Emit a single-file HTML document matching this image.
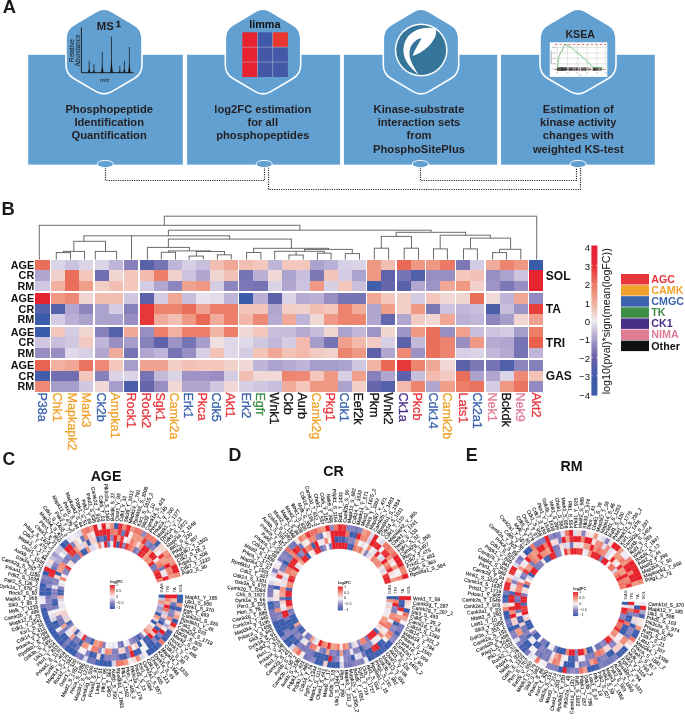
<!DOCTYPE html>
<html><head><meta charset="utf-8"><title>KSEA figure</title>
<style>
html,body{margin:0;padding:0;background:#fff;}
body{width:685px;height:725px;overflow:hidden;}
svg{display:block;font-family:"Liberation Sans", sans-serif;will-change:transform;}
</style></head><body>
<svg width="685" height="725" viewBox="0 0 685 725" font-family='"Liberation Sans", sans-serif'>
<rect x="28.2" y="54.8" width="154.6" height="109.8" fill="#62a0d2"/>
<rect x="187.1" y="54.8" width="153" height="109.8" fill="#62a0d2"/>
<rect x="343.9" y="54.8" width="153.3" height="109.8" fill="#62a0d2"/>
<rect x="501" y="54.8" width="153.8" height="109.8" fill="#62a0d2"/>
<path d="M96.24,11.56 Q104,7 111.76,11.56 L134.24,24.74 Q142,29.3 142,38.3 L142,64.9 Q142,73.9 134.24,78.46 L111.76,91.64 Q104,96.2 96.24,91.64 L73.76,78.46 Q66,73.9 66,64.9 L66,38.3 Q66,29.3 73.76,24.74 Z" fill="#62a0d2" stroke="#fff" stroke-width="1.6"/>
<path d="M255.25,11.58 Q263,7 270.75,11.58 L292.95,24.72 Q300.7,29.3 300.7,38.3 L300.7,64.9 Q300.7,73.9 292.95,78.48 L270.75,91.62 Q263,96.2 255.25,91.62 L233.05,78.48 Q225.3,73.9 225.3,64.9 L225.3,38.3 Q225.3,29.3 233.05,24.72 Z" fill="#62a0d2" stroke="#fff" stroke-width="1.6"/>
<path d="M413.25,11.58 Q421,7 428.75,11.58 L450.95,24.72 Q458.7,29.3 458.7,38.3 L458.7,64.9 Q458.7,73.9 450.95,78.48 L428.75,91.62 Q421,96.2 413.25,91.62 L391.05,78.48 Q383.3,73.9 383.3,64.9 L383.3,38.3 Q383.3,29.3 391.05,24.72 Z" fill="#62a0d2" stroke="#fff" stroke-width="1.6"/>
<path d="M570.24,11.56 Q578,7 585.76,11.56 L608.24,24.74 Q616,29.3 616,38.3 L616,64.9 Q616,73.9 608.24,78.46 L585.76,91.64 Q578,96.2 570.24,91.64 L547.76,78.46 Q540,73.9 540,64.9 L540,38.3 Q540,29.3 547.76,24.74 Z" fill="#62a0d2" stroke="#fff" stroke-width="1.6"/>
<g fill="none" stroke="#2a2a2a" stroke-width="1.2" stroke-dasharray="1.2 1.1">
<path d="M105.5,167.6 V180.5 H264.5 V167.6"/>
<path d="M268.5,167.6 V189.5 H580.5 V167.6"/>
<path d="M420.5,167.6 V180.5 H576.5 V167.6"/>
</g>
<ellipse cx="105.3" cy="164.0" rx="8.1" ry="3.6" fill="#62a0d2" stroke="#fff" stroke-width="0.9"/>
<ellipse cx="264.2" cy="164.0" rx="8.1" ry="3.6" fill="#62a0d2" stroke="#fff" stroke-width="0.9"/>
<ellipse cx="420.4" cy="164.0" rx="8.1" ry="3.6" fill="#62a0d2" stroke="#fff" stroke-width="0.9"/>
<ellipse cx="578.1" cy="164.0" rx="8.1" ry="3.6" fill="#62a0d2" stroke="#fff" stroke-width="0.9"/>
<text x="109.2" y="113" font-size="11.2" font-weight="bold" fill="#231f20" text-anchor="middle" >Phosphopeptide</text>
<text x="109.2" y="126.2" font-size="11.2" font-weight="bold" fill="#231f20" text-anchor="middle" >Identification</text>
<text x="109.2" y="139.4" font-size="11.2" font-weight="bold" fill="#231f20" text-anchor="middle" >Quantification</text>
<text x="262.8" y="113" font-size="11.2" font-weight="bold" fill="#231f20" text-anchor="middle" >log2FC estimation</text>
<text x="262.8" y="126.2" font-size="11.2" font-weight="bold" fill="#231f20" text-anchor="middle" >for all</text>
<text x="262.8" y="139.4" font-size="11.2" font-weight="bold" fill="#231f20" text-anchor="middle" >phosphopeptides</text>
<text x="419" y="113" font-size="11.2" font-weight="bold" fill="#231f20" text-anchor="middle" >Kinase-substrate</text>
<text x="419" y="126.2" font-size="11.2" font-weight="bold" fill="#231f20" text-anchor="middle" >interaction sets</text>
<text x="419" y="139.4" font-size="11.2" font-weight="bold" fill="#231f20" text-anchor="middle" >from</text>
<text x="419" y="152.6" font-size="11.2" font-weight="bold" fill="#231f20" text-anchor="middle" >PhosphoSitePlus</text>
<text x="578.3" y="113" font-size="11.2" font-weight="bold" fill="#231f20" text-anchor="middle" >Estimation of</text>
<text x="578.3" y="126.2" font-size="11.2" font-weight="bold" fill="#231f20" text-anchor="middle" >kinase activity</text>
<text x="578.3" y="139.4" font-size="11.2" font-weight="bold" fill="#231f20" text-anchor="middle" >changes with</text>
<text x="578.3" y="152.6" font-size="11.2" font-weight="bold" fill="#231f20" text-anchor="middle" >weighted KS-test</text>
<g>
<text x="96.8" y="30" font-size="10.4" font-weight="bold" fill="#231f20" text-anchor="start" textLength="17" lengthAdjust="spacingAndGlyphs">MS</text>
<text x="115.9" y="26.5" font-size="8.4" font-weight="bold" fill="#231f20" text-anchor="start" stroke="#231f20" stroke-width="0.3">1</text>
<path d="M81.4,27.3 V72.7 H133.6" fill="none" stroke="#111" stroke-width="0.9"/>
<path d="M89.2,72.7 V60.8" stroke="#111" stroke-width="0.7"/>
<path d="M87.9,72.7 L89.2,68.53 L90.5,72.7Z" fill="#111"/>
<path d="M93.9,72.7 V64.1" stroke="#111" stroke-width="0.7"/>
<path d="M92.6,72.7 L93.9,69.69 L95.2,72.7Z" fill="#111"/>
<path d="M102.3,72.7 V51.6" stroke="#111" stroke-width="0.7"/>
<path d="M101,72.7 L102.3,65.31 L103.6,72.7Z" fill="#111"/>
<path d="M111.5,72.7 V36.5" stroke="#111" stroke-width="0.7"/>
<path d="M110.2,72.7 L111.5,60.03 L112.8,72.7Z" fill="#111"/>
<path d="M119.8,72.7 V66.1" stroke="#111" stroke-width="0.7"/>
<path d="M118.5,72.7 L119.8,70.39 L121.1,72.7Z" fill="#111"/>
<path d="M124.4,72.7 V60.8" stroke="#111" stroke-width="0.7"/>
<path d="M123.1,72.7 L124.4,68.53 L125.7,72.7Z" fill="#111"/>
<path d="M129.4,72.7 V47" stroke="#111" stroke-width="0.7"/>
<path d="M128.1,72.7 L129.4,63.7 L130.7,72.7Z" fill="#111"/>
<text transform="translate(74.4,50.5) rotate(-90)" font-size="6.3" text-anchor="middle" fill="#111">Relative</text>
<text transform="translate(80.0,50.5) rotate(-90)" font-size="6.3" text-anchor="middle" fill="#111">Abundance</text>
<text x="104.7" y="82.2" font-size="6" text-anchor="middle" fill="#111">m/z</text>
</g>
<text x="264.8" y="27.6" font-size="10.8" font-weight="bold" fill="#111" text-anchor="middle" >limma</text>
<rect x="242.3" y="32.3" width="15.2" height="14.9" fill="#e8222f"/>
<rect x="257.5" y="32.3" width="15.2" height="14.9" fill="#3f5aa8"/>
<rect x="272.7" y="32.3" width="15.2" height="14.9" fill="#e8382f"/>
<rect x="242.3" y="47.2" width="15.2" height="14.9" fill="#e8222f"/>
<rect x="257.5" y="47.2" width="15.2" height="14.9" fill="#4458a8"/>
<rect x="272.7" y="47.2" width="15.2" height="14.9" fill="#4458a8"/>
<rect x="242.3" y="62.1" width="15.2" height="14.9" fill="#e8222f"/>
<rect x="257.5" y="62.1" width="15.2" height="14.9" fill="#4458a8"/>
<rect x="272.7" y="62.1" width="15.2" height="14.9" fill="#4458a8"/>
<g stroke="#d8d0e0" stroke-width="0.5" opacity="0.8">
<line x1="257.5" y1="32.3" x2="257.5" y2="77"/>
<line x1="242.3" y1="47.2" x2="287.9" y2="47.2"/>
<line x1="272.7" y1="32.3" x2="272.7" y2="77"/>
<line x1="242.3" y1="62.1" x2="287.9" y2="62.1"/>
</g>
<circle cx="421.2" cy="50.0" r="26.45" fill="#fff"/>
<circle cx="421.2" cy="50.0" r="24.95" fill="#357599"/>
<g transform="translate(393,22) scale(0.081753)">
<path d="M314.0,646.0 C302.5,635.8 269.8,612.3 245.0,585.0 C220.2,557.7 184.2,516.2 165.0,482.0 C145.8,447.8 135.0,413.7 130.0,380.0 C125.0,346.3 127.5,311.7 135.0,280.0 C142.5,248.3 155.8,216.7 175.0,190.0 C194.2,163.3 220.8,138.3 250.0,120.0 C279.2,101.7 316.7,88.3 350.0,80.0 C383.3,71.7 423.3,69.2 450.0,70.0 C476.7,70.8 497.0,77.0 510.0,85.0 C523.0,93.0 525.0,112.5 528.0,118.0 C526.7,126.7 526.3,152.2 520.0,170.0 C513.7,187.8 503.3,205.0 490.0,225.0 C476.7,245.0 460.0,269.2 440.0,290.0 C420.0,310.8 393.3,333.0 370.0,350.0 C346.7,367.0 322.0,381.2 300.0,392.0 C278.0,402.8 248.3,411.2 238.0,415.0 C243.0,403.3 256.0,369.5 268.0,345.0 C280.0,320.5 296.0,292.5 310.0,268.0 C324.0,243.5 345.0,209.7 352.0,198.0 C343.3,200.3 317.3,202.0 300.0,212.0 C282.7,222.0 262.7,240.3 248.0,258.0 C233.3,275.7 219.7,294.3 212.0,318.0 C204.3,341.7 199.8,371.3 202.0,400.0 C204.2,428.7 214.0,461.3 225.0,490.0 C236.0,518.7 253.2,546.0 268.0,572.0 C282.8,598.0 306.3,633.7 314.0,646.0 Z" fill="#fff"/>
</g>
<text x="580.2" y="37.6" font-size="10.6" font-weight="bold" fill="#231f20" text-anchor="middle" >KSEA</text>
<rect x="549.8" y="42.3" width="57.5" height="34.6" fill="#fff"/>
<g transform="translate(547,40) scale(0.093431)">
<line x1="110" y1="40" x2="110" y2="318" stroke="#d4d4d4" stroke-width="7"/>
<line x1="220" y1="40" x2="220" y2="318" stroke="#d4d4d4" stroke-width="7"/>
<line x1="325" y1="40" x2="325" y2="318" stroke="#d4d4d4" stroke-width="7"/>
<line x1="430" y1="40" x2="430" y2="318" stroke="#d4d4d4" stroke-width="7"/>
<line x1="535" y1="40" x2="535" y2="318" stroke="#d4d4d4" stroke-width="7"/>
<line x1="630" y1="40" x2="630" y2="318" stroke="#d4d4d4" stroke-width="7"/>
<line x1="100" y1="80" x2="635" y2="80" stroke="#d4d4d4" stroke-width="7"/>
<line x1="100" y1="140" x2="635" y2="140" stroke="#d4d4d4" stroke-width="7"/>
<line x1="100" y1="195" x2="635" y2="195" stroke="#d4d4d4" stroke-width="7"/>
<line x1="100" y1="255" x2="635" y2="255" stroke="#d4d4d4" stroke-width="7"/>
<line x1="58" y1="80" x2="95" y2="80" stroke="#aaa" stroke-width="9"/>
<line x1="58" y1="140" x2="95" y2="140" stroke="#aaa" stroke-width="9"/>
<line x1="58" y1="195" x2="95" y2="195" stroke="#aaa" stroke-width="9"/>
<line x1="58" y1="255" x2="95" y2="255" stroke="#aaa" stroke-width="9"/>
<line x1="58" y1="310" x2="95" y2="310" stroke="#aaa" stroke-width="9"/>
<line x1="45" y1="120" x2="45" y2="260" stroke="#999" stroke-width="9"/>
<line x1="96" y1="352" x2="124" y2="352" stroke="#bbb" stroke-width="8"/>
<line x1="206" y1="352" x2="234" y2="352" stroke="#bbb" stroke-width="8"/>
<line x1="311" y1="352" x2="339" y2="352" stroke="#bbb" stroke-width="8"/>
<line x1="416" y1="352" x2="444" y2="352" stroke="#bbb" stroke-width="8"/>
<line x1="521" y1="352" x2="549" y2="352" stroke="#bbb" stroke-width="8"/>
<line x1="616" y1="352" x2="644" y2="352" stroke="#bbb" stroke-width="8"/>
<line x1="340" y1="376" x2="372" y2="376" stroke="#bbb" stroke-width="8"/>
<line x1="85" y1="48" x2="632" y2="48" stroke="#e85050" stroke-width="9" stroke-dasharray="24 24"/>
<line x1="85" y1="315" x2="632" y2="315" stroke="#b03030" stroke-width="8" stroke-dasharray="20 12"/>
<line x1="112" y1="292" x2="112" y2="330" stroke="#111" stroke-width="7"/>
<line x1="118" y1="292" x2="118" y2="330" stroke="#111" stroke-width="7"/>
<line x1="124" y1="292" x2="124" y2="330" stroke="#111" stroke-width="7"/>
<line x1="132" y1="292" x2="132" y2="330" stroke="#111" stroke-width="7"/>
<line x1="140" y1="292" x2="140" y2="330" stroke="#111" stroke-width="7"/>
<line x1="148" y1="292" x2="148" y2="330" stroke="#111" stroke-width="7"/>
<line x1="152" y1="292" x2="152" y2="330" stroke="#111" stroke-width="7"/>
<line x1="158" y1="292" x2="158" y2="330" stroke="#111" stroke-width="7"/>
<line x1="165" y1="292" x2="165" y2="330" stroke="#111" stroke-width="7"/>
<line x1="170" y1="292" x2="170" y2="330" stroke="#111" stroke-width="7"/>
<line x1="176" y1="292" x2="176" y2="330" stroke="#111" stroke-width="7"/>
<line x1="183" y1="292" x2="183" y2="330" stroke="#111" stroke-width="7"/>
<line x1="190" y1="292" x2="190" y2="330" stroke="#111" stroke-width="7"/>
<line x1="198" y1="292" x2="198" y2="330" stroke="#111" stroke-width="7"/>
<line x1="205" y1="292" x2="205" y2="330" stroke="#111" stroke-width="7"/>
<line x1="212" y1="292" x2="212" y2="330" stroke="#111" stroke-width="7"/>
<line x1="235" y1="292" x2="235" y2="330" stroke="#111" stroke-width="7"/>
<line x1="243" y1="292" x2="243" y2="330" stroke="#111" stroke-width="7"/>
<line x1="250" y1="292" x2="250" y2="330" stroke="#111" stroke-width="7"/>
<line x1="258" y1="292" x2="258" y2="330" stroke="#111" stroke-width="7"/>
<line x1="266" y1="292" x2="266" y2="330" stroke="#111" stroke-width="7"/>
<line x1="275" y1="292" x2="275" y2="330" stroke="#111" stroke-width="7"/>
<line x1="290" y1="292" x2="290" y2="330" stroke="#111" stroke-width="7"/>
<line x1="300" y1="292" x2="300" y2="330" stroke="#111" stroke-width="7"/>
<line x1="312" y1="292" x2="312" y2="330" stroke="#111" stroke-width="7"/>
<line x1="320" y1="292" x2="320" y2="330" stroke="#111" stroke-width="7"/>
<line x1="330" y1="292" x2="330" y2="330" stroke="#111" stroke-width="7"/>
<line x1="345" y1="292" x2="345" y2="330" stroke="#111" stroke-width="7"/>
<line x1="368" y1="292" x2="368" y2="330" stroke="#111" stroke-width="7"/>
<line x1="378" y1="292" x2="378" y2="330" stroke="#111" stroke-width="7"/>
<line x1="388" y1="292" x2="388" y2="330" stroke="#111" stroke-width="7"/>
<line x1="400" y1="292" x2="400" y2="330" stroke="#111" stroke-width="7"/>
<line x1="410" y1="292" x2="410" y2="330" stroke="#111" stroke-width="7"/>
<line x1="418" y1="292" x2="418" y2="330" stroke="#111" stroke-width="7"/>
<line x1="440" y1="292" x2="440" y2="330" stroke="#111" stroke-width="7"/>
<line x1="462" y1="292" x2="462" y2="330" stroke="#111" stroke-width="7"/>
<line x1="495" y1="292" x2="495" y2="330" stroke="#111" stroke-width="7"/>
<line x1="502" y1="292" x2="502" y2="330" stroke="#111" stroke-width="7"/>
<line x1="508" y1="292" x2="508" y2="330" stroke="#111" stroke-width="7"/>
<line x1="515" y1="292" x2="515" y2="330" stroke="#111" stroke-width="7"/>
<line x1="522" y1="292" x2="522" y2="330" stroke="#111" stroke-width="7"/>
<line x1="528" y1="292" x2="528" y2="330" stroke="#111" stroke-width="7"/>
<line x1="540" y1="292" x2="540" y2="330" stroke="#111" stroke-width="7"/>
<line x1="555" y1="292" x2="555" y2="330" stroke="#111" stroke-width="7"/>
<line x1="568" y1="292" x2="568" y2="330" stroke="#111" stroke-width="7"/>
<line x1="580" y1="292" x2="580" y2="330" stroke="#111" stroke-width="7"/>
<polyline points="110,312 118,240 125,185 140,150 150,125 162,120 172,85 182,60 195,52 212,55 235,68 262,82 295,110 330,140 375,180 420,220 460,258 492,292 540,297 600,302" fill="none" stroke="#4caf50" stroke-width="8" stroke-linejoin="round"/>
</g>
<text x="2.8" y="13.1" font-size="18.4" font-weight="bold" fill="#1a1a1a">A</text>
<g shape-rendering="crispEdges">
<rect x="35.44" y="259.63" width="14.1" height="10.5" fill="#ea6f5b"/>
<rect x="35.44" y="270.07" width="14.1" height="10.5" fill="#b0a6d0"/>
<rect x="35.44" y="280.52" width="14.1" height="10.5" fill="#d0c7e1"/>
<rect x="35.44" y="293.2" width="14.1" height="10.5" fill="#e52432"/>
<rect x="35.44" y="303.65" width="14.1" height="10.5" fill="#5560aa"/>
<rect x="35.44" y="314.1" width="14.1" height="10.5" fill="#3b5caa"/>
<rect x="35.44" y="326.78" width="14.1" height="10.5" fill="#3b5caa"/>
<rect x="35.44" y="337.23" width="14.1" height="10.5" fill="#d0c7e1"/>
<rect x="35.44" y="347.67" width="14.1" height="10.5" fill="#988ec2"/>
<rect x="35.44" y="360.36" width="14.1" height="10.5" fill="#e96450"/>
<rect x="35.44" y="370.8" width="14.1" height="10.5" fill="#425daa"/>
<rect x="35.44" y="381.25" width="14.1" height="10.5" fill="#ed8975"/>
<rect x="50.94" y="259.63" width="14.1" height="10.5" fill="#dbd4e6"/>
<rect x="50.94" y="270.07" width="14.1" height="10.5" fill="#f2d1cc"/>
<rect x="50.94" y="280.52" width="14.1" height="10.5" fill="#f1b0a0"/>
<rect x="50.94" y="293.2" width="14.1" height="10.5" fill="#ef9985"/>
<rect x="50.94" y="303.65" width="14.1" height="10.5" fill="#5560aa"/>
<rect x="50.94" y="314.1" width="14.1" height="10.5" fill="#d3cce3"/>
<rect x="50.94" y="326.78" width="14.1" height="10.5" fill="#f3c7bc"/>
<rect x="50.94" y="337.23" width="14.1" height="10.5" fill="#c8bfdd"/>
<rect x="50.94" y="347.67" width="14.1" height="10.5" fill="#988ec2"/>
<rect x="50.94" y="360.36" width="14.1" height="10.5" fill="#f1b0a0"/>
<rect x="50.94" y="370.8" width="14.1" height="10.5" fill="#716fb1"/>
<rect x="50.94" y="381.25" width="14.1" height="10.5" fill="#a69dca"/>
<rect x="65" y="259.63" width="14.1" height="10.5" fill="#ccc3df"/>
<rect x="65" y="270.07" width="14.1" height="10.5" fill="#ea6f5b"/>
<rect x="65" y="280.52" width="14.1" height="10.5" fill="#ea6f5b"/>
<rect x="65" y="293.2" width="14.1" height="10.5" fill="#ed8975"/>
<rect x="65" y="303.65" width="14.1" height="10.5" fill="#b0a6d0"/>
<rect x="65" y="314.1" width="14.1" height="10.5" fill="#bab0d5"/>
<rect x="65" y="326.78" width="14.1" height="10.5" fill="#d3cce3"/>
<rect x="65" y="337.23" width="14.1" height="10.5" fill="#d0c7e1"/>
<rect x="65" y="347.67" width="14.1" height="10.5" fill="#dfd8e8"/>
<rect x="65" y="360.36" width="14.1" height="10.5" fill="#f0a796"/>
<rect x="65" y="370.8" width="14.1" height="10.5" fill="#716fb1"/>
<rect x="65" y="381.25" width="14.1" height="10.5" fill="#a69dca"/>
<rect x="79.05" y="259.63" width="14.1" height="10.5" fill="#dbd4e6"/>
<rect x="79.05" y="270.07" width="14.1" height="10.5" fill="#f3c7bc"/>
<rect x="79.05" y="280.52" width="14.1" height="10.5" fill="#ef9e8a"/>
<rect x="79.05" y="293.2" width="14.1" height="10.5" fill="#f1d5d1"/>
<rect x="79.05" y="303.65" width="14.1" height="10.5" fill="#8d85bd"/>
<rect x="79.05" y="314.1" width="14.1" height="10.5" fill="#aba2cd"/>
<rect x="79.05" y="326.78" width="14.1" height="10.5" fill="#f1d5d1"/>
<rect x="79.05" y="337.23" width="14.1" height="10.5" fill="#f2cac1"/>
<rect x="79.05" y="347.67" width="14.1" height="10.5" fill="#d7d0e5"/>
<rect x="79.05" y="360.36" width="14.1" height="10.5" fill="#eb7460"/>
<rect x="79.05" y="370.8" width="14.1" height="10.5" fill="#f3c7bc"/>
<rect x="79.05" y="381.25" width="14.1" height="10.5" fill="#d0c7e1"/>
<rect x="94.55" y="259.63" width="14.1" height="10.5" fill="#dbd4e6"/>
<rect x="94.55" y="270.07" width="14.1" height="10.5" fill="#716fb1"/>
<rect x="94.55" y="280.52" width="14.1" height="10.5" fill="#f2cec6"/>
<rect x="94.55" y="293.2" width="14.1" height="10.5" fill="#f2beb1"/>
<rect x="94.55" y="303.65" width="14.1" height="10.5" fill="#aba2cd"/>
<rect x="94.55" y="314.1" width="14.1" height="10.5" fill="#aba2cd"/>
<rect x="94.55" y="326.78" width="14.1" height="10.5" fill="#8781bb"/>
<rect x="94.55" y="337.23" width="14.1" height="10.5" fill="#beb5d8"/>
<rect x="94.55" y="347.67" width="14.1" height="10.5" fill="#b0a6d0"/>
<rect x="94.55" y="360.36" width="14.1" height="10.5" fill="#ed8975"/>
<rect x="94.55" y="370.8" width="14.1" height="10.5" fill="#8781bb"/>
<rect x="94.55" y="381.25" width="14.1" height="10.5" fill="#f0d8d6"/>
<rect x="108.6" y="259.63" width="14.1" height="10.5" fill="#beb5d8"/>
<rect x="108.6" y="270.07" width="14.1" height="10.5" fill="#f1d5d1"/>
<rect x="108.6" y="280.52" width="14.1" height="10.5" fill="#f2beb1"/>
<rect x="108.6" y="293.2" width="14.1" height="10.5" fill="#f2beb1"/>
<rect x="108.6" y="303.65" width="14.1" height="10.5" fill="#d3cce3"/>
<rect x="108.6" y="314.1" width="14.1" height="10.5" fill="#aba2cd"/>
<rect x="108.6" y="326.78" width="14.1" height="10.5" fill="#5560aa"/>
<rect x="108.6" y="337.23" width="14.1" height="10.5" fill="#988ec2"/>
<rect x="108.6" y="347.67" width="14.1" height="10.5" fill="#f1ab9b"/>
<rect x="108.6" y="360.36" width="14.1" height="10.5" fill="#f3c7bc"/>
<rect x="108.6" y="370.8" width="14.1" height="10.5" fill="#dbd4e6"/>
<rect x="108.6" y="381.25" width="14.1" height="10.5" fill="#a69dca"/>
<rect x="124.11" y="259.63" width="14.1" height="10.5" fill="#8781bb"/>
<rect x="124.11" y="270.07" width="14.1" height="10.5" fill="#f3c7bc"/>
<rect x="124.11" y="280.52" width="14.1" height="10.5" fill="#f3c7bc"/>
<rect x="124.11" y="293.2" width="14.1" height="10.5" fill="#d0c7e1"/>
<rect x="124.11" y="303.65" width="14.1" height="10.5" fill="#8781bb"/>
<rect x="124.11" y="314.1" width="14.1" height="10.5" fill="#988ec2"/>
<rect x="124.11" y="326.78" width="14.1" height="10.5" fill="#f0a796"/>
<rect x="124.11" y="337.23" width="14.1" height="10.5" fill="#a69dca"/>
<rect x="124.11" y="347.67" width="14.1" height="10.5" fill="#7674b4"/>
<rect x="124.11" y="360.36" width="14.1" height="10.5" fill="#a69dca"/>
<rect x="124.11" y="370.8" width="14.1" height="10.5" fill="#dbd4e6"/>
<rect x="124.11" y="381.25" width="14.1" height="10.5" fill="#4a5eaa"/>
<rect x="139.61" y="259.63" width="14.1" height="10.5" fill="#5961aa"/>
<rect x="139.61" y="270.07" width="14.1" height="10.5" fill="#f2b9ac"/>
<rect x="139.61" y="280.52" width="14.1" height="10.5" fill="#d3cce3"/>
<rect x="139.61" y="293.2" width="14.1" height="10.5" fill="#5c61aa"/>
<rect x="139.61" y="303.65" width="14.1" height="10.5" fill="#e6373b"/>
<rect x="139.61" y="314.1" width="14.1" height="10.5" fill="#e6373b"/>
<rect x="139.61" y="326.78" width="14.1" height="10.5" fill="#988ec2"/>
<rect x="139.61" y="337.23" width="14.1" height="10.5" fill="#8781bb"/>
<rect x="139.61" y="347.67" width="14.1" height="10.5" fill="#b0a6d0"/>
<rect x="139.61" y="360.36" width="14.1" height="10.5" fill="#f0a290"/>
<rect x="139.61" y="370.8" width="14.1" height="10.5" fill="#7674b4"/>
<rect x="139.61" y="381.25" width="14.1" height="10.5" fill="#6666ac"/>
<rect x="153.66" y="259.63" width="14.1" height="10.5" fill="#7674b4"/>
<rect x="153.66" y="270.07" width="14.1" height="10.5" fill="#ec7e6a"/>
<rect x="153.66" y="280.52" width="14.1" height="10.5" fill="#b0a6d0"/>
<rect x="153.66" y="293.2" width="14.1" height="10.5" fill="#d3cce3"/>
<rect x="153.66" y="303.65" width="14.1" height="10.5" fill="#ed8470"/>
<rect x="153.66" y="314.1" width="14.1" height="10.5" fill="#f1ab9b"/>
<rect x="153.66" y="326.78" width="14.1" height="10.5" fill="#ec7e6a"/>
<rect x="153.66" y="337.23" width="14.1" height="10.5" fill="#6062aa"/>
<rect x="153.66" y="347.67" width="14.1" height="10.5" fill="#beb5d8"/>
<rect x="153.66" y="360.36" width="14.1" height="10.5" fill="#f0a290"/>
<rect x="153.66" y="370.8" width="14.1" height="10.5" fill="#c3bada"/>
<rect x="153.66" y="381.25" width="14.1" height="10.5" fill="#988ec2"/>
<rect x="167.71" y="259.63" width="14.1" height="10.5" fill="#beb5d8"/>
<rect x="167.71" y="270.07" width="14.1" height="10.5" fill="#f2d1cc"/>
<rect x="167.71" y="280.52" width="14.1" height="10.5" fill="#8d85bd"/>
<rect x="167.71" y="293.2" width="14.1" height="10.5" fill="#f0a796"/>
<rect x="167.71" y="303.65" width="14.1" height="10.5" fill="#ed8470"/>
<rect x="167.71" y="314.1" width="14.1" height="10.5" fill="#f2beb1"/>
<rect x="167.71" y="326.78" width="14.1" height="10.5" fill="#f1b0a0"/>
<rect x="167.71" y="337.23" width="14.1" height="10.5" fill="#9d93c5"/>
<rect x="167.71" y="347.67" width="14.1" height="10.5" fill="#7674b4"/>
<rect x="167.71" y="360.36" width="14.1" height="10.5" fill="#f2cec6"/>
<rect x="167.71" y="370.8" width="14.1" height="10.5" fill="#dbd4e6"/>
<rect x="167.71" y="381.25" width="14.1" height="10.5" fill="#f0d8d6"/>
<rect x="181.76" y="259.63" width="14.1" height="10.5" fill="#d7d0e5"/>
<rect x="181.76" y="270.07" width="14.1" height="10.5" fill="#ccc3df"/>
<rect x="181.76" y="280.52" width="14.1" height="10.5" fill="#f0a290"/>
<rect x="181.76" y="293.2" width="14.1" height="10.5" fill="#c8bfdd"/>
<rect x="181.76" y="303.65" width="14.1" height="10.5" fill="#ea6f5b"/>
<rect x="181.76" y="314.1" width="14.1" height="10.5" fill="#ef9985"/>
<rect x="181.76" y="326.78" width="14.1" height="10.5" fill="#ec7e6a"/>
<rect x="181.76" y="337.23" width="14.1" height="10.5" fill="#7674b4"/>
<rect x="181.76" y="347.67" width="14.1" height="10.5" fill="#988ec2"/>
<rect x="181.76" y="360.36" width="14.1" height="10.5" fill="#f3c2b6"/>
<rect x="181.76" y="370.8" width="14.1" height="10.5" fill="#9d93c5"/>
<rect x="181.76" y="381.25" width="14.1" height="10.5" fill="#b0a6d0"/>
<rect x="195.81" y="259.63" width="14.1" height="10.5" fill="#c8bfdd"/>
<rect x="195.81" y="270.07" width="14.1" height="10.5" fill="#b0a6d0"/>
<rect x="195.81" y="280.52" width="14.1" height="10.5" fill="#ef9985"/>
<rect x="195.81" y="293.2" width="14.1" height="10.5" fill="#e6e1ec"/>
<rect x="195.81" y="303.65" width="14.1" height="10.5" fill="#f0a290"/>
<rect x="195.81" y="314.1" width="14.1" height="10.5" fill="#ea6955"/>
<rect x="195.81" y="326.78" width="14.1" height="10.5" fill="#ec7e6a"/>
<rect x="195.81" y="337.23" width="14.1" height="10.5" fill="#a69dca"/>
<rect x="195.81" y="347.67" width="14.1" height="10.5" fill="#d7d0e5"/>
<rect x="195.81" y="360.36" width="14.1" height="10.5" fill="#f3c7bc"/>
<rect x="195.81" y="370.8" width="14.1" height="10.5" fill="#9d93c5"/>
<rect x="195.81" y="381.25" width="14.1" height="10.5" fill="#b0a6d0"/>
<rect x="209.86" y="259.63" width="14.1" height="10.5" fill="#f2beb1"/>
<rect x="209.86" y="270.07" width="14.1" height="10.5" fill="#f1d5d1"/>
<rect x="209.86" y="280.52" width="14.1" height="10.5" fill="#d3cce3"/>
<rect x="209.86" y="293.2" width="14.1" height="10.5" fill="#e3dcea"/>
<rect x="209.86" y="303.65" width="14.1" height="10.5" fill="#ec7e6a"/>
<rect x="209.86" y="314.1" width="14.1" height="10.5" fill="#f1ab9b"/>
<rect x="209.86" y="326.78" width="14.1" height="10.5" fill="#f1b5a6"/>
<rect x="209.86" y="337.23" width="14.1" height="10.5" fill="#f0dfe0"/>
<rect x="209.86" y="347.67" width="14.1" height="10.5" fill="#f3c2b6"/>
<rect x="209.86" y="360.36" width="14.1" height="10.5" fill="#f3c7bc"/>
<rect x="209.86" y="370.8" width="14.1" height="10.5" fill="#988ec2"/>
<rect x="209.86" y="381.25" width="14.1" height="10.5" fill="#d0c7e1"/>
<rect x="223.91" y="259.63" width="14.1" height="10.5" fill="#f0a796"/>
<rect x="223.91" y="270.07" width="14.1" height="10.5" fill="#f3c2b6"/>
<rect x="223.91" y="280.52" width="14.1" height="10.5" fill="#8d85bd"/>
<rect x="223.91" y="293.2" width="14.1" height="10.5" fill="#beb5d8"/>
<rect x="223.91" y="303.65" width="14.1" height="10.5" fill="#ec7e6a"/>
<rect x="223.91" y="314.1" width="14.1" height="10.5" fill="#ec7e6a"/>
<rect x="223.91" y="326.78" width="14.1" height="10.5" fill="#ec7e6a"/>
<rect x="223.91" y="337.23" width="14.1" height="10.5" fill="#dfd8e8"/>
<rect x="223.91" y="347.67" width="14.1" height="10.5" fill="#dfd8e8"/>
<rect x="223.91" y="360.36" width="14.1" height="10.5" fill="#f2d1cc"/>
<rect x="223.91" y="370.8" width="14.1" height="10.5" fill="#d3cce3"/>
<rect x="223.91" y="381.25" width="14.1" height="10.5" fill="#f0d8d6"/>
<rect x="239.42" y="259.63" width="14.1" height="10.5" fill="#f2beb1"/>
<rect x="239.42" y="270.07" width="14.1" height="10.5" fill="#7674b4"/>
<rect x="239.42" y="280.52" width="14.1" height="10.5" fill="#7c78b6"/>
<rect x="239.42" y="293.2" width="14.1" height="10.5" fill="#3b5caa"/>
<rect x="239.42" y="303.65" width="14.1" height="10.5" fill="#f3c5b9"/>
<rect x="239.42" y="314.1" width="14.1" height="10.5" fill="#f2b7a9"/>
<rect x="239.42" y="326.78" width="14.1" height="10.5" fill="#f0d8d6"/>
<rect x="239.42" y="337.23" width="14.1" height="10.5" fill="#dfd8e8"/>
<rect x="239.42" y="347.67" width="14.1" height="10.5" fill="#d3cce3"/>
<rect x="239.42" y="360.36" width="14.1" height="10.5" fill="#f0d8d6"/>
<rect x="239.42" y="370.8" width="14.1" height="10.5" fill="#f2beb1"/>
<rect x="239.42" y="381.25" width="14.1" height="10.5" fill="#d7d0e5"/>
<rect x="253.47" y="259.63" width="14.1" height="10.5" fill="#f3c7bc"/>
<rect x="253.47" y="270.07" width="14.1" height="10.5" fill="#bab0d5"/>
<rect x="253.47" y="280.52" width="14.1" height="10.5" fill="#7674b4"/>
<rect x="253.47" y="293.2" width="14.1" height="10.5" fill="#bab0d5"/>
<rect x="253.47" y="303.65" width="14.1" height="10.5" fill="#f3c5b9"/>
<rect x="253.47" y="314.1" width="14.1" height="10.5" fill="#ed8975"/>
<rect x="253.47" y="326.78" width="14.1" height="10.5" fill="#f3c7bc"/>
<rect x="253.47" y="337.23" width="14.1" height="10.5" fill="#d0c7e1"/>
<rect x="253.47" y="347.67" width="14.1" height="10.5" fill="#f3c5b9"/>
<rect x="253.47" y="360.36" width="14.1" height="10.5" fill="#beb5d8"/>
<rect x="253.47" y="370.8" width="14.1" height="10.5" fill="#f0d8d6"/>
<rect x="253.47" y="381.25" width="14.1" height="10.5" fill="#d0c7e1"/>
<rect x="267.51" y="259.63" width="14.1" height="10.5" fill="#beb5d8"/>
<rect x="267.51" y="270.07" width="14.1" height="10.5" fill="#f0d8d6"/>
<rect x="267.51" y="280.52" width="14.1" height="10.5" fill="#dbd4e6"/>
<rect x="267.51" y="293.2" width="14.1" height="10.5" fill="#5c61aa"/>
<rect x="267.51" y="303.65" width="14.1" height="10.5" fill="#b0a6d0"/>
<rect x="267.51" y="314.1" width="14.1" height="10.5" fill="#b5abd2"/>
<rect x="267.51" y="326.78" width="14.1" height="10.5" fill="#c8bfdd"/>
<rect x="267.51" y="337.23" width="14.1" height="10.5" fill="#c1b8d9"/>
<rect x="267.51" y="347.67" width="14.1" height="10.5" fill="#f0a796"/>
<rect x="267.51" y="360.36" width="14.1" height="10.5" fill="#aba2cd"/>
<rect x="267.51" y="370.8" width="14.1" height="10.5" fill="#f0d8d6"/>
<rect x="267.51" y="381.25" width="14.1" height="10.5" fill="#c8bfdd"/>
<rect x="281.56" y="259.63" width="14.1" height="10.5" fill="#f3c7bc"/>
<rect x="281.56" y="270.07" width="14.1" height="10.5" fill="#aba2cd"/>
<rect x="281.56" y="280.52" width="14.1" height="10.5" fill="#b0a6d0"/>
<rect x="281.56" y="293.2" width="14.1" height="10.5" fill="#dbd4e6"/>
<rect x="281.56" y="303.65" width="14.1" height="10.5" fill="#f2cec6"/>
<rect x="281.56" y="314.1" width="14.1" height="10.5" fill="#f0a998"/>
<rect x="281.56" y="326.78" width="14.1" height="10.5" fill="#c6bddc"/>
<rect x="281.56" y="337.23" width="14.1" height="10.5" fill="#d3cce3"/>
<rect x="281.56" y="347.67" width="14.1" height="10.5" fill="#f3c2b6"/>
<rect x="281.56" y="360.36" width="14.1" height="10.5" fill="#b5abd2"/>
<rect x="281.56" y="370.8" width="14.1" height="10.5" fill="#ed8470"/>
<rect x="281.56" y="381.25" width="14.1" height="10.5" fill="#f1ab9b"/>
<rect x="295.62" y="259.63" width="14.1" height="10.5" fill="#f3c7bc"/>
<rect x="295.62" y="270.07" width="14.1" height="10.5" fill="#c8bfdd"/>
<rect x="295.62" y="280.52" width="14.1" height="10.5" fill="#ccc3df"/>
<rect x="295.62" y="293.2" width="14.1" height="10.5" fill="#b5abd2"/>
<rect x="295.62" y="303.65" width="14.1" height="10.5" fill="#f2d1cc"/>
<rect x="295.62" y="314.1" width="14.1" height="10.5" fill="#beb5d8"/>
<rect x="295.62" y="326.78" width="14.1" height="10.5" fill="#b5abd2"/>
<rect x="295.62" y="337.23" width="14.1" height="10.5" fill="#f2b9ac"/>
<rect x="295.62" y="347.67" width="14.1" height="10.5" fill="#f2b9ac"/>
<rect x="295.62" y="360.36" width="14.1" height="10.5" fill="#beb5d8"/>
<rect x="295.62" y="370.8" width="14.1" height="10.5" fill="#ed8975"/>
<rect x="295.62" y="381.25" width="14.1" height="10.5" fill="#f3c7bc"/>
<rect x="309.66" y="259.63" width="14.1" height="10.5" fill="#aba2cd"/>
<rect x="309.66" y="270.07" width="14.1" height="10.5" fill="#7c78b6"/>
<rect x="309.66" y="280.52" width="14.1" height="10.5" fill="#ef9985"/>
<rect x="309.66" y="293.2" width="14.1" height="10.5" fill="#bab0d5"/>
<rect x="309.66" y="303.65" width="14.1" height="10.5" fill="#f2beb1"/>
<rect x="309.66" y="314.1" width="14.1" height="10.5" fill="#f0d8d6"/>
<rect x="309.66" y="326.78" width="14.1" height="10.5" fill="#c6bddc"/>
<rect x="309.66" y="337.23" width="14.1" height="10.5" fill="#a69dca"/>
<rect x="309.66" y="347.67" width="14.1" height="10.5" fill="#f2cac1"/>
<rect x="309.66" y="360.36" width="14.1" height="10.5" fill="#a69dca"/>
<rect x="309.66" y="370.8" width="14.1" height="10.5" fill="#f3c7bc"/>
<rect x="309.66" y="381.25" width="14.1" height="10.5" fill="#ef9985"/>
<rect x="323.71" y="259.63" width="14.1" height="10.5" fill="#bab0d5"/>
<rect x="323.71" y="270.07" width="14.1" height="10.5" fill="#f3c5b9"/>
<rect x="323.71" y="280.52" width="14.1" height="10.5" fill="#d7d0e5"/>
<rect x="323.71" y="293.2" width="14.1" height="10.5" fill="#988ec2"/>
<rect x="323.71" y="303.65" width="14.1" height="10.5" fill="#f3c7bc"/>
<rect x="323.71" y="314.1" width="14.1" height="10.5" fill="#ef9985"/>
<rect x="323.71" y="326.78" width="14.1" height="10.5" fill="#f1d5d1"/>
<rect x="323.71" y="337.23" width="14.1" height="10.5" fill="#7674b4"/>
<rect x="323.71" y="347.67" width="14.1" height="10.5" fill="#f2d1cc"/>
<rect x="323.71" y="360.36" width="14.1" height="10.5" fill="#a69dca"/>
<rect x="323.71" y="370.8" width="14.1" height="10.5" fill="#ef9985"/>
<rect x="323.71" y="381.25" width="14.1" height="10.5" fill="#ef9985"/>
<rect x="337.76" y="259.63" width="14.1" height="10.5" fill="#d7d0e5"/>
<rect x="337.76" y="270.07" width="14.1" height="10.5" fill="#d3cce3"/>
<rect x="337.76" y="280.52" width="14.1" height="10.5" fill="#f3c7bc"/>
<rect x="337.76" y="293.2" width="14.1" height="10.5" fill="#7674b4"/>
<rect x="337.76" y="303.65" width="14.1" height="10.5" fill="#ed8470"/>
<rect x="337.76" y="314.1" width="14.1" height="10.5" fill="#ed8470"/>
<rect x="337.76" y="326.78" width="14.1" height="10.5" fill="#aba2cd"/>
<rect x="337.76" y="337.23" width="14.1" height="10.5" fill="#f0a08d"/>
<rect x="337.76" y="347.67" width="14.1" height="10.5" fill="#ed8470"/>
<rect x="337.76" y="360.36" width="14.1" height="10.5" fill="#aba2cd"/>
<rect x="337.76" y="370.8" width="14.1" height="10.5" fill="#d7d0e5"/>
<rect x="337.76" y="381.25" width="14.1" height="10.5" fill="#aba2cd"/>
<rect x="351.81" y="259.63" width="14.1" height="10.5" fill="#dbd4e6"/>
<rect x="351.81" y="270.07" width="14.1" height="10.5" fill="#aba2cd"/>
<rect x="351.81" y="280.52" width="14.1" height="10.5" fill="#c8bfdd"/>
<rect x="351.81" y="293.2" width="14.1" height="10.5" fill="#7674b4"/>
<rect x="351.81" y="303.65" width="14.1" height="10.5" fill="#f1ab9b"/>
<rect x="351.81" y="314.1" width="14.1" height="10.5" fill="#ed8470"/>
<rect x="351.81" y="326.78" width="14.1" height="10.5" fill="#c1b8d9"/>
<rect x="351.81" y="337.23" width="14.1" height="10.5" fill="#f2b9ac"/>
<rect x="351.81" y="347.67" width="14.1" height="10.5" fill="#ef9985"/>
<rect x="351.81" y="360.36" width="14.1" height="10.5" fill="#d0c7e1"/>
<rect x="351.81" y="370.8" width="14.1" height="10.5" fill="#f0a08d"/>
<rect x="351.81" y="381.25" width="14.1" height="10.5" fill="#f2cec6"/>
<rect x="367.32" y="259.63" width="14.1" height="10.5" fill="#ef9985"/>
<rect x="367.32" y="270.07" width="14.1" height="10.5" fill="#ef9985"/>
<rect x="367.32" y="280.52" width="14.1" height="10.5" fill="#425daa"/>
<rect x="367.32" y="293.2" width="14.1" height="10.5" fill="#f0a796"/>
<rect x="367.32" y="303.65" width="14.1" height="10.5" fill="#b0a6d0"/>
<rect x="367.32" y="314.1" width="14.1" height="10.5" fill="#b0a6d0"/>
<rect x="367.32" y="326.78" width="14.1" height="10.5" fill="#9d93c5"/>
<rect x="367.32" y="337.23" width="14.1" height="10.5" fill="#f2ccc4"/>
<rect x="367.32" y="347.67" width="14.1" height="10.5" fill="#5c61aa"/>
<rect x="367.32" y="360.36" width="14.1" height="10.5" fill="#f1b5a6"/>
<rect x="367.32" y="370.8" width="14.1" height="10.5" fill="#8781bb"/>
<rect x="367.32" y="381.25" width="14.1" height="10.5" fill="#6666ac"/>
<rect x="381.37" y="259.63" width="14.1" height="10.5" fill="#f2beb1"/>
<rect x="381.37" y="270.07" width="14.1" height="10.5" fill="#6062aa"/>
<rect x="381.37" y="280.52" width="14.1" height="10.5" fill="#6666ac"/>
<rect x="381.37" y="293.2" width="14.1" height="10.5" fill="#f3c7bc"/>
<rect x="381.37" y="303.65" width="14.1" height="10.5" fill="#ef9e8a"/>
<rect x="381.37" y="314.1" width="14.1" height="10.5" fill="#6666ac"/>
<rect x="381.37" y="326.78" width="14.1" height="10.5" fill="#f1d5d1"/>
<rect x="381.37" y="337.23" width="14.1" height="10.5" fill="#d7d0e5"/>
<rect x="381.37" y="347.67" width="14.1" height="10.5" fill="#b0a6d0"/>
<rect x="381.37" y="360.36" width="14.1" height="10.5" fill="#ea6955"/>
<rect x="381.37" y="370.8" width="14.1" height="10.5" fill="#b0a6d0"/>
<rect x="381.37" y="381.25" width="14.1" height="10.5" fill="#5560aa"/>
<rect x="396.88" y="259.63" width="14.1" height="10.5" fill="#ea6955"/>
<rect x="396.88" y="270.07" width="14.1" height="10.5" fill="#7674b4"/>
<rect x="396.88" y="280.52" width="14.1" height="10.5" fill="#5961aa"/>
<rect x="396.88" y="293.2" width="14.1" height="10.5" fill="#f2cec6"/>
<rect x="396.88" y="303.65" width="14.1" height="10.5" fill="#f2cec6"/>
<rect x="396.88" y="314.1" width="14.1" height="10.5" fill="#b0a6d0"/>
<rect x="396.88" y="326.78" width="14.1" height="10.5" fill="#9d93c5"/>
<rect x="396.88" y="337.23" width="14.1" height="10.5" fill="#5c61aa"/>
<rect x="396.88" y="347.67" width="14.1" height="10.5" fill="#ed8975"/>
<rect x="396.88" y="360.36" width="14.1" height="10.5" fill="#e6373b"/>
<rect x="396.88" y="370.8" width="14.1" height="10.5" fill="#5c61aa"/>
<rect x="396.88" y="381.25" width="14.1" height="10.5" fill="#f2b9ac"/>
<rect x="410.93" y="259.63" width="14.1" height="10.5" fill="#ef9985"/>
<rect x="410.93" y="270.07" width="14.1" height="10.5" fill="#5160aa"/>
<rect x="410.93" y="280.52" width="14.1" height="10.5" fill="#b0a6d0"/>
<rect x="410.93" y="293.2" width="14.1" height="10.5" fill="#d3cce3"/>
<rect x="410.93" y="303.65" width="14.1" height="10.5" fill="#ef9985"/>
<rect x="410.93" y="314.1" width="14.1" height="10.5" fill="#f2ccc4"/>
<rect x="410.93" y="326.78" width="14.1" height="10.5" fill="#ef9985"/>
<rect x="410.93" y="337.23" width="14.1" height="10.5" fill="#c3bada"/>
<rect x="410.93" y="347.67" width="14.1" height="10.5" fill="#9d93c5"/>
<rect x="410.93" y="360.36" width="14.1" height="10.5" fill="#ed8470"/>
<rect x="410.93" y="370.8" width="14.1" height="10.5" fill="#c8bfdd"/>
<rect x="410.93" y="381.25" width="14.1" height="10.5" fill="#ed8470"/>
<rect x="426.43" y="259.63" width="14.1" height="10.5" fill="#ef9985"/>
<rect x="426.43" y="270.07" width="14.1" height="10.5" fill="#988ec2"/>
<rect x="426.43" y="280.52" width="14.1" height="10.5" fill="#9d93c5"/>
<rect x="426.43" y="293.2" width="14.1" height="10.5" fill="#f3c7bc"/>
<rect x="426.43" y="303.65" width="14.1" height="10.5" fill="#7c78b6"/>
<rect x="426.43" y="314.1" width="14.1" height="10.5" fill="#f1d5d1"/>
<rect x="426.43" y="326.78" width="14.1" height="10.5" fill="#ea6f5b"/>
<rect x="426.43" y="337.23" width="14.1" height="10.5" fill="#ea6f5b"/>
<rect x="426.43" y="347.67" width="14.1" height="10.5" fill="#ea6f5b"/>
<rect x="426.43" y="360.36" width="14.1" height="10.5" fill="#f0a796"/>
<rect x="426.43" y="370.8" width="14.1" height="10.5" fill="#f2b9ac"/>
<rect x="426.43" y="381.25" width="14.1" height="10.5" fill="#b0a6d0"/>
<rect x="440.48" y="259.63" width="14.1" height="10.5" fill="#eb7965"/>
<rect x="440.48" y="270.07" width="14.1" height="10.5" fill="#988ec2"/>
<rect x="440.48" y="280.52" width="14.1" height="10.5" fill="#f0a796"/>
<rect x="440.48" y="293.2" width="14.1" height="10.5" fill="#f0d8d6"/>
<rect x="440.48" y="303.65" width="14.1" height="10.5" fill="#ccc3df"/>
<rect x="440.48" y="314.1" width="14.1" height="10.5" fill="#f0a796"/>
<rect x="440.48" y="326.78" width="14.1" height="10.5" fill="#988ec2"/>
<rect x="440.48" y="337.23" width="14.1" height="10.5" fill="#ed8470"/>
<rect x="440.48" y="347.67" width="14.1" height="10.5" fill="#ed8470"/>
<rect x="440.48" y="360.36" width="14.1" height="10.5" fill="#f0d8d6"/>
<rect x="440.48" y="370.8" width="14.1" height="10.5" fill="#f2cac1"/>
<rect x="440.48" y="381.25" width="14.1" height="10.5" fill="#ef9e8a"/>
<rect x="455.99" y="259.63" width="14.1" height="10.5" fill="#7c78b6"/>
<rect x="455.99" y="270.07" width="14.1" height="10.5" fill="#f3c7bc"/>
<rect x="455.99" y="280.52" width="14.1" height="10.5" fill="#ef9985"/>
<rect x="455.99" y="293.2" width="14.1" height="10.5" fill="#f1d5d1"/>
<rect x="455.99" y="303.65" width="14.1" height="10.5" fill="#c1b8d9"/>
<rect x="455.99" y="314.1" width="14.1" height="10.5" fill="#bab0d5"/>
<rect x="455.99" y="326.78" width="14.1" height="10.5" fill="#f0a08d"/>
<rect x="455.99" y="337.23" width="14.1" height="10.5" fill="#988ec2"/>
<rect x="455.99" y="347.67" width="14.1" height="10.5" fill="#d7d0e5"/>
<rect x="455.99" y="360.36" width="14.1" height="10.5" fill="#5c61aa"/>
<rect x="455.99" y="370.8" width="14.1" height="10.5" fill="#ea6f5b"/>
<rect x="455.99" y="381.25" width="14.1" height="10.5" fill="#ec7e6a"/>
<rect x="470.04" y="259.63" width="14.1" height="10.5" fill="#d3cce3"/>
<rect x="470.04" y="270.07" width="14.1" height="10.5" fill="#f3c2b6"/>
<rect x="470.04" y="280.52" width="14.1" height="10.5" fill="#f2d1cc"/>
<rect x="470.04" y="293.2" width="14.1" height="10.5" fill="#ea6f5b"/>
<rect x="470.04" y="303.65" width="14.1" height="10.5" fill="#c8bfdd"/>
<rect x="470.04" y="314.1" width="14.1" height="10.5" fill="#c1b8d9"/>
<rect x="470.04" y="326.78" width="14.1" height="10.5" fill="#c8bfdd"/>
<rect x="470.04" y="337.23" width="14.1" height="10.5" fill="#ef9985"/>
<rect x="470.04" y="347.67" width="14.1" height="10.5" fill="#dbd4e6"/>
<rect x="470.04" y="360.36" width="14.1" height="10.5" fill="#7c78b6"/>
<rect x="470.04" y="370.8" width="14.1" height="10.5" fill="#aba2cd"/>
<rect x="470.04" y="381.25" width="14.1" height="10.5" fill="#eb7460"/>
<rect x="485.54" y="259.63" width="14.1" height="10.5" fill="#f1ab9b"/>
<rect x="485.54" y="270.07" width="14.1" height="10.5" fill="#988ec2"/>
<rect x="485.54" y="280.52" width="14.1" height="10.5" fill="#9d93c5"/>
<rect x="485.54" y="293.2" width="14.1" height="10.5" fill="#f0dad9"/>
<rect x="485.54" y="303.65" width="14.1" height="10.5" fill="#4e5faa"/>
<rect x="485.54" y="314.1" width="14.1" height="10.5" fill="#8d85bd"/>
<rect x="485.54" y="326.78" width="14.1" height="10.5" fill="#ccc3df"/>
<rect x="485.54" y="337.23" width="14.1" height="10.5" fill="#b5abd2"/>
<rect x="485.54" y="347.67" width="14.1" height="10.5" fill="#c1b8d9"/>
<rect x="485.54" y="360.36" width="14.1" height="10.5" fill="#7674b4"/>
<rect x="485.54" y="370.8" width="14.1" height="10.5" fill="#b0a6d0"/>
<rect x="485.54" y="381.25" width="14.1" height="10.5" fill="#d3cce3"/>
<rect x="499.59" y="259.63" width="14.1" height="10.5" fill="#ed8470"/>
<rect x="499.59" y="270.07" width="14.1" height="10.5" fill="#aba2cd"/>
<rect x="499.59" y="280.52" width="14.1" height="10.5" fill="#7c78b6"/>
<rect x="499.59" y="293.2" width="14.1" height="10.5" fill="#beb5d8"/>
<rect x="499.59" y="303.65" width="14.1" height="10.5" fill="#c8bfdd"/>
<rect x="499.59" y="314.1" width="14.1" height="10.5" fill="#a69dca"/>
<rect x="499.59" y="326.78" width="14.1" height="10.5" fill="#d3cce3"/>
<rect x="499.59" y="337.23" width="14.1" height="10.5" fill="#b0a6d0"/>
<rect x="499.59" y="347.67" width="14.1" height="10.5" fill="#b5abd2"/>
<rect x="499.59" y="360.36" width="14.1" height="10.5" fill="#5160aa"/>
<rect x="499.59" y="370.8" width="14.1" height="10.5" fill="#dbd4e6"/>
<rect x="499.59" y="381.25" width="14.1" height="10.5" fill="#ef9985"/>
<rect x="513.64" y="259.63" width="14.1" height="10.5" fill="#ef9985"/>
<rect x="513.64" y="270.07" width="14.1" height="10.5" fill="#ccc3df"/>
<rect x="513.64" y="280.52" width="14.1" height="10.5" fill="#988ec2"/>
<rect x="513.64" y="293.2" width="14.1" height="10.5" fill="#f0a796"/>
<rect x="513.64" y="303.65" width="14.1" height="10.5" fill="#9d93c5"/>
<rect x="513.64" y="314.1" width="14.1" height="10.5" fill="#f1d5d1"/>
<rect x="513.64" y="326.78" width="14.1" height="10.5" fill="#a69dca"/>
<rect x="513.64" y="337.23" width="14.1" height="10.5" fill="#7674b4"/>
<rect x="513.64" y="347.67" width="14.1" height="10.5" fill="#7674b4"/>
<rect x="513.64" y="360.36" width="14.1" height="10.5" fill="#8d85bd"/>
<rect x="513.64" y="370.8" width="14.1" height="10.5" fill="#ed8975"/>
<rect x="513.64" y="381.25" width="14.1" height="10.5" fill="#eb7460"/>
<rect x="529.15" y="259.63" width="14.1" height="10.5" fill="#3b5caa"/>
<rect x="529.15" y="270.07" width="14.1" height="10.5" fill="#e52432"/>
<rect x="529.15" y="280.52" width="14.1" height="10.5" fill="#e52432"/>
<rect x="529.15" y="293.2" width="14.1" height="10.5" fill="#928ac0"/>
<rect x="529.15" y="303.65" width="14.1" height="10.5" fill="#e73e3e"/>
<rect x="529.15" y="314.1" width="14.1" height="10.5" fill="#f0a08d"/>
<rect x="529.15" y="326.78" width="14.1" height="10.5" fill="#ec7e6a"/>
<rect x="529.15" y="337.23" width="14.1" height="10.5" fill="#e95e4d"/>
<rect x="529.15" y="347.67" width="14.1" height="10.5" fill="#beb5d8"/>
<rect x="529.15" y="360.36" width="14.1" height="10.5" fill="#8781bb"/>
<rect x="529.15" y="370.8" width="14.1" height="10.5" fill="#f3c2b6"/>
<rect x="529.15" y="381.25" width="14.1" height="10.5" fill="#928ac0"/>
</g>
<text x="34.2" y="268.75" font-size="10.8" font-weight="bold" fill="#111" text-anchor="end" >AGE</text>
<text x="34.2" y="279.2" font-size="10.8" font-weight="bold" fill="#111" text-anchor="end" >CR</text>
<text x="34.2" y="289.64" font-size="10.8" font-weight="bold" fill="#111" text-anchor="end" >RM</text>
<text x="34.2" y="302.33" font-size="10.8" font-weight="bold" fill="#111" text-anchor="end" >AGE</text>
<text x="34.2" y="312.77" font-size="10.8" font-weight="bold" fill="#111" text-anchor="end" >CR</text>
<text x="34.2" y="323.22" font-size="10.8" font-weight="bold" fill="#111" text-anchor="end" >RM</text>
<text x="34.2" y="335.9" font-size="10.8" font-weight="bold" fill="#111" text-anchor="end" >AGE</text>
<text x="34.2" y="346.35" font-size="10.8" font-weight="bold" fill="#111" text-anchor="end" >CR</text>
<text x="34.2" y="356.79" font-size="10.8" font-weight="bold" fill="#111" text-anchor="end" >RM</text>
<text x="34.2" y="369.48" font-size="10.8" font-weight="bold" fill="#111" text-anchor="end" >AGE</text>
<text x="34.2" y="379.92" font-size="10.8" font-weight="bold" fill="#111" text-anchor="end" >CR</text>
<text x="34.2" y="390.37" font-size="10.8" font-weight="bold" fill="#111" text-anchor="end" >RM</text>
<text x="545.8" y="279.65" font-size="12" font-weight="bold" fill="#111" text-anchor="start" >SOL</text>
<text x="545.8" y="313.22" font-size="12" font-weight="bold" fill="#111" text-anchor="start" >TA</text>
<text x="545.8" y="346.8" font-size="12" font-weight="bold" fill="#111" text-anchor="start" >TRI</text>
<text x="545.8" y="380.37" font-size="12" font-weight="bold" fill="#111" text-anchor="start" >GAS</text>
<text transform="translate(37.96,392.4) rotate(90)" font-size="12.6" fill="#3b63ad" stroke="#3b63ad" stroke-width="0.3">P38a</text>
<text transform="translate(53.47,392.4) rotate(90)" font-size="12.6" fill="#f0a22c" stroke="#f0a22c" stroke-width="0.3">Chk1</text>
<text transform="translate(67.52,392.4) rotate(90)" font-size="12.6" fill="#f0a22c" stroke="#f0a22c" stroke-width="0.3">Mapkapk2</text>
<text transform="translate(81.57,392.4) rotate(90)" font-size="12.6" fill="#f0a22c" stroke="#f0a22c" stroke-width="0.3">Mark3</text>
<text transform="translate(97.08,392.4) rotate(90)" font-size="12.6" fill="#3b63ad" stroke="#3b63ad" stroke-width="0.3">Ck2b</text>
<text transform="translate(111.12,392.4) rotate(90)" font-size="12.6" fill="#f0a22c" stroke="#f0a22c" stroke-width="0.3">Ampka1</text>
<text transform="translate(126.63,392.4) rotate(90)" font-size="12.6" fill="#e8343b" stroke="#e8343b" stroke-width="0.3">Rock1</text>
<text transform="translate(142.14,392.4) rotate(90)" font-size="12.6" fill="#e8343b" stroke="#e8343b" stroke-width="0.3">Rock2</text>
<text transform="translate(156.19,392.4) rotate(90)" font-size="12.6" fill="#e8343b" stroke="#e8343b" stroke-width="0.3">Sgk1</text>
<text transform="translate(170.23,392.4) rotate(90)" font-size="12.6" fill="#f0a22c" stroke="#f0a22c" stroke-width="0.3">Camk2a</text>
<text transform="translate(184.28,392.4) rotate(90)" font-size="12.6" fill="#3b63ad" stroke="#3b63ad" stroke-width="0.3">Erk1</text>
<text transform="translate(198.34,392.4) rotate(90)" font-size="12.6" fill="#e8343b" stroke="#e8343b" stroke-width="0.3">Pkca</text>
<text transform="translate(212.39,392.4) rotate(90)" font-size="12.6" fill="#3b63ad" stroke="#3b63ad" stroke-width="0.3">Cdk5</text>
<text transform="translate(226.44,392.4) rotate(90)" font-size="12.6" fill="#e8343b" stroke="#e8343b" stroke-width="0.3">Akt1</text>
<text transform="translate(241.94,392.4) rotate(90)" font-size="12.6" fill="#3b63ad" stroke="#3b63ad" stroke-width="0.3">Erk2</text>
<text transform="translate(255.99,392.4) rotate(90)" font-size="12.6" fill="#3e8e45" stroke="#3e8e45" stroke-width="0.3">Egfr</text>
<text transform="translate(270.04,392.4) rotate(90)" font-size="12.6" fill="#111111" stroke="#111111" stroke-width="0.3">Wnk1</text>
<text transform="translate(284.09,392.4) rotate(90)" font-size="12.6" fill="#111111" stroke="#111111" stroke-width="0.3">Ckb</text>
<text transform="translate(298.14,392.4) rotate(90)" font-size="12.6" fill="#111111" stroke="#111111" stroke-width="0.3">Aurb</text>
<text transform="translate(312.19,392.4) rotate(90)" font-size="12.6" fill="#f0a22c" stroke="#f0a22c" stroke-width="0.3">Camk2g</text>
<text transform="translate(326.24,392.4) rotate(90)" font-size="12.6" fill="#e8343b" stroke="#e8343b" stroke-width="0.3">Pkg1</text>
<text transform="translate(340.29,392.4) rotate(90)" font-size="12.6" fill="#3b63ad" stroke="#3b63ad" stroke-width="0.3">Cdk1</text>
<text transform="translate(354.34,392.4) rotate(90)" font-size="12.6" fill="#111111" stroke="#111111" stroke-width="0.3">Eef2k</text>
<text transform="translate(369.85,392.4) rotate(90)" font-size="12.6" fill="#111111" stroke="#111111" stroke-width="0.3">Pkm</text>
<text transform="translate(383.9,392.4) rotate(90)" font-size="12.6" fill="#111111" stroke="#111111" stroke-width="0.3">Wnk2</text>
<text transform="translate(399.4,392.4) rotate(90)" font-size="12.6" fill="#4a2f86" stroke="#4a2f86" stroke-width="0.3">Ck1a</text>
<text transform="translate(413.45,392.4) rotate(90)" font-size="12.6" fill="#e8343b" stroke="#e8343b" stroke-width="0.3">Pkcb</text>
<text transform="translate(428.95,392.4) rotate(90)" font-size="12.6" fill="#3b63ad" stroke="#3b63ad" stroke-width="0.3">Cdk14</text>
<text transform="translate(443,392.4) rotate(90)" font-size="12.6" fill="#f0a22c" stroke="#f0a22c" stroke-width="0.3">Camk2b</text>
<text transform="translate(458.51,392.4) rotate(90)" font-size="12.6" fill="#e8343b" stroke="#e8343b" stroke-width="0.3">Lats1</text>
<text transform="translate(472.56,392.4) rotate(90)" font-size="12.6" fill="#3b63ad" stroke="#3b63ad" stroke-width="0.3">Ck2a1</text>
<text transform="translate(488.06,392.4) rotate(90)" font-size="12.6" fill="#e07b95" stroke="#e07b95" stroke-width="0.3">Nek1</text>
<text transform="translate(502.12,392.4) rotate(90)" font-size="12.6" fill="#111111" stroke="#111111" stroke-width="0.3">Bckdk</text>
<text transform="translate(516.16,392.4) rotate(90)" font-size="12.6" fill="#e07b95" stroke="#e07b95" stroke-width="0.3">Nek9</text>
<text transform="translate(531.67,392.4) rotate(90)" font-size="12.6" fill="#e8343b" stroke="#e8343b" stroke-width="0.3">Akt2</text>
<path d="M163.9,216.2H537.1M38.9,225.3H300.3M168,230.2H431.4M83.5,235.8H230M73.4,241.3H105.9M62.9,251.4H84.9M55.9,252.6H70.9M94.9,251.4H117M168,239.1H291.8M147,247.4H189.8M168,250.9H211M160.9,252.3H175.9M196,251.5H224.9M188.7,256.1H203.8M217,254.8H231.7M253.3,248.3H329M246.2,252.5H261.3M304.1,249.4H352.7M344.9,253.6H359.9M274.3,251.3H324.8M288.6,255H303.6M317,253.2H331.5M395.8,232.3H466M380.9,236.4H411.9M373.9,248.2H389M403.8,248.2H418.9M439.8,235.2H490.7M433.1,248.9H447.8M470.1,238.1H511M463.1,248.9H477.8M499.1,249.3H521.2M492.2,252.6H506.9M164.3,216.2V225.3M536.7,216.2V259.6M39.3,225.3V259.6M299.9,225.3V230.2M168.4,230.2V235.8M431,230.2V232.3M83.9,235.8V241.3M131.5,235.8V259.6M229.6,235.8V239.1M73.8,241.3V251.4M105.5,241.3V251.4M63.3,251.4V252.6M56.3,252.6V259.6M70.5,252.6V259.6M84.5,251.4V259.6M95.3,251.4V259.6M116.6,251.4V259.6M168.4,239.1V247.4M291.4,239.1V248.3M147.4,247.4V259.6M189.4,247.4V250.9M168.4,250.9V252.3M161.3,252.3V259.6M175.5,252.3V259.6M210.6,250.9V251.5M196.4,251.5V256.1M189.1,256.1V259.6M203.4,256.1V259.6M224.5,251.5V254.8M217.4,254.8V259.6M231.3,254.8V259.6M253.7,248.3V252.5M246.6,252.5V259.6M260.9,252.5V259.6M328.6,248.3V249.4M352.3,249.4V253.6M345.3,253.6V259.6M359.5,253.6V259.6M304.5,249.4V251.3M274.7,251.3V259.6M296.1,251.3V255M289,255V259.6M303.2,255V259.6M324.4,251.3V253.2M317.4,253.2V259.6M331.1,253.2V259.6M396.2,232.3V236.4M465.6,232.3V235.2M381.3,236.4V248.2M411.5,236.4V248.2M374.3,248.2V259.6M388.6,248.2V259.6M404.2,248.2V259.6M418.5,248.2V259.6M440.2,235.2V248.9M490.3,235.2V238.1M433.5,248.9V259.6M447.4,248.9V259.6M470.5,238.1V248.9M510.6,238.1V249.3M463.5,248.9V259.6M477.4,248.9V259.6M499.5,249.3V252.6M520.8,249.3V259.6M492.6,252.6V259.6M506.5,252.6V259.6" fill="none" stroke="#5a5a5a" stroke-width="0.9"/>
<text x="1.6" y="215.1" font-size="18.4" font-weight="bold" fill="#1a1a1a">B</text>
<defs><linearGradient id="cb" x1="0" y1="0" x2="0" y2="1">
<stop offset="0.0107" stop-color="#e61f38"/>
<stop offset="0.1332" stop-color="#e62a36"/>
<stop offset="0.2558" stop-color="#ea7a64"/>
<stop offset="0.3783" stop-color="#eeaa98"/>
<stop offset="0.5008" stop-color="#f0ecf0"/>
<stop offset="0.6233" stop-color="#a89dc9"/>
<stop offset="0.7458" stop-color="#6a60aa"/>
<stop offset="0.8684" stop-color="#3f5ba9"/>
<stop offset="0.9909" stop-color="#3c5caa"/>
</linearGradient></defs>
<rect x="591.4" y="245.5" width="6" height="150.1" fill="url(#cb)"/>
<text x="590" y="251.41" font-size="9.6" font-weight="normal" fill="#111" text-anchor="end" >4</text>
<text x="590" y="269.8" font-size="9.6" font-weight="normal" fill="#111" text-anchor="end" >3</text>
<line x1="591.4" y1="265.5" x2="592.8" y2="265.5" stroke="#fff" stroke-width="0.6"/><line x1="596.0" y1="265.5" x2="597.4" y2="265.5" stroke="#fff" stroke-width="0.6"/>
<text x="590" y="288.19" font-size="9.6" font-weight="normal" fill="#111" text-anchor="end" >2</text>
<line x1="591.4" y1="283.89" x2="592.8" y2="283.89" stroke="#fff" stroke-width="0.6"/><line x1="596.0" y1="283.89" x2="597.4" y2="283.89" stroke="#fff" stroke-width="0.6"/>
<text x="590" y="306.58" font-size="9.6" font-weight="normal" fill="#111" text-anchor="end" >1</text>
<line x1="591.4" y1="302.28" x2="592.8" y2="302.28" stroke="#fff" stroke-width="0.6"/><line x1="596.0" y1="302.28" x2="597.4" y2="302.28" stroke="#fff" stroke-width="0.6"/>
<text x="590" y="324.97" font-size="9.6" font-weight="normal" fill="#111" text-anchor="end" >0</text>
<line x1="591.4" y1="320.67" x2="592.8" y2="320.67" stroke="#fff" stroke-width="0.6"/><line x1="596.0" y1="320.67" x2="597.4" y2="320.67" stroke="#fff" stroke-width="0.6"/>
<text x="590" y="343.36" font-size="9.6" font-weight="normal" fill="#111" text-anchor="end" >−1</text>
<line x1="591.4" y1="339.06" x2="592.8" y2="339.06" stroke="#fff" stroke-width="0.6"/><line x1="596.0" y1="339.06" x2="597.4" y2="339.06" stroke="#fff" stroke-width="0.6"/>
<text x="590" y="361.75" font-size="9.6" font-weight="normal" fill="#111" text-anchor="end" >−2</text>
<line x1="591.4" y1="357.45" x2="592.8" y2="357.45" stroke="#fff" stroke-width="0.6"/><line x1="596.0" y1="357.45" x2="597.4" y2="357.45" stroke="#fff" stroke-width="0.6"/>
<text x="590" y="380.14" font-size="9.6" font-weight="normal" fill="#111" text-anchor="end" >−3</text>
<line x1="591.4" y1="375.84" x2="592.8" y2="375.84" stroke="#fff" stroke-width="0.6"/><line x1="596.0" y1="375.84" x2="597.4" y2="375.84" stroke="#fff" stroke-width="0.6"/>
<text x="590" y="398.53" font-size="9.6" font-weight="normal" fill="#111" text-anchor="end" >−4</text>
<text transform="translate(609.6,394.3) rotate(-90)" font-size="10.4" fill="#111" textLength="146" lengthAdjust="spacingAndGlyphs">log10(pval)*sign(mean(logFC))</text>
<rect x="621" y="274" width="28" height="10.5" fill="#e8343b"/>
<text x="651.3" y="282.9" font-size="10.7" font-weight="bold" fill="#e8343b" text-anchor="start" >AGC</text>
<rect x="621" y="285.1" width="28" height="10.5" fill="#f0a22c"/>
<text x="651.3" y="294" font-size="10.7" font-weight="bold" fill="#f0a22c" text-anchor="start" >CAMK</text>
<rect x="621" y="296.2" width="28" height="10.5" fill="#3b63ad"/>
<text x="651.3" y="305.1" font-size="10.7" font-weight="bold" fill="#3b63ad" text-anchor="start" >CMGC</text>
<rect x="621" y="307.3" width="28" height="10.5" fill="#3e8e45"/>
<text x="651.3" y="316.2" font-size="10.7" font-weight="bold" fill="#3e8e45" text-anchor="start" >TK</text>
<rect x="621" y="318.4" width="28" height="10.5" fill="#4a2f86"/>
<text x="651.3" y="327.3" font-size="10.7" font-weight="bold" fill="#4a2f86" text-anchor="start" >CK1</text>
<rect x="621" y="329.5" width="28" height="10.5" fill="#e07b95"/>
<text x="651.3" y="338.4" font-size="10.7" font-weight="bold" fill="#e07b95" text-anchor="start" >NIMA</text>
<rect x="621" y="340.6" width="28" height="10.5" fill="#111111"/>
<text x="651.3" y="349.5" font-size="10.7" font-weight="bold" fill="#111111" text-anchor="start" >Other</text>
<text x="2.6" y="464.6" font-size="17.6" font-weight="bold" fill="#1a1a1a">C</text>
<text x="228.6" y="460.5" font-size="17.8" font-weight="bold" fill="#1a1a1a">D</text>
<text x="465.8" y="460.5" font-size="17.8" font-weight="bold" fill="#1a1a1a">E</text>
<text x="106.0" y="480.8" font-size="14.2" font-weight="bold" fill="#111" text-anchor="middle">AGE</text>
<g stroke-width="0.3">
<path d="M183.00,594.80 A71.80,71.80 0 0 1 182.87,599.12 L176.83,598.76 A65.75,65.75 0 0 0 176.95,594.80 Z" fill="#3a5cac" stroke="#3a5cac"/>
<path d="M176.95,594.80 A65.75,65.75 0 0 1 176.83,598.76 L170.79,598.39 A59.70,59.70 0 0 0 170.90,594.80 Z" fill="#e6202a" stroke="#e6202a"/>
<path d="M170.90,594.80 A59.70,59.70 0 0 1 170.79,598.39 L164.75,598.03 A53.65,53.65 0 0 0 164.85,594.80 Z" fill="#e6202a" stroke="#e6202a"/>
<path d="M164.85,594.80 A53.65,53.65 0 0 1 164.75,598.03 L158.71,597.66 A47.60,47.60 0 0 0 158.80,594.80 Z" fill="#3a5cac" stroke="#3a5cac"/>
<path d="M182.87,599.12 A71.80,71.80 0 0 1 182.48,603.43 L176.47,602.70 A65.75,65.75 0 0 0 176.83,598.76 Z" fill="#3a5cac" stroke="#3a5cac"/>
<path d="M176.83,598.76 A65.75,65.75 0 0 1 176.47,602.70 L170.47,601.97 A59.70,59.70 0 0 0 170.79,598.39 Z" fill="#f3bdb2" stroke="#f3bdb2"/>
<path d="M170.79,598.39 A59.70,59.70 0 0 1 170.47,601.97 L164.46,601.25 A53.65,53.65 0 0 0 164.75,598.03 Z" fill="#ee8271" stroke="#ee8271"/>
<path d="M164.75,598.03 A53.65,53.65 0 0 1 164.46,601.25 L158.46,600.52 A47.60,47.60 0 0 0 158.71,597.66 Z" fill="#c5c0de" stroke="#c5c0de"/>
<path d="M182.48,603.43 A71.80,71.80 0 0 1 181.83,607.70 L175.88,606.61 A65.75,65.75 0 0 0 176.47,602.70 Z" fill="#f19f8b" stroke="#f19f8b"/>
<path d="M176.47,602.70 A65.75,65.75 0 0 1 175.88,606.61 L169.93,605.53 A59.70,59.70 0 0 0 170.47,601.97 Z" fill="#6c75b8" stroke="#6c75b8"/>
<path d="M170.47,601.97 A59.70,59.70 0 0 1 169.93,605.53 L163.98,604.44 A53.65,53.65 0 0 0 164.46,601.25 Z" fill="#f1ac9c" stroke="#f1ac9c"/>
<path d="M164.46,601.25 A53.65,53.65 0 0 1 163.98,604.44 L158.03,603.35 A47.60,47.60 0 0 0 158.46,600.52 Z" fill="#ef8e7a" stroke="#ef8e7a"/>
<path d="M181.83,607.70 A71.80,71.80 0 0 1 180.93,611.93 L175.05,610.48 A65.75,65.75 0 0 0 175.88,606.61 Z" fill="#4461af" stroke="#4461af"/>
<path d="M175.88,606.61 A65.75,65.75 0 0 1 175.05,610.48 L169.18,609.04 A59.70,59.70 0 0 0 169.93,605.53 Z" fill="#3a5cac" stroke="#3a5cac"/>
<path d="M169.93,605.53 A59.70,59.70 0 0 1 169.18,609.04 L163.30,607.60 A53.65,53.65 0 0 0 163.98,604.44 Z" fill="#e6232c" stroke="#e6232c"/>
<path d="M163.98,604.44 A53.65,53.65 0 0 1 163.30,607.60 L157.43,606.15 A47.60,47.60 0 0 0 158.03,603.35 Z" fill="#c2bcdc" stroke="#c2bcdc"/>
<path d="M180.93,611.93 A71.80,71.80 0 0 1 179.77,616.09 L173.99,614.30 A65.75,65.75 0 0 0 175.05,610.48 Z" fill="#f3c7bf" stroke="#f3c7bf"/>
<path d="M175.05,610.48 A65.75,65.75 0 0 1 173.99,614.30 L168.21,612.50 A59.70,59.70 0 0 0 169.18,609.04 Z" fill="#928ac3" stroke="#928ac3"/>
<path d="M169.18,609.04 A59.70,59.70 0 0 1 168.21,612.50 L162.44,610.71 A53.65,53.65 0 0 0 163.30,607.60 Z" fill="#ed7367" stroke="#ed7367"/>
<path d="M163.30,607.60 A53.65,53.65 0 0 1 162.44,610.71 L156.66,608.92 A47.60,47.60 0 0 0 157.43,606.15 Z" fill="#9f97ca" stroke="#9f97ca"/>
<path d="M179.77,616.09 A71.80,71.80 0 0 1 178.36,620.18 L172.71,618.04 A65.75,65.75 0 0 0 173.99,614.30 Z" fill="#f1a28f" stroke="#f1a28f"/>
<path d="M173.99,614.30 A65.75,65.75 0 0 1 172.71,618.04 L167.05,615.90 A59.70,59.70 0 0 0 168.21,612.50 Z" fill="#817ebd" stroke="#817ebd"/>
<path d="M168.21,612.50 A59.70,59.70 0 0 1 167.05,615.90 L161.39,613.76 A53.65,53.65 0 0 0 162.44,610.71 Z" fill="#cdc8e2" stroke="#cdc8e2"/>
<path d="M162.44,610.71 A53.65,53.65 0 0 1 161.39,613.76 L155.73,611.63 A47.60,47.60 0 0 0 156.66,608.92 Z" fill="#b0aad3" stroke="#b0aad3"/>
<path d="M178.36,620.18 A71.80,71.80 0 0 1 176.72,624.18 L171.20,621.70 A65.75,65.75 0 0 0 172.71,618.04 Z" fill="#3a5cac" stroke="#3a5cac"/>
<path d="M172.71,618.04 A65.75,65.75 0 0 1 171.20,621.70 L165.67,619.22 A59.70,59.70 0 0 0 167.05,615.90 Z" fill="#ef8f7b" stroke="#ef8f7b"/>
<path d="M167.05,615.90 A59.70,59.70 0 0 1 165.67,619.22 L160.15,616.75 A53.65,53.65 0 0 0 161.39,613.76 Z" fill="#f4d0cb" stroke="#f4d0cb"/>
<path d="M161.39,613.76 A53.65,53.65 0 0 1 160.15,616.75 L154.63,614.27 A47.60,47.60 0 0 0 155.73,611.63 Z" fill="#3a5cac" stroke="#3a5cac"/>
<path d="M176.72,624.18 A71.80,71.80 0 0 1 174.83,628.06 L169.47,625.26 A65.75,65.75 0 0 0 171.20,621.70 Z" fill="#e6242d" stroke="#e6242d"/>
<path d="M171.20,621.70 A65.75,65.75 0 0 1 169.47,625.26 L164.11,622.46 A59.70,59.70 0 0 0 165.67,619.22 Z" fill="#f6eff1" stroke="#f6eff1"/>
<path d="M165.67,619.22 A59.70,59.70 0 0 1 164.11,622.46 L158.74,619.66 A53.65,53.65 0 0 0 160.15,616.75 Z" fill="#7478ba" stroke="#7478ba"/>
<path d="M160.15,616.75 A53.65,53.65 0 0 1 158.74,619.66 L153.38,616.85 A47.60,47.60 0 0 0 154.63,614.27 Z" fill="#f09983" stroke="#f09983"/>
<path d="M174.83,628.06 A71.80,71.80 0 0 1 172.71,631.83 L167.53,628.71 A65.75,65.75 0 0 0 169.47,625.26 Z" fill="#f3c8c0" stroke="#f3c8c0"/>
<path d="M169.47,625.26 A65.75,65.75 0 0 1 167.53,628.71 L162.35,625.59 A59.70,59.70 0 0 0 164.11,622.46 Z" fill="#b4aed5" stroke="#b4aed5"/>
<path d="M164.11,622.46 A59.70,59.70 0 0 1 162.35,625.59 L157.16,622.47 A53.65,53.65 0 0 0 158.74,619.66 Z" fill="#3a5cac" stroke="#3a5cac"/>
<path d="M158.74,619.66 A53.65,53.65 0 0 1 157.16,622.47 L151.98,619.35 A47.60,47.60 0 0 0 153.38,616.85 Z" fill="#f4d1cb" stroke="#f4d1cb"/>
<path d="M172.71,631.83 A71.80,71.80 0 0 1 170.37,635.47 L165.39,632.04 A65.75,65.75 0 0 0 167.53,628.71 Z" fill="#4762af" stroke="#4762af"/>
<path d="M167.53,628.71 A65.75,65.75 0 0 1 165.39,632.04 L160.40,628.61 A59.70,59.70 0 0 0 162.35,625.59 Z" fill="#f5ebec" stroke="#f5ebec"/>
<path d="M162.35,625.59 A59.70,59.70 0 0 1 160.40,628.61 L155.41,625.19 A53.65,53.65 0 0 0 157.16,622.47 Z" fill="#f2b5a7" stroke="#f2b5a7"/>
<path d="M157.16,622.47 A53.65,53.65 0 0 1 155.41,625.19 L150.43,621.76 A47.60,47.60 0 0 0 151.98,619.35 Z" fill="#3a5cac" stroke="#3a5cac"/>
<path d="M170.37,635.47 A71.80,71.80 0 0 1 167.82,638.96 L163.05,635.23 A65.75,65.75 0 0 0 165.39,632.04 Z" fill="#4d65b1" stroke="#4d65b1"/>
<path d="M165.39,632.04 A65.75,65.75 0 0 1 163.05,635.23 L158.28,631.51 A59.70,59.70 0 0 0 160.40,628.61 Z" fill="#e6202a" stroke="#e6202a"/>
<path d="M160.40,628.61 A59.70,59.70 0 0 1 158.28,631.51 L153.51,627.79 A53.65,53.65 0 0 0 155.41,625.19 Z" fill="#3a5cac" stroke="#3a5cac"/>
<path d="M155.41,625.19 A53.65,53.65 0 0 1 153.51,627.79 L148.73,624.07 A47.60,47.60 0 0 0 150.43,621.76 Z" fill="#efecf3" stroke="#efecf3"/>
<path d="M167.82,638.96 A71.80,71.80 0 0 1 165.06,642.28 L160.52,638.28 A65.75,65.75 0 0 0 163.05,635.23 Z" fill="#4360ae" stroke="#4360ae"/>
<path d="M163.05,635.23 A65.75,65.75 0 0 1 160.52,638.28 L155.98,634.28 A59.70,59.70 0 0 0 158.28,631.51 Z" fill="#8782bf" stroke="#8782bf"/>
<path d="M158.28,631.51 A59.70,59.70 0 0 1 155.98,634.28 L151.44,630.28 A53.65,53.65 0 0 0 153.51,627.79 Z" fill="#e6202a" stroke="#e6202a"/>
<path d="M153.51,627.79 A53.65,53.65 0 0 1 151.44,630.28 L146.91,626.28 A47.60,47.60 0 0 0 148.73,624.07 Z" fill="#f3bfb4" stroke="#f3bfb4"/>
<path d="M165.06,642.28 A71.80,71.80 0 0 1 162.10,645.44 L157.81,641.17 A65.75,65.75 0 0 0 160.52,638.28 Z" fill="#ed786a" stroke="#ed786a"/>
<path d="M160.52,638.28 A65.75,65.75 0 0 1 157.81,641.17 L153.52,636.90 A59.70,59.70 0 0 0 155.98,634.28 Z" fill="#415fae" stroke="#415fae"/>
<path d="M155.98,634.28 A59.70,59.70 0 0 1 153.52,636.90 L149.24,632.64 A53.65,53.65 0 0 0 151.44,630.28 Z" fill="#f3c4bb" stroke="#f3c4bb"/>
<path d="M151.44,630.28 A53.65,53.65 0 0 1 149.24,632.64 L144.95,628.37 A47.60,47.60 0 0 0 146.91,626.28 Z" fill="#f2b7ab" stroke="#f2b7ab"/>
<path d="M162.10,645.44 A71.80,71.80 0 0 1 158.96,648.41 L154.94,643.89 A65.75,65.75 0 0 0 157.81,641.17 Z" fill="#4963b0" stroke="#4963b0"/>
<path d="M157.81,641.17 A65.75,65.75 0 0 1 154.94,643.89 L150.91,639.37 A59.70,59.70 0 0 0 153.52,636.90 Z" fill="#8d85c0" stroke="#8d85c0"/>
<path d="M153.52,636.90 A59.70,59.70 0 0 1 150.91,639.37 L146.89,634.86 A53.65,53.65 0 0 0 149.24,632.64 Z" fill="#e6202a" stroke="#e6202a"/>
<path d="M149.24,632.64 A53.65,53.65 0 0 1 146.89,634.86 L142.86,630.34 A47.60,47.60 0 0 0 144.95,628.37 Z" fill="#ef8574" stroke="#ef8574"/>
<path d="M158.96,648.41 A71.80,71.80 0 0 1 155.65,651.19 L151.91,646.43 A65.75,65.75 0 0 0 154.94,643.89 Z" fill="#3a5cac" stroke="#3a5cac"/>
<path d="M154.94,643.89 A65.75,65.75 0 0 1 151.91,646.43 L148.16,641.68 A59.70,59.70 0 0 0 150.91,639.37 Z" fill="#3a5cac" stroke="#3a5cac"/>
<path d="M150.91,639.37 A59.70,59.70 0 0 1 148.16,641.68 L144.41,636.93 A53.65,53.65 0 0 0 146.89,634.86 Z" fill="#4662af" stroke="#4662af"/>
<path d="M146.89,634.86 A53.65,53.65 0 0 1 144.41,636.93 L140.67,632.18 A47.60,47.60 0 0 0 142.86,630.34 Z" fill="#f5f2f6" stroke="#f5f2f6"/>
<path d="M155.65,651.19 A71.80,71.80 0 0 1 152.18,653.76 L148.72,648.79 A65.75,65.75 0 0 0 151.91,646.43 Z" fill="#3a5cac" stroke="#3a5cac"/>
<path d="M151.91,646.43 A65.75,65.75 0 0 1 148.72,648.79 L145.27,643.82 A59.70,59.70 0 0 0 148.16,641.68 Z" fill="#3c5dac" stroke="#3c5dac"/>
<path d="M148.16,641.68 A59.70,59.70 0 0 1 145.27,643.82 L141.82,638.85 A53.65,53.65 0 0 0 144.41,636.93 Z" fill="#4260ae" stroke="#4260ae"/>
<path d="M144.41,636.93 A53.65,53.65 0 0 1 141.82,638.85 L138.37,633.89 A47.60,47.60 0 0 0 140.67,632.18 Z" fill="#8681be" stroke="#8681be"/>
<path d="M152.18,653.76 A71.80,71.80 0 0 1 148.55,656.12 L145.41,650.95 A65.75,65.75 0 0 0 148.72,648.79 Z" fill="#3a5cac" stroke="#3a5cac"/>
<path d="M148.72,648.79 A65.75,65.75 0 0 1 145.41,650.95 L142.26,645.78 A59.70,59.70 0 0 0 145.27,643.82 Z" fill="#f6f2f6" stroke="#f6f2f6"/>
<path d="M145.27,643.82 A59.70,59.70 0 0 1 142.26,645.78 L139.11,640.62 A53.65,53.65 0 0 0 141.82,638.85 Z" fill="#f6eef0" stroke="#f6eef0"/>
<path d="M141.82,638.85 A53.65,53.65 0 0 1 139.11,640.62 L135.96,635.45 A47.60,47.60 0 0 0 138.37,633.89 Z" fill="#4561af" stroke="#4561af"/>
<path d="M148.55,656.12 A71.80,71.80 0 0 1 144.80,658.25 L141.97,652.91 A65.75,65.75 0 0 0 145.41,650.95 Z" fill="#f6edef" stroke="#f6edef"/>
<path d="M145.41,650.95 A65.75,65.75 0 0 1 141.97,652.91 L139.14,647.56 A59.70,59.70 0 0 0 142.26,645.78 Z" fill="#f3f0f6" stroke="#f3f0f6"/>
<path d="M142.26,645.78 A59.70,59.70 0 0 1 139.14,647.56 L136.30,642.21 A53.65,53.65 0 0 0 139.11,640.62 Z" fill="#3a5cac" stroke="#3a5cac"/>
<path d="M139.11,640.62 A53.65,53.65 0 0 1 136.30,642.21 L133.47,636.87 A47.60,47.60 0 0 0 135.96,635.45 Z" fill="#6c75b8" stroke="#6c75b8"/>
<path d="M144.80,658.25 A71.80,71.80 0 0 1 140.92,660.16 L138.41,654.65 A65.75,65.75 0 0 0 141.97,652.91 Z" fill="#d9d5e8" stroke="#d9d5e8"/>
<path d="M141.97,652.91 A65.75,65.75 0 0 1 138.41,654.65 L135.91,649.15 A59.70,59.70 0 0 0 139.14,647.56 Z" fill="#4260ae" stroke="#4260ae"/>
<path d="M139.14,647.56 A59.70,59.70 0 0 1 135.91,649.15 L133.41,643.64 A53.65,53.65 0 0 0 136.30,642.21 Z" fill="#f4cfc9" stroke="#f4cfc9"/>
<path d="M136.30,642.21 A53.65,53.65 0 0 1 133.41,643.64 L130.90,638.13 A47.60,47.60 0 0 0 133.47,636.87 Z" fill="#837fbe" stroke="#837fbe"/>
<path d="M140.92,660.16 A71.80,71.80 0 0 1 136.93,661.83 L134.76,656.18 A65.75,65.75 0 0 0 138.41,654.65 Z" fill="#f0907c" stroke="#f0907c"/>
<path d="M138.41,654.65 A65.75,65.75 0 0 1 134.76,656.18 L132.59,650.53 A59.70,59.70 0 0 0 135.91,649.15 Z" fill="#3a5cac" stroke="#3a5cac"/>
<path d="M135.91,649.15 A59.70,59.70 0 0 1 132.59,650.53 L130.43,644.89 A53.65,53.65 0 0 0 133.41,643.64 Z" fill="#f6eef1" stroke="#f6eef1"/>
<path d="M133.41,643.64 A53.65,53.65 0 0 1 130.43,644.89 L128.26,639.24 A47.60,47.60 0 0 0 130.90,638.13 Z" fill="#948cc4" stroke="#948cc4"/>
<path d="M136.93,661.83 A71.80,71.80 0 0 1 132.85,663.26 L131.03,657.49 A65.75,65.75 0 0 0 134.76,656.18 Z" fill="#f5dddb" stroke="#f5dddb"/>
<path d="M134.76,656.18 A65.75,65.75 0 0 1 131.03,657.49 L129.20,651.72 A59.70,59.70 0 0 0 132.59,650.53 Z" fill="#e6202a" stroke="#e6202a"/>
<path d="M132.59,650.53 A59.70,59.70 0 0 1 129.20,651.72 L127.38,645.95 A53.65,53.65 0 0 0 130.43,644.89 Z" fill="#ed7669" stroke="#ed7669"/>
<path d="M130.43,644.89 A53.65,53.65 0 0 1 127.38,645.95 L125.55,640.18 A47.60,47.60 0 0 0 128.26,639.24 Z" fill="#e7e4ef" stroke="#e7e4ef"/>
<path d="M132.85,663.26 A71.80,71.80 0 0 1 128.69,664.44 L127.22,658.57 A65.75,65.75 0 0 0 131.03,657.49 Z" fill="#f6edf0" stroke="#f6edf0"/>
<path d="M131.03,657.49 A65.75,65.75 0 0 1 127.22,658.57 L125.74,652.70 A59.70,59.70 0 0 0 129.20,651.72 Z" fill="#928ac3" stroke="#928ac3"/>
<path d="M129.20,651.72 A59.70,59.70 0 0 1 125.74,652.70 L124.27,646.83 A53.65,53.65 0 0 0 127.38,645.95 Z" fill="#827fbe" stroke="#827fbe"/>
<path d="M127.38,645.95 A53.65,53.65 0 0 1 124.27,646.83 L122.80,640.97 A47.60,47.60 0 0 0 125.55,640.18 Z" fill="#f6f1f4" stroke="#f6f1f4"/>
<path d="M128.69,664.44 A71.80,71.80 0 0 1 124.47,665.36 L123.35,659.42 A65.75,65.75 0 0 0 127.22,658.57 Z" fill="#f09781" stroke="#f09781"/>
<path d="M127.22,658.57 A65.75,65.75 0 0 1 123.35,659.42 L122.23,653.47 A59.70,59.70 0 0 0 125.74,652.70 Z" fill="#3c5dac" stroke="#3c5dac"/>
<path d="M125.74,652.70 A59.70,59.70 0 0 1 122.23,653.47 L121.12,647.53 A53.65,53.65 0 0 0 124.27,646.83 Z" fill="#f4d1cb" stroke="#f4d1cb"/>
<path d="M124.27,646.83 A53.65,53.65 0 0 1 121.12,647.53 L120.00,641.58 A47.60,47.60 0 0 0 122.80,640.97 Z" fill="#6b74b8" stroke="#6b74b8"/>
<path d="M124.47,665.36 A71.80,71.80 0 0 1 120.20,666.03 L119.44,660.03 A65.75,65.75 0 0 0 123.35,659.42 Z" fill="#ee7a6c" stroke="#ee7a6c"/>
<path d="M123.35,659.42 A65.75,65.75 0 0 1 119.44,660.03 L118.68,654.03 A59.70,59.70 0 0 0 122.23,653.47 Z" fill="#4762af" stroke="#4762af"/>
<path d="M122.23,653.47 A59.70,59.70 0 0 1 118.68,654.03 L117.92,648.03 A53.65,53.65 0 0 0 121.12,647.53 Z" fill="#f4d5d1" stroke="#f4d5d1"/>
<path d="M121.12,647.53 A53.65,53.65 0 0 1 117.92,648.03 L117.17,642.02 A47.60,47.60 0 0 0 120.00,641.58 Z" fill="#8882bf" stroke="#8882bf"/>
<path d="M120.20,666.03 A71.80,71.80 0 0 1 115.90,666.45 L115.50,660.41 A65.75,65.75 0 0 0 119.44,660.03 Z" fill="#ee796b" stroke="#ee796b"/>
<path d="M119.44,660.03 A65.75,65.75 0 0 1 115.50,660.41 L115.10,654.37 A59.70,59.70 0 0 0 118.68,654.03 Z" fill="#807ebd" stroke="#807ebd"/>
<path d="M118.68,654.03 A59.70,59.70 0 0 1 115.10,654.37 L114.71,648.34 A53.65,53.65 0 0 0 117.92,648.03 Z" fill="#817fbd" stroke="#817fbd"/>
<path d="M117.92,648.03 A53.65,53.65 0 0 1 114.71,648.34 L114.31,642.30 A47.60,47.60 0 0 0 117.17,642.02 Z" fill="#f6f3f7" stroke="#f6f3f7"/>
<path d="M115.90,666.45 A71.80,71.80 0 0 1 111.58,666.60 L111.54,660.55 A65.75,65.75 0 0 0 115.50,660.41 Z" fill="#dad6e9" stroke="#dad6e9"/>
<path d="M115.50,660.41 A65.75,65.75 0 0 1 111.54,660.55 L111.51,654.50 A59.70,59.70 0 0 0 115.10,654.37 Z" fill="#8e86c1" stroke="#8e86c1"/>
<path d="M115.10,654.37 A59.70,59.70 0 0 1 111.51,654.50 L111.48,648.45 A53.65,53.65 0 0 0 114.71,648.34 Z" fill="#827fbd" stroke="#827fbd"/>
<path d="M114.71,648.34 A53.65,53.65 0 0 1 111.48,648.45 L111.45,642.40 A47.60,47.60 0 0 0 114.31,642.30 Z" fill="#e5e1ee" stroke="#e5e1ee"/>
<path d="M111.58,666.60 A71.80,71.80 0 0 1 107.25,666.49 L107.59,660.45 A65.75,65.75 0 0 0 111.54,660.55 Z" fill="#3a5cac" stroke="#3a5cac"/>
<path d="M111.54,660.55 A65.75,65.75 0 0 1 107.59,660.45 L107.92,654.41 A59.70,59.70 0 0 0 111.51,654.50 Z" fill="#7e7dbd" stroke="#7e7dbd"/>
<path d="M111.51,654.50 A59.70,59.70 0 0 1 107.92,654.41 L108.25,648.37 A53.65,53.65 0 0 0 111.48,648.45 Z" fill="#f0927d" stroke="#f0927d"/>
<path d="M111.48,648.45 A53.65,53.65 0 0 1 108.25,648.37 L108.58,642.33 A47.60,47.60 0 0 0 111.45,642.40 Z" fill="#f0edf4" stroke="#f0edf4"/>
<path d="M107.25,666.49 A71.80,71.80 0 0 1 102.95,666.12 L103.64,660.11 A65.75,65.75 0 0 0 107.59,660.45 Z" fill="#3c5dac" stroke="#3c5dac"/>
<path d="M107.59,660.45 A65.75,65.75 0 0 1 103.64,660.11 L104.34,654.10 A59.70,59.70 0 0 0 107.92,654.41 Z" fill="#8480be" stroke="#8480be"/>
<path d="M107.92,654.41 A59.70,59.70 0 0 1 104.34,654.10 L105.03,648.09 A53.65,53.65 0 0 0 108.25,648.37 Z" fill="#ee8473" stroke="#ee8473"/>
<path d="M108.25,648.37 A53.65,53.65 0 0 1 105.03,648.09 L105.73,642.08 A47.60,47.60 0 0 0 108.58,642.33 Z" fill="#f6f1f5" stroke="#f6f1f5"/>
<path d="M102.95,666.12 A71.80,71.80 0 0 1 98.67,665.50 L99.73,659.54 A65.75,65.75 0 0 0 103.64,660.11 Z" fill="#3a5cac" stroke="#3a5cac"/>
<path d="M103.64,660.11 A65.75,65.75 0 0 1 99.73,659.54 L100.78,653.58 A59.70,59.70 0 0 0 104.34,654.10 Z" fill="#3a5cac" stroke="#3a5cac"/>
<path d="M104.34,654.10 A59.70,59.70 0 0 1 100.78,653.58 L101.84,647.63 A53.65,53.65 0 0 0 105.03,648.09 Z" fill="#e3dfed" stroke="#e3dfed"/>
<path d="M105.03,648.09 A53.65,53.65 0 0 1 101.84,647.63 L102.89,641.67 A47.60,47.60 0 0 0 105.73,642.08 Z" fill="#827fbe" stroke="#827fbe"/>
<path d="M98.67,665.50 A71.80,71.80 0 0 1 94.44,664.62 L95.85,658.73 A65.75,65.75 0 0 0 99.73,659.54 Z" fill="#4863af" stroke="#4863af"/>
<path d="M99.73,659.54 A65.75,65.75 0 0 1 95.85,658.73 L97.26,652.85 A59.70,59.70 0 0 0 100.78,653.58 Z" fill="#f4dbd8" stroke="#f4dbd8"/>
<path d="M100.78,653.58 A59.70,59.70 0 0 1 97.26,652.85 L98.68,646.97 A53.65,53.65 0 0 0 101.84,647.63 Z" fill="#8b83c0" stroke="#8b83c0"/>
<path d="M101.84,647.63 A53.65,53.65 0 0 1 98.68,646.97 L100.09,641.08 A47.60,47.60 0 0 0 102.89,641.67 Z" fill="#ed786a" stroke="#ed786a"/>
<path d="M94.44,664.62 A71.80,71.80 0 0 1 90.27,663.48 L92.03,657.69 A65.75,65.75 0 0 0 95.85,658.73 Z" fill="#7579ba" stroke="#7579ba"/>
<path d="M95.85,658.73 A65.75,65.75 0 0 1 92.03,657.69 L93.80,651.91 A59.70,59.70 0 0 0 97.26,652.85 Z" fill="#4763af" stroke="#4763af"/>
<path d="M97.26,652.85 A59.70,59.70 0 0 1 93.80,651.91 L95.56,646.12 A53.65,53.65 0 0 0 98.68,646.97 Z" fill="#ee8070" stroke="#ee8070"/>
<path d="M98.68,646.97 A53.65,53.65 0 0 1 95.56,646.12 L97.32,640.33 A47.60,47.60 0 0 0 100.09,641.08 Z" fill="#f19f8c" stroke="#f19f8c"/>
<path d="M90.27,663.48 A71.80,71.80 0 0 1 86.17,662.10 L88.28,656.43 A65.75,65.75 0 0 0 92.03,657.69 Z" fill="#6c74b8" stroke="#6c74b8"/>
<path d="M92.03,657.69 A65.75,65.75 0 0 1 88.28,656.43 L90.39,650.76 A59.70,59.70 0 0 0 93.80,651.91 Z" fill="#3a5cac" stroke="#3a5cac"/>
<path d="M93.80,651.91 A59.70,59.70 0 0 1 90.39,650.76 L92.50,645.09 A53.65,53.65 0 0 0 95.56,646.12 Z" fill="#ee7c6d" stroke="#ee7c6d"/>
<path d="M95.56,646.12 A53.65,53.65 0 0 1 92.50,645.09 L94.61,639.41 A47.60,47.60 0 0 0 97.32,640.33 Z" fill="#f09882" stroke="#f09882"/>
<path d="M86.17,662.10 A71.80,71.80 0 0 1 82.17,660.47 L84.61,654.94 A65.75,65.75 0 0 0 88.28,656.43 Z" fill="#dedaeb" stroke="#dedaeb"/>
<path d="M88.28,656.43 A65.75,65.75 0 0 1 84.61,654.94 L87.06,649.40 A59.70,59.70 0 0 0 90.39,650.76 Z" fill="#8480be" stroke="#8480be"/>
<path d="M90.39,650.76 A59.70,59.70 0 0 1 87.06,649.40 L89.51,643.87 A53.65,53.65 0 0 0 92.50,645.09 Z" fill="#f0ecf4" stroke="#f0ecf4"/>
<path d="M92.50,645.09 A53.65,53.65 0 0 1 89.51,643.87 L91.95,638.34 A47.60,47.60 0 0 0 94.61,639.41 Z" fill="#3a5cac" stroke="#3a5cac"/>
<path d="M82.17,660.47 A71.80,71.80 0 0 1 78.27,658.60 L81.04,653.23 A65.75,65.75 0 0 0 84.61,654.94 Z" fill="#7177ba" stroke="#7177ba"/>
<path d="M84.61,654.94 A65.75,65.75 0 0 1 81.04,653.23 L83.82,647.85 A59.70,59.70 0 0 0 87.06,649.40 Z" fill="#f6edef" stroke="#f6edef"/>
<path d="M87.06,649.40 A59.70,59.70 0 0 1 83.82,647.85 L86.59,642.47 A53.65,53.65 0 0 0 89.51,643.87 Z" fill="#f09c87" stroke="#f09c87"/>
<path d="M89.51,643.87 A53.65,53.65 0 0 1 86.59,642.47 L89.37,637.10 A47.60,47.60 0 0 0 91.95,638.34 Z" fill="#7679bb" stroke="#7679bb"/>
<path d="M78.27,658.60 A71.80,71.80 0 0 1 74.49,656.51 L77.58,651.31 A65.75,65.75 0 0 0 81.04,653.23 Z" fill="#8782bf" stroke="#8782bf"/>
<path d="M81.04,653.23 A65.75,65.75 0 0 1 77.58,651.31 L80.68,646.11 A59.70,59.70 0 0 0 83.82,647.85 Z" fill="#f6f1f5" stroke="#f6f1f5"/>
<path d="M83.82,647.85 A59.70,59.70 0 0 1 80.68,646.11 L83.77,640.91 A53.65,53.65 0 0 0 86.59,642.47 Z" fill="#f0947f" stroke="#f0947f"/>
<path d="M86.59,642.47 A53.65,53.65 0 0 1 83.77,640.91 L86.86,635.71 A47.60,47.60 0 0 0 89.37,637.10 Z" fill="#7e7dbd" stroke="#7e7dbd"/>
<path d="M74.49,656.51 A71.80,71.80 0 0 1 70.84,654.18 L74.24,649.18 A65.75,65.75 0 0 0 77.58,651.31 Z" fill="#3a5cac" stroke="#3a5cac"/>
<path d="M77.58,651.31 A65.75,65.75 0 0 1 74.24,649.18 L77.64,644.18 A59.70,59.70 0 0 0 80.68,646.11 Z" fill="#7a7bbc" stroke="#7a7bbc"/>
<path d="M80.68,646.11 A59.70,59.70 0 0 1 77.64,644.18 L81.04,639.17 A53.65,53.65 0 0 0 83.77,640.91 Z" fill="#3a5cac" stroke="#3a5cac"/>
<path d="M83.77,640.91 A53.65,53.65 0 0 1 81.04,639.17 L84.44,634.17 A47.60,47.60 0 0 0 86.86,635.71 Z" fill="#e73237" stroke="#e73237"/>
<path d="M70.84,654.18 A71.80,71.80 0 0 1 67.34,651.65 L71.04,646.86 A65.75,65.75 0 0 0 74.24,649.18 Z" fill="#3a5cac" stroke="#3a5cac"/>
<path d="M74.24,649.18 A65.75,65.75 0 0 1 71.04,646.86 L74.73,642.07 A59.70,59.70 0 0 0 77.64,644.18 Z" fill="#4a64b0" stroke="#4a64b0"/>
<path d="M77.64,644.18 A59.70,59.70 0 0 1 74.73,642.07 L78.43,637.28 A53.65,53.65 0 0 0 81.04,639.17 Z" fill="#7f7ebd" stroke="#7f7ebd"/>
<path d="M81.04,639.17 A53.65,53.65 0 0 1 78.43,637.28 L82.12,632.49 A47.60,47.60 0 0 0 84.44,634.17 Z" fill="#e6e2ef" stroke="#e6e2ef"/>
<path d="M67.34,651.65 A71.80,71.80 0 0 1 64.00,648.91 L67.98,644.35 A65.75,65.75 0 0 0 71.04,646.86 Z" fill="#3e5ead" stroke="#3e5ead"/>
<path d="M71.04,646.86 A65.75,65.75 0 0 1 67.98,644.35 L71.95,639.79 A59.70,59.70 0 0 0 74.73,642.07 Z" fill="#4662af" stroke="#4662af"/>
<path d="M74.73,642.07 A59.70,59.70 0 0 1 71.95,639.79 L75.93,635.23 A53.65,53.65 0 0 0 78.43,637.28 Z" fill="#6c74b8" stroke="#6c74b8"/>
<path d="M78.43,637.28 A53.65,53.65 0 0 1 75.93,635.23 L79.91,630.67 A47.60,47.60 0 0 0 82.12,632.49 Z" fill="#d8d3e7" stroke="#d8d3e7"/>
<path d="M64.00,648.91 A71.80,71.80 0 0 1 60.83,645.97 L65.07,641.66 A65.75,65.75 0 0 0 67.98,644.35 Z" fill="#7177b9" stroke="#7177b9"/>
<path d="M67.98,644.35 A65.75,65.75 0 0 1 65.07,641.66 L69.32,637.34 A59.70,59.70 0 0 0 71.95,639.79 Z" fill="#8782bf" stroke="#8782bf"/>
<path d="M71.95,639.79 A59.70,59.70 0 0 1 69.32,637.34 L73.56,633.03 A53.65,53.65 0 0 0 75.93,635.23 Z" fill="#f09c88" stroke="#f09c88"/>
<path d="M75.93,635.23 A53.65,53.65 0 0 1 73.56,633.03 L77.81,628.72 A47.60,47.60 0 0 0 79.91,630.67 Z" fill="#4260ae" stroke="#4260ae"/>
<path d="M60.83,645.97 A71.80,71.80 0 0 1 57.84,642.84 L62.34,638.80 A65.75,65.75 0 0 0 65.07,641.66 Z" fill="#415fae" stroke="#415fae"/>
<path d="M65.07,641.66 A65.75,65.75 0 0 1 62.34,638.80 L66.83,634.75 A59.70,59.70 0 0 0 69.32,637.34 Z" fill="#3c5dac" stroke="#3c5dac"/>
<path d="M69.32,637.34 A59.70,59.70 0 0 1 66.83,634.75 L71.33,630.70 A53.65,53.65 0 0 0 73.56,633.03 Z" fill="#e7e3ef" stroke="#e7e3ef"/>
<path d="M73.56,633.03 A53.65,53.65 0 0 1 71.33,630.70 L75.83,626.65 A47.60,47.60 0 0 0 77.81,628.72 Z" fill="#f4cfc9" stroke="#f4cfc9"/>
<path d="M57.84,642.84 A71.80,71.80 0 0 1 55.05,639.55 L59.78,635.78 A65.75,65.75 0 0 0 62.34,638.80 Z" fill="#4662af" stroke="#4662af"/>
<path d="M62.34,638.80 A65.75,65.75 0 0 1 59.78,635.78 L64.51,632.00 A59.70,59.70 0 0 0 66.83,634.75 Z" fill="#3b5cac" stroke="#3b5cac"/>
<path d="M66.83,634.75 A59.70,59.70 0 0 1 64.51,632.00 L69.24,628.23 A53.65,53.65 0 0 0 71.33,630.70 Z" fill="#e7e3ef" stroke="#e7e3ef"/>
<path d="M71.33,630.70 A53.65,53.65 0 0 1 69.24,628.23 L73.97,624.46 A47.60,47.60 0 0 0 75.83,626.65 Z" fill="#f5e5e5" stroke="#f5e5e5"/>
<path d="M55.05,639.55 A71.80,71.80 0 0 1 52.46,636.09 L57.41,632.61 A65.75,65.75 0 0 0 59.78,635.78 Z" fill="#3a5cac" stroke="#3a5cac"/>
<path d="M59.78,635.78 A65.75,65.75 0 0 1 57.41,632.61 L62.36,629.13 A59.70,59.70 0 0 0 64.51,632.00 Z" fill="#827fbe" stroke="#827fbe"/>
<path d="M64.51,632.00 A59.70,59.70 0 0 1 62.36,629.13 L67.31,625.65 A53.65,53.65 0 0 0 69.24,628.23 Z" fill="#787abb" stroke="#787abb"/>
<path d="M69.24,628.23 A53.65,53.65 0 0 1 67.31,625.65 L72.26,622.17 A47.60,47.60 0 0 0 73.97,624.46 Z" fill="#8480be" stroke="#8480be"/>
<path d="M52.46,636.09 A71.80,71.80 0 0 1 50.08,632.48 L55.23,629.30 A65.75,65.75 0 0 0 57.41,632.61 Z" fill="#3a5cac" stroke="#3a5cac"/>
<path d="M57.41,632.61 A65.75,65.75 0 0 1 55.23,629.30 L60.38,626.13 A59.70,59.70 0 0 0 62.36,629.13 Z" fill="#ece9f2" stroke="#ece9f2"/>
<path d="M62.36,629.13 A59.70,59.70 0 0 1 60.38,626.13 L65.53,622.95 A53.65,53.65 0 0 0 67.31,625.65 Z" fill="#f1a695" stroke="#f1a695"/>
<path d="M67.31,625.65 A53.65,53.65 0 0 1 65.53,622.95 L70.68,619.78 A47.60,47.60 0 0 0 72.26,622.17 Z" fill="#4963b0" stroke="#4963b0"/>
<path d="M50.08,632.48 A71.80,71.80 0 0 1 47.92,628.73 L53.25,625.87 A65.75,65.75 0 0 0 55.23,629.30 Z" fill="#3a5cac" stroke="#3a5cac"/>
<path d="M55.23,629.30 A65.75,65.75 0 0 1 53.25,625.87 L58.59,623.01 A59.70,59.70 0 0 0 60.38,626.13 Z" fill="#4863af" stroke="#4863af"/>
<path d="M60.38,626.13 A59.70,59.70 0 0 1 58.59,623.01 L63.92,620.15 A53.65,53.65 0 0 0 65.53,622.95 Z" fill="#777abb" stroke="#777abb"/>
<path d="M65.53,622.95 A53.65,53.65 0 0 1 63.92,620.15 L69.25,617.29 A47.60,47.60 0 0 0 70.68,619.78 Z" fill="#f4d2cc" stroke="#f4d2cc"/>
<path d="M47.92,628.73 A71.80,71.80 0 0 1 46.00,624.86 L51.49,622.33 A65.75,65.75 0 0 0 53.25,625.87 Z" fill="#4461ae" stroke="#4461ae"/>
<path d="M53.25,625.87 A65.75,65.75 0 0 1 51.49,622.33 L56.98,619.79 A59.70,59.70 0 0 0 58.59,623.01 Z" fill="#3a5cac" stroke="#3a5cac"/>
<path d="M58.59,623.01 A59.70,59.70 0 0 1 56.98,619.79 L62.48,617.26 A53.65,53.65 0 0 0 63.92,620.15 Z" fill="#7579ba" stroke="#7579ba"/>
<path d="M63.92,620.15 A53.65,53.65 0 0 1 62.48,617.26 L67.97,614.73 A47.60,47.60 0 0 0 69.25,617.29 Z" fill="#d7d2e7" stroke="#d7d2e7"/>
<path d="M46.00,624.86 A71.80,71.80 0 0 1 44.30,620.88 L49.94,618.68 A65.75,65.75 0 0 0 51.49,622.33 Z" fill="#4963b0" stroke="#4963b0"/>
<path d="M51.49,622.33 A65.75,65.75 0 0 1 49.94,618.68 L55.58,616.49 A59.70,59.70 0 0 0 56.98,619.79 Z" fill="#d9d5e8" stroke="#d9d5e8"/>
<path d="M56.98,619.79 A59.70,59.70 0 0 1 55.58,616.49 L61.21,614.29 A53.65,53.65 0 0 0 62.48,617.26 Z" fill="#8b84c0" stroke="#8b84c0"/>
<path d="M62.48,617.26 A53.65,53.65 0 0 1 61.21,614.29 L66.85,612.09 A47.60,47.60 0 0 0 67.97,614.73 Z" fill="#f4d0cb" stroke="#f4d0cb"/>
<path d="M44.30,620.88 A71.80,71.80 0 0 1 42.86,616.81 L48.62,614.95 A65.75,65.75 0 0 0 49.94,618.68 Z" fill="#3d5dad" stroke="#3d5dad"/>
<path d="M49.94,618.68 A65.75,65.75 0 0 1 48.62,614.95 L54.37,613.10 A59.70,59.70 0 0 0 55.58,616.49 Z" fill="#e3dfed" stroke="#e3dfed"/>
<path d="M55.58,616.49 A59.70,59.70 0 0 1 54.37,613.10 L60.13,611.25 A53.65,53.65 0 0 0 61.21,614.29 Z" fill="#f4d6d2" stroke="#f4d6d2"/>
<path d="M61.21,614.29 A53.65,53.65 0 0 1 60.13,611.25 L65.89,609.39 A47.60,47.60 0 0 0 66.85,612.09 Z" fill="#f4d0ca" stroke="#f4d0ca"/>
<path d="M42.86,616.81 A71.80,71.80 0 0 1 41.66,612.66 L47.52,611.15 A65.75,65.75 0 0 0 48.62,614.95 Z" fill="#4260ae" stroke="#4260ae"/>
<path d="M48.62,614.95 A65.75,65.75 0 0 1 47.52,611.15 L53.38,609.65 A59.70,59.70 0 0 0 54.37,613.10 Z" fill="#f6eef0" stroke="#f6eef0"/>
<path d="M54.37,613.10 A59.70,59.70 0 0 1 53.38,609.65 L59.24,608.14 A53.65,53.65 0 0 0 60.13,611.25 Z" fill="#f2eff5" stroke="#f2eff5"/>
<path d="M60.13,611.25 A53.65,53.65 0 0 1 59.24,608.14 L65.10,606.64 A47.60,47.60 0 0 0 65.89,609.39 Z" fill="#f0edf4" stroke="#f0edf4"/>
<path d="M41.66,612.66 A71.80,71.80 0 0 1 40.71,608.44 L46.65,607.29 A65.75,65.75 0 0 0 47.52,611.15 Z" fill="#3a5cac" stroke="#3a5cac"/>
<path d="M47.52,611.15 A65.75,65.75 0 0 1 46.65,607.29 L52.59,606.14 A59.70,59.70 0 0 0 53.38,609.65 Z" fill="#8681be" stroke="#8681be"/>
<path d="M53.38,609.65 A59.70,59.70 0 0 1 52.59,606.14 L58.53,604.99 A53.65,53.65 0 0 0 59.24,608.14 Z" fill="#7c7cbc" stroke="#7c7cbc"/>
<path d="M59.24,608.14 A53.65,53.65 0 0 1 58.53,604.99 L64.47,603.84 A47.60,47.60 0 0 0 65.10,606.64 Z" fill="#e5e1ee" stroke="#e5e1ee"/>
<path d="M40.71,608.44 A71.80,71.80 0 0 1 40.01,604.17 L46.01,603.38 A65.75,65.75 0 0 0 46.65,607.29 Z" fill="#6f76b9" stroke="#6f76b9"/>
<path d="M46.65,607.29 A65.75,65.75 0 0 1 46.01,603.38 L52.01,602.59 A59.70,59.70 0 0 0 52.59,606.14 Z" fill="#8581be" stroke="#8581be"/>
<path d="M52.59,606.14 A59.70,59.70 0 0 1 52.01,602.59 L58.01,601.80 A53.65,53.65 0 0 0 58.53,604.99 Z" fill="#3a5cac" stroke="#3a5cac"/>
<path d="M58.53,604.99 A53.65,53.65 0 0 1 58.01,601.80 L64.01,601.01 A47.60,47.60 0 0 0 64.47,603.84 Z" fill="#f6eef1" stroke="#f6eef1"/>
<path d="M40.01,604.17 A71.80,71.80 0 0 1 39.58,599.87 L45.61,599.44 A65.75,65.75 0 0 0 46.01,603.38 Z" fill="#eeebf3" stroke="#eeebf3"/>
<path d="M46.01,603.38 A65.75,65.75 0 0 1 45.61,599.44 L51.65,599.02 A59.70,59.70 0 0 0 52.01,602.59 Z" fill="#8e86c1" stroke="#8e86c1"/>
<path d="M52.01,602.59 A59.70,59.70 0 0 1 51.65,599.02 L57.68,598.59 A53.65,53.65 0 0 0 58.01,601.80 Z" fill="#4a64b0" stroke="#4a64b0"/>
<path d="M58.01,601.80 A53.65,53.65 0 0 1 57.68,598.59 L63.72,598.16 A47.60,47.60 0 0 0 64.01,601.01 Z" fill="#d8d3e7" stroke="#d8d3e7"/>
<path d="M39.58,599.87 A71.80,71.80 0 0 1 39.40,595.55 L45.45,595.49 A65.75,65.75 0 0 0 45.61,599.44 Z" fill="#e5e1ee" stroke="#e5e1ee"/>
<path d="M45.61,599.44 A65.75,65.75 0 0 1 45.45,595.49 L51.50,595.43 A59.70,59.70 0 0 0 51.65,599.02 Z" fill="#787abb" stroke="#787abb"/>
<path d="M51.65,599.02 A59.70,59.70 0 0 1 51.50,595.43 L57.55,595.36 A53.65,53.65 0 0 0 57.68,598.59 Z" fill="#948cc4" stroke="#948cc4"/>
<path d="M57.68,598.59 A53.65,53.65 0 0 1 57.55,595.36 L63.60,595.30 A47.60,47.60 0 0 0 63.72,598.16 Z" fill="#f2af9f" stroke="#f2af9f"/>
<path d="M39.40,595.55 A71.80,71.80 0 0 1 39.49,591.23 L45.53,591.53 A65.75,65.75 0 0 0 45.45,595.49 Z" fill="#3a5cac" stroke="#3a5cac"/>
<path d="M45.45,595.49 A65.75,65.75 0 0 1 45.53,591.53 L51.57,591.83 A59.70,59.70 0 0 0 51.50,595.43 Z" fill="#3a5cac" stroke="#3a5cac"/>
<path d="M51.50,595.43 A59.70,59.70 0 0 1 51.57,591.83 L57.62,592.13 A53.65,53.65 0 0 0 57.55,595.36 Z" fill="#8681be" stroke="#8681be"/>
<path d="M57.55,595.36 A53.65,53.65 0 0 1 57.62,592.13 L63.66,592.43 A47.60,47.60 0 0 0 63.60,595.30 Z" fill="#4762af" stroke="#4762af"/>
<path d="M39.49,591.23 A71.80,71.80 0 0 1 39.83,586.92 L45.85,587.58 A65.75,65.75 0 0 0 45.53,591.53 Z" fill="#4b64b0" stroke="#4b64b0"/>
<path d="M45.53,591.53 A65.75,65.75 0 0 1 45.85,587.58 L51.86,588.25 A59.70,59.70 0 0 0 51.57,591.83 Z" fill="#3a5cac" stroke="#3a5cac"/>
<path d="M51.57,591.83 A59.70,59.70 0 0 1 51.86,588.25 L57.87,588.91 A53.65,53.65 0 0 0 57.62,592.13 Z" fill="#8e87c1" stroke="#8e87c1"/>
<path d="M57.62,592.13 A53.65,53.65 0 0 1 57.87,588.91 L63.89,589.58 A47.60,47.60 0 0 0 63.66,592.43 Z" fill="#4160ae" stroke="#4160ae"/>
<path d="M39.83,586.92 A71.80,71.80 0 0 1 40.44,582.64 L46.40,583.67 A65.75,65.75 0 0 0 45.85,587.58 Z" fill="#3a5cac" stroke="#3a5cac"/>
<path d="M45.85,587.58 A65.75,65.75 0 0 1 46.40,583.67 L52.36,584.69 A59.70,59.70 0 0 0 51.86,588.25 Z" fill="#948cc4" stroke="#948cc4"/>
<path d="M51.86,588.25 A59.70,59.70 0 0 1 52.36,584.69 L58.32,585.71 A53.65,53.65 0 0 0 57.87,588.91 Z" fill="#e8e4f0" stroke="#e8e4f0"/>
<path d="M57.87,588.91 A53.65,53.65 0 0 1 58.32,585.71 L64.29,586.74 A47.60,47.60 0 0 0 63.89,589.58 Z" fill="#8882bf" stroke="#8882bf"/>
<path d="M40.44,582.64 A71.80,71.80 0 0 1 41.30,578.40 L47.19,579.79 A65.75,65.75 0 0 0 46.40,583.67 Z" fill="#6f76b9" stroke="#6f76b9"/>
<path d="M46.40,583.67 A65.75,65.75 0 0 1 47.19,579.79 L53.08,581.17 A59.70,59.70 0 0 0 52.36,584.69 Z" fill="#7277ba" stroke="#7277ba"/>
<path d="M52.36,584.69 A59.70,59.70 0 0 1 53.08,581.17 L58.97,582.55 A53.65,53.65 0 0 0 58.32,585.71 Z" fill="#9088c2" stroke="#9088c2"/>
<path d="M58.32,585.71 A53.65,53.65 0 0 1 58.97,582.55 L64.86,583.93 A47.60,47.60 0 0 0 64.29,586.74 Z" fill="#e6e2ef" stroke="#e6e2ef"/>
<path d="M41.30,578.40 A71.80,71.80 0 0 1 42.41,574.23 L48.21,575.96 A65.75,65.75 0 0 0 47.19,579.79 Z" fill="#8983bf" stroke="#8983bf"/>
<path d="M47.19,579.79 A65.75,65.75 0 0 1 48.21,575.96 L54.00,577.69 A59.70,59.70 0 0 0 53.08,581.17 Z" fill="#8380be" stroke="#8380be"/>
<path d="M53.08,581.17 A59.70,59.70 0 0 1 54.00,577.69 L59.80,579.43 A53.65,53.65 0 0 0 58.97,582.55 Z" fill="#8c84c0" stroke="#8c84c0"/>
<path d="M58.97,582.55 A53.65,53.65 0 0 1 59.80,579.43 L65.60,581.16 A47.60,47.60 0 0 0 64.86,583.93 Z" fill="#f2eef5" stroke="#f2eef5"/>
<path d="M42.41,574.23 A71.80,71.80 0 0 1 43.77,570.13 L49.45,572.20 A65.75,65.75 0 0 0 48.21,575.96 Z" fill="#3a5cac" stroke="#3a5cac"/>
<path d="M48.21,575.96 A65.75,65.75 0 0 1 49.45,572.20 L55.14,574.28 A59.70,59.70 0 0 0 54.00,577.69 Z" fill="#e72c33" stroke="#e72c33"/>
<path d="M54.00,577.69 A59.70,59.70 0 0 1 55.14,574.28 L60.82,576.36 A53.65,53.65 0 0 0 59.80,579.43 Z" fill="#f4d6d2" stroke="#f4d6d2"/>
<path d="M59.80,579.43 A53.65,53.65 0 0 1 60.82,576.36 L66.50,578.44 A47.60,47.60 0 0 0 65.60,581.16 Z" fill="#ef8473" stroke="#ef8473"/>
<path d="M43.77,570.13 A71.80,71.80 0 0 1 45.38,566.11 L50.93,568.53 A65.75,65.75 0 0 0 49.45,572.20 Z" fill="#e6202a" stroke="#e6202a"/>
<path d="M49.45,572.20 A65.75,65.75 0 0 1 50.93,568.53 L56.47,570.95 A59.70,59.70 0 0 0 55.14,574.28 Z" fill="#e6202a" stroke="#e6202a"/>
<path d="M55.14,574.28 A59.70,59.70 0 0 1 56.47,570.95 L62.02,573.36 A53.65,53.65 0 0 0 60.82,576.36 Z" fill="#3a5cac" stroke="#3a5cac"/>
<path d="M60.82,576.36 A53.65,53.65 0 0 1 62.02,573.36 L67.56,575.78 A47.60,47.60 0 0 0 66.50,578.44 Z" fill="#f5ebed" stroke="#f5ebed"/>
<path d="M45.38,566.11 A71.80,71.80 0 0 1 47.23,562.20 L52.62,564.95 A65.75,65.75 0 0 0 50.93,568.53 Z" fill="#dedaeb" stroke="#dedaeb"/>
<path d="M50.93,568.53 A65.75,65.75 0 0 1 52.62,564.95 L58.01,567.70 A59.70,59.70 0 0 0 56.47,570.95 Z" fill="#6d75b8" stroke="#6d75b8"/>
<path d="M56.47,570.95 A59.70,59.70 0 0 1 58.01,567.70 L63.40,570.44 A53.65,53.65 0 0 0 62.02,573.36 Z" fill="#f1a08c" stroke="#f1a08c"/>
<path d="M62.02,573.36 A53.65,53.65 0 0 1 63.40,570.44 L68.79,573.19 A47.60,47.60 0 0 0 67.56,575.78 Z" fill="#8e86c1" stroke="#8e86c1"/>
<path d="M47.23,562.20 A71.80,71.80 0 0 1 49.30,558.41 L54.52,561.48 A65.75,65.75 0 0 0 52.62,564.95 Z" fill="#f4dcd9" stroke="#f4dcd9"/>
<path d="M52.62,564.95 A65.75,65.75 0 0 1 54.52,561.48 L59.73,564.54 A59.70,59.70 0 0 0 58.01,567.70 Z" fill="#8c84c0" stroke="#8c84c0"/>
<path d="M58.01,567.70 A59.70,59.70 0 0 1 59.73,564.54 L64.95,567.61 A53.65,53.65 0 0 0 63.40,570.44 Z" fill="#f0937e" stroke="#f0937e"/>
<path d="M63.40,570.44 A53.65,53.65 0 0 1 64.95,567.61 L70.17,570.68 A47.60,47.60 0 0 0 68.79,573.19 Z" fill="#8380be" stroke="#8380be"/>
<path d="M49.30,558.41 A71.80,71.80 0 0 1 51.61,554.75 L56.63,558.13 A65.75,65.75 0 0 0 54.52,561.48 Z" fill="#c5bfdd" stroke="#c5bfdd"/>
<path d="M54.52,561.48 A65.75,65.75 0 0 1 56.63,558.13 L61.65,561.50 A59.70,59.70 0 0 0 59.73,564.54 Z" fill="#b0aad3" stroke="#b0aad3"/>
<path d="M59.73,564.54 A59.70,59.70 0 0 1 61.65,561.50 L66.67,564.88 A53.65,53.65 0 0 0 64.95,567.61 Z" fill="#ef8674" stroke="#ef8674"/>
<path d="M64.95,567.61 A53.65,53.65 0 0 1 66.67,564.88 L71.69,568.25 A47.60,47.60 0 0 0 70.17,570.68 Z" fill="#e73035" stroke="#e73035"/>
<path d="M51.61,554.75 A71.80,71.80 0 0 1 54.12,551.24 L58.93,554.91 A65.75,65.75 0 0 0 56.63,558.13 Z" fill="#a19acb" stroke="#a19acb"/>
<path d="M56.63,558.13 A65.75,65.75 0 0 1 58.93,554.91 L63.74,558.58 A59.70,59.70 0 0 0 61.65,561.50 Z" fill="#aba4d0" stroke="#aba4d0"/>
<path d="M61.65,561.50 A59.70,59.70 0 0 1 63.74,558.58 L68.55,562.25 A53.65,53.65 0 0 0 66.67,564.88 Z" fill="#8f87c2" stroke="#8f87c2"/>
<path d="M66.67,564.88 A53.65,53.65 0 0 1 68.55,562.25 L73.36,565.92 A47.60,47.60 0 0 0 71.69,568.25 Z" fill="#f5eaec" stroke="#f5eaec"/>
<path d="M54.12,551.24 A71.80,71.80 0 0 1 56.85,547.88 L61.43,551.84 A65.75,65.75 0 0 0 58.93,554.91 Z" fill="#ccc7e1" stroke="#ccc7e1"/>
<path d="M58.93,554.91 A65.75,65.75 0 0 1 61.43,551.84 L66.01,555.79 A59.70,59.70 0 0 0 63.74,558.58 Z" fill="#f6f1f5" stroke="#f6f1f5"/>
<path d="M63.74,558.58 A59.70,59.70 0 0 1 66.01,555.79 L70.59,559.74 A53.65,53.65 0 0 0 68.55,562.25 Z" fill="#7679bb" stroke="#7679bb"/>
<path d="M68.55,562.25 A53.65,53.65 0 0 1 70.59,559.74 L75.17,563.70 A47.60,47.60 0 0 0 73.36,565.92 Z" fill="#f4dcd9" stroke="#f4dcd9"/>
<path d="M56.85,547.88 A71.80,71.80 0 0 1 59.77,544.70 L64.10,548.92 A65.75,65.75 0 0 0 61.43,551.84 Z" fill="#c7c2df" stroke="#c7c2df"/>
<path d="M61.43,551.84 A65.75,65.75 0 0 1 64.10,548.92 L68.44,553.14 A59.70,59.70 0 0 0 66.01,555.79 Z" fill="#d7d3e7" stroke="#d7d3e7"/>
<path d="M66.01,555.79 A59.70,59.70 0 0 1 68.44,553.14 L72.77,557.36 A53.65,53.65 0 0 0 70.59,559.74 Z" fill="#8681be" stroke="#8681be"/>
<path d="M70.59,559.74 A53.65,53.65 0 0 1 72.77,557.36 L77.10,561.59 A47.60,47.60 0 0 0 75.17,563.70 Z" fill="#6f76b9" stroke="#6f76b9"/>
<path d="M59.77,544.70 A71.80,71.80 0 0 1 62.88,541.69 L66.95,546.17 A65.75,65.75 0 0 0 64.10,548.92 Z" fill="#3a5cac" stroke="#3a5cac"/>
<path d="M64.10,548.92 A65.75,65.75 0 0 1 66.95,546.17 L71.02,550.64 A59.70,59.70 0 0 0 68.44,553.14 Z" fill="#e6202a" stroke="#e6202a"/>
<path d="M68.44,553.14 A59.70,59.70 0 0 1 71.02,550.64 L75.09,555.12 A53.65,53.65 0 0 0 72.77,557.36 Z" fill="#e83a3d" stroke="#e83a3d"/>
<path d="M72.77,557.36 A53.65,53.65 0 0 1 75.09,555.12 L79.16,559.59 A47.60,47.60 0 0 0 77.10,561.59 Z" fill="#7579ba" stroke="#7579ba"/>
<path d="M62.88,541.69 A71.80,71.80 0 0 1 66.16,538.88 L69.96,543.59 A65.75,65.75 0 0 0 66.95,546.17 Z" fill="#4d65b1" stroke="#4d65b1"/>
<path d="M66.95,546.17 A65.75,65.75 0 0 1 69.96,543.59 L73.75,548.31 A59.70,59.70 0 0 0 71.02,550.64 Z" fill="#e6242d" stroke="#e6242d"/>
<path d="M71.02,550.64 A59.70,59.70 0 0 1 73.75,548.31 L77.55,553.02 A53.65,53.65 0 0 0 75.09,555.12 Z" fill="#e8363a" stroke="#e8363a"/>
<path d="M75.09,555.12 A53.65,53.65 0 0 1 77.55,553.02 L81.34,557.73 A47.60,47.60 0 0 0 79.16,559.59 Z" fill="#7277ba" stroke="#7277ba"/>
<path d="M66.16,538.88 A71.80,71.80 0 0 1 69.61,536.27 L73.11,541.21 A65.75,65.75 0 0 0 69.96,543.59 Z" fill="#e8e4f0" stroke="#e8e4f0"/>
<path d="M69.96,543.59 A65.75,65.75 0 0 1 73.11,541.21 L76.62,546.14 A59.70,59.70 0 0 0 73.75,548.31 Z" fill="#8882bf" stroke="#8882bf"/>
<path d="M73.75,548.31 A59.70,59.70 0 0 1 76.62,546.14 L80.12,551.07 A53.65,53.65 0 0 0 77.55,553.02 Z" fill="#f19e8b" stroke="#f19e8b"/>
<path d="M77.55,553.02 A53.65,53.65 0 0 1 80.12,551.07 L83.63,556.00 A47.60,47.60 0 0 0 81.34,557.73 Z" fill="#ed7366" stroke="#ed7366"/>
<path d="M69.61,536.27 A71.80,71.80 0 0 1 73.20,533.88 L76.41,539.01 A65.75,65.75 0 0 0 73.11,541.21 Z" fill="#f2eff5" stroke="#f2eff5"/>
<path d="M73.11,541.21 A65.75,65.75 0 0 1 76.41,539.01 L79.61,544.14 A59.70,59.70 0 0 0 76.62,546.14 Z" fill="#f4d0ca" stroke="#f4d0ca"/>
<path d="M76.62,546.14 A59.70,59.70 0 0 1 79.61,544.14 L82.81,549.28 A53.65,53.65 0 0 0 80.12,551.07 Z" fill="#f4d4cf" stroke="#f4d4cf"/>
<path d="M80.12,551.07 A53.65,53.65 0 0 1 82.81,549.28 L86.01,554.41 A47.60,47.60 0 0 0 83.63,556.00 Z" fill="#3a5cac" stroke="#3a5cac"/>
<path d="M73.20,533.88 A71.80,71.80 0 0 1 76.94,531.70 L79.83,537.02 A65.75,65.75 0 0 0 76.41,539.01 Z" fill="#e9e5f0" stroke="#e9e5f0"/>
<path d="M76.41,539.01 A65.75,65.75 0 0 1 79.83,537.02 L82.71,542.33 A59.70,59.70 0 0 0 79.61,544.14 Z" fill="#f6f0f3" stroke="#f6f0f3"/>
<path d="M79.61,544.14 A59.70,59.70 0 0 1 82.71,542.33 L85.60,547.65 A53.65,53.65 0 0 0 82.81,549.28 Z" fill="#ded9ea" stroke="#ded9ea"/>
<path d="M82.81,549.28 A53.65,53.65 0 0 1 85.60,547.65 L88.49,552.97 A47.60,47.60 0 0 0 86.01,554.41 Z" fill="#405fad" stroke="#405fad"/>
<path d="M76.94,531.70 A71.80,71.80 0 0 1 80.80,529.75 L83.36,535.23 A65.75,65.75 0 0 0 79.83,537.02 Z" fill="#d9d5e8" stroke="#d9d5e8"/>
<path d="M79.83,537.02 A65.75,65.75 0 0 1 83.36,535.23 L85.92,540.72 A59.70,59.70 0 0 0 82.71,542.33 Z" fill="#6c74b8" stroke="#6c74b8"/>
<path d="M82.71,542.33 A59.70,59.70 0 0 1 85.92,540.72 L88.48,546.20 A53.65,53.65 0 0 0 85.60,547.65 Z" fill="#f4cfc9" stroke="#f4cfc9"/>
<path d="M85.60,547.65 A53.65,53.65 0 0 1 88.48,546.20 L91.05,551.68 A47.60,47.60 0 0 0 88.49,552.97 Z" fill="#f09680" stroke="#f09680"/>
<path d="M80.80,529.75 A71.80,71.80 0 0 1 84.77,528.04 L87.00,533.67 A65.75,65.75 0 0 0 83.36,535.23 Z" fill="#ef8573" stroke="#ef8573"/>
<path d="M83.36,535.23 A65.75,65.75 0 0 1 87.00,533.67 L89.22,539.29 A59.70,59.70 0 0 0 85.92,540.72 Z" fill="#ef8d79" stroke="#ef8d79"/>
<path d="M85.92,540.72 A59.70,59.70 0 0 1 89.22,539.29 L91.45,544.92 A53.65,53.65 0 0 0 88.48,546.20 Z" fill="#3a5cac" stroke="#3a5cac"/>
<path d="M88.48,546.20 A53.65,53.65 0 0 1 91.45,544.92 L93.68,550.54 A47.60,47.60 0 0 0 91.05,551.68 Z" fill="#dbd7e9" stroke="#dbd7e9"/>
<path d="M84.77,528.04 A71.80,71.80 0 0 1 88.83,526.57 L90.72,532.32 A65.75,65.75 0 0 0 87.00,533.67 Z" fill="#ed7366" stroke="#ed7366"/>
<path d="M87.00,533.67 A65.75,65.75 0 0 1 90.72,532.32 L92.60,538.07 A59.70,59.70 0 0 0 89.22,539.29 Z" fill="#f4d0ca" stroke="#f4d0ca"/>
<path d="M89.22,539.29 A59.70,59.70 0 0 1 92.60,538.07 L94.49,543.82 A53.65,53.65 0 0 0 91.45,544.92 Z" fill="#f4d0ca" stroke="#f4d0ca"/>
<path d="M91.45,544.92 A53.65,53.65 0 0 1 94.49,543.82 L96.37,549.57 A47.60,47.60 0 0 0 93.68,550.54 Z" fill="#dedaeb" stroke="#dedaeb"/>
<path d="M88.83,526.57 A71.80,71.80 0 0 1 92.98,525.35 L94.52,531.20 A65.75,65.75 0 0 0 90.72,532.32 Z" fill="#f09984" stroke="#f09984"/>
<path d="M90.72,532.32 A65.75,65.75 0 0 1 94.52,531.20 L96.05,537.05 A59.70,59.70 0 0 0 92.60,538.07 Z" fill="#f5e7e7" stroke="#f5e7e7"/>
<path d="M92.60,538.07 A59.70,59.70 0 0 1 96.05,537.05 L97.59,542.91 A53.65,53.65 0 0 0 94.49,543.82 Z" fill="#f4cfc9" stroke="#f4cfc9"/>
<path d="M94.49,543.82 A53.65,53.65 0 0 1 97.59,542.91 L99.12,548.76 A47.60,47.60 0 0 0 96.37,549.57 Z" fill="#f6eced" stroke="#f6eced"/>
<path d="M92.98,525.35 A71.80,71.80 0 0 1 97.19,524.38 L98.37,530.31 A65.75,65.75 0 0 0 94.52,531.20 Z" fill="#e6202a" stroke="#e6202a"/>
<path d="M94.52,531.20 A65.75,65.75 0 0 1 98.37,530.31 L99.55,536.25 A59.70,59.70 0 0 0 96.05,537.05 Z" fill="#e6202a" stroke="#e6202a"/>
<path d="M96.05,537.05 A59.70,59.70 0 0 1 99.55,536.25 L100.73,542.18 A53.65,53.65 0 0 0 97.59,542.91 Z" fill="#3a5cac" stroke="#3a5cac"/>
<path d="M97.59,542.91 A53.65,53.65 0 0 1 100.73,542.18 L101.91,548.11 A47.60,47.60 0 0 0 99.12,548.76 Z" fill="#ef8876" stroke="#ef8876"/>
<path d="M97.19,524.38 A71.80,71.80 0 0 1 101.46,523.66 L102.28,529.66 A65.75,65.75 0 0 0 98.37,530.31 Z" fill="#edeaf2" stroke="#edeaf2"/>
<path d="M98.37,530.31 A65.75,65.75 0 0 1 102.28,529.66 L103.10,535.65 A59.70,59.70 0 0 0 99.55,536.25 Z" fill="#e72e34" stroke="#e72e34"/>
<path d="M99.55,536.25 A59.70,59.70 0 0 1 103.10,535.65 L103.92,541.65 A53.65,53.65 0 0 0 100.73,542.18 Z" fill="#6e76b9" stroke="#6e76b9"/>
<path d="M100.73,542.18 A53.65,53.65 0 0 1 103.92,541.65 L104.74,547.64 A47.60,47.60 0 0 0 101.91,548.11 Z" fill="#ebe8f1" stroke="#ebe8f1"/>
<path d="M101.46,523.66 A71.80,71.80 0 0 1 105.75,523.21 L106.21,529.24 A65.75,65.75 0 0 0 102.28,529.66 Z" fill="#e6202a" stroke="#e6202a"/>
<path d="M102.28,529.66 A65.75,65.75 0 0 1 106.21,529.24 L106.67,535.27 A59.70,59.70 0 0 0 103.10,535.65 Z" fill="#e6232c" stroke="#e6232c"/>
<path d="M103.10,535.65 A59.70,59.70 0 0 1 106.67,535.27 L107.13,541.30 A53.65,53.65 0 0 0 103.92,541.65 Z" fill="#405fad" stroke="#405fad"/>
<path d="M103.92,541.65 A53.65,53.65 0 0 1 107.13,541.30 L107.59,547.34 A47.60,47.60 0 0 0 104.74,547.64 Z" fill="#e6202a" stroke="#e6202a"/>
<path d="M105.75,523.21 A71.80,71.80 0 0 1 110.07,523.01 L110.17,529.06 A65.75,65.75 0 0 0 106.21,529.24 Z" fill="#f4d2cc" stroke="#f4d2cc"/>
<path d="M106.21,529.24 A65.75,65.75 0 0 1 110.17,529.06 L110.26,535.11 A59.70,59.70 0 0 0 106.67,535.27 Z" fill="#e7262f" stroke="#e7262f"/>
<path d="M106.67,535.27 A59.70,59.70 0 0 1 110.26,535.11 L110.36,541.16 A53.65,53.65 0 0 0 107.13,541.30 Z" fill="#e72b32" stroke="#e72b32"/>
<path d="M107.13,541.30 A53.65,53.65 0 0 1 110.36,541.16 L110.45,547.21 A47.60,47.60 0 0 0 107.59,547.34 Z" fill="#787abb" stroke="#787abb"/>
<path d="M110.07,523.01 A71.80,71.80 0 0 1 114.39,523.07 L114.13,529.12 A65.75,65.75 0 0 0 110.17,529.06 Z" fill="#f0957f" stroke="#f0957f"/>
<path d="M110.17,529.06 A65.75,65.75 0 0 1 114.13,529.12 L113.86,535.16 A59.70,59.70 0 0 0 110.26,535.11 Z" fill="#ed7769" stroke="#ed7769"/>
<path d="M110.26,535.11 A59.70,59.70 0 0 1 113.86,535.16 L113.59,541.20 A53.65,53.65 0 0 0 110.36,541.16 Z" fill="#8f87c2" stroke="#8f87c2"/>
<path d="M110.36,541.16 A53.65,53.65 0 0 1 113.59,541.20 L113.32,547.25 A47.60,47.60 0 0 0 110.45,547.21 Z" fill="#ede9f2" stroke="#ede9f2"/>
<path d="M114.39,523.07 A71.80,71.80 0 0 1 118.71,523.39 L118.07,529.41 A65.75,65.75 0 0 0 114.13,529.12 Z" fill="#3a5cac" stroke="#3a5cac"/>
<path d="M114.13,529.12 A65.75,65.75 0 0 1 118.07,529.41 L117.44,535.43 A59.70,59.70 0 0 0 113.86,535.16 Z" fill="#ef8876" stroke="#ef8876"/>
<path d="M113.86,535.16 A59.70,59.70 0 0 1 117.44,535.43 L116.81,541.44 A53.65,53.65 0 0 0 113.59,541.20 Z" fill="#e6202a" stroke="#e6202a"/>
<path d="M113.59,541.20 A53.65,53.65 0 0 1 116.81,541.44 L116.18,547.46 A47.60,47.60 0 0 0 113.32,547.25 Z" fill="#e6202a" stroke="#e6202a"/>
<path d="M118.71,523.39 A71.80,71.80 0 0 1 122.99,523.97 L122.00,529.94 A65.75,65.75 0 0 0 118.07,529.41 Z" fill="#e72e35" stroke="#e72e35"/>
<path d="M118.07,529.41 A65.75,65.75 0 0 1 122.00,529.94 L121.00,535.91 A59.70,59.70 0 0 0 117.44,535.43 Z" fill="#e83b3e" stroke="#e83b3e"/>
<path d="M117.44,535.43 A59.70,59.70 0 0 1 121.00,535.91 L120.01,541.88 A53.65,53.65 0 0 0 116.81,541.44 Z" fill="#f09883" stroke="#f09883"/>
<path d="M116.81,541.44 A53.65,53.65 0 0 1 120.01,541.88 L119.02,547.85 A47.60,47.60 0 0 0 116.18,547.46 Z" fill="#3a5cac" stroke="#3a5cac"/>
<path d="M122.99,523.97 A71.80,71.80 0 0 1 127.23,524.81 L125.88,530.71 A65.75,65.75 0 0 0 122.00,529.94 Z" fill="#ef8775" stroke="#ef8775"/>
<path d="M122.00,529.94 A65.75,65.75 0 0 1 125.88,530.71 L124.53,536.61 A59.70,59.70 0 0 0 121.00,535.91 Z" fill="#6e75b9" stroke="#6e75b9"/>
<path d="M121.00,535.91 A59.70,59.70 0 0 1 124.53,536.61 L123.18,542.50 A53.65,53.65 0 0 0 120.01,541.88 Z" fill="#e8383c" stroke="#e8383c"/>
<path d="M120.01,541.88 A53.65,53.65 0 0 1 123.18,542.50 L121.83,548.40 A47.60,47.60 0 0 0 119.02,547.85 Z" fill="#e6202a" stroke="#e6202a"/>
<path d="M127.23,524.81 A71.80,71.80 0 0 1 131.41,525.90 L129.71,531.71 A65.75,65.75 0 0 0 125.88,530.71 Z" fill="#e72c33" stroke="#e72c33"/>
<path d="M125.88,530.71 A65.75,65.75 0 0 1 129.71,531.71 L128.01,537.51 A59.70,59.70 0 0 0 124.53,536.61 Z" fill="#e6202a" stroke="#e6202a"/>
<path d="M124.53,536.61 A59.70,59.70 0 0 1 128.01,537.51 L126.30,543.32 A53.65,53.65 0 0 0 123.18,542.50 Z" fill="#f6eff2" stroke="#f6eff2"/>
<path d="M123.18,542.50 A53.65,53.65 0 0 1 126.30,543.32 L124.60,549.12 A47.60,47.60 0 0 0 121.83,548.40 Z" fill="#8d86c1" stroke="#8d86c1"/>
<path d="M131.41,525.90 A71.80,71.80 0 0 1 135.52,527.24 L133.47,532.94 A65.75,65.75 0 0 0 129.71,531.71 Z" fill="#f09c88" stroke="#f09c88"/>
<path d="M129.71,531.71 A65.75,65.75 0 0 1 133.47,532.94 L131.42,538.63 A59.70,59.70 0 0 0 128.01,537.51 Z" fill="#f6eef1" stroke="#f6eef1"/>
<path d="M128.01,537.51 A59.70,59.70 0 0 1 131.42,538.63 L129.37,544.32 A53.65,53.65 0 0 0 126.30,543.32 Z" fill="#f4dbd8" stroke="#f4dbd8"/>
<path d="M126.30,543.32 A53.65,53.65 0 0 1 129.37,544.32 L127.32,550.01 A47.60,47.60 0 0 0 124.60,549.12 Z" fill="#e8383b" stroke="#e8383b"/>
<path d="M135.52,527.24 A71.80,71.80 0 0 1 139.54,528.83 L137.15,534.39 A65.75,65.75 0 0 0 133.47,532.94 Z" fill="#ed7165" stroke="#ed7165"/>
<path d="M133.47,532.94 A65.75,65.75 0 0 1 137.15,534.39 L134.77,539.95 A59.70,59.70 0 0 0 131.42,538.63 Z" fill="#f09b87" stroke="#f09b87"/>
<path d="M131.42,538.63 A59.70,59.70 0 0 1 134.77,539.95 L132.38,545.51 A53.65,53.65 0 0 0 129.37,544.32 Z" fill="#ee7b6c" stroke="#ee7b6c"/>
<path d="M129.37,544.32 A53.65,53.65 0 0 1 132.38,545.51 L129.99,551.07 A47.60,47.60 0 0 0 127.32,550.01 Z" fill="#ed6f63" stroke="#ed6f63"/>
<path d="M139.54,528.83 A71.80,71.80 0 0 1 143.46,530.66 L140.74,536.06 A65.75,65.75 0 0 0 137.15,534.39 Z" fill="#ed786a" stroke="#ed786a"/>
<path d="M137.15,534.39 A65.75,65.75 0 0 1 140.74,536.06 L138.02,541.47 A59.70,59.70 0 0 0 134.77,539.95 Z" fill="#f0947f" stroke="#f0947f"/>
<path d="M134.77,539.95 A59.70,59.70 0 0 1 138.02,541.47 L135.31,546.87 A53.65,53.65 0 0 0 132.38,545.51 Z" fill="#f19e8b" stroke="#f19e8b"/>
<path d="M132.38,545.51 A53.65,53.65 0 0 1 135.31,546.87 L132.59,552.28 A47.60,47.60 0 0 0 129.99,551.07 Z" fill="#ef8977" stroke="#ef8977"/>
<path d="M143.46,530.66 A71.80,71.80 0 0 1 147.26,532.71 L144.22,537.95 A65.75,65.75 0 0 0 140.74,536.06 Z" fill="#9089c2" stroke="#9089c2"/>
<path d="M140.74,536.06 A65.75,65.75 0 0 1 144.22,537.95 L141.19,543.18 A59.70,59.70 0 0 0 138.02,541.47 Z" fill="#f09680" stroke="#f09680"/>
<path d="M138.02,541.47 A59.70,59.70 0 0 1 141.19,543.18 L138.15,548.41 A53.65,53.65 0 0 0 135.31,546.87 Z" fill="#f4d5d0" stroke="#f4d5d0"/>
<path d="M135.31,546.87 A53.65,53.65 0 0 1 138.15,548.41 L135.11,553.64 A47.60,47.60 0 0 0 132.59,552.28 Z" fill="#7177b9" stroke="#7177b9"/>
<path d="M147.26,532.71 A71.80,71.80 0 0 1 150.93,535.00 L147.59,540.04 A65.75,65.75 0 0 0 144.22,537.95 Z" fill="#ed7366" stroke="#ed7366"/>
<path d="M144.22,537.95 A65.75,65.75 0 0 1 147.59,540.04 L144.24,545.07 A59.70,59.70 0 0 0 141.19,543.18 Z" fill="#e83b3d" stroke="#e83b3d"/>
<path d="M141.19,543.18 A59.70,59.70 0 0 1 144.24,545.07 L140.89,550.11 A53.65,53.65 0 0 0 138.15,548.41 Z" fill="#f0957f" stroke="#f0957f"/>
<path d="M138.15,548.41 A53.65,53.65 0 0 1 140.89,550.11 L137.54,555.15 A47.60,47.60 0 0 0 135.11,553.64 Z" fill="#9088c2" stroke="#9088c2"/>
<path d="M150.93,535.00 A71.80,71.80 0 0 1 154.46,537.50 L150.82,542.32 A65.75,65.75 0 0 0 147.59,540.04 Z" fill="#ee796b" stroke="#ee796b"/>
<path d="M147.59,540.04 A65.75,65.75 0 0 1 150.82,542.32 L147.17,547.15 A59.70,59.70 0 0 0 144.24,545.07 Z" fill="#9088c2" stroke="#9088c2"/>
<path d="M144.24,545.07 A59.70,59.70 0 0 1 147.17,547.15 L143.52,551.98 A53.65,53.65 0 0 0 140.89,550.11 Z" fill="#e6202a" stroke="#e6202a"/>
<path d="M140.89,550.11 A53.65,53.65 0 0 1 143.52,551.98 L139.88,556.81 A47.60,47.60 0 0 0 137.54,555.15 Z" fill="#e6202a" stroke="#e6202a"/>
<path d="M154.46,537.50 A71.80,71.80 0 0 1 157.83,540.20 L153.90,544.80 A65.75,65.75 0 0 0 150.82,542.32 Z" fill="#ee7f70" stroke="#ee7f70"/>
<path d="M150.82,542.32 A65.75,65.75 0 0 1 153.90,544.80 L149.97,549.40 A59.70,59.70 0 0 0 147.17,547.15 Z" fill="#7277ba" stroke="#7277ba"/>
<path d="M147.17,547.15 A59.70,59.70 0 0 1 149.97,549.40 L146.04,554.00 A53.65,53.65 0 0 0 143.52,551.98 Z" fill="#e6242d" stroke="#e6242d"/>
<path d="M143.52,551.98 A53.65,53.65 0 0 1 146.04,554.00 L142.11,558.60 A47.60,47.60 0 0 0 139.88,556.81 Z" fill="#e83338" stroke="#e83338"/>
<path d="M157.83,540.20 A71.80,71.80 0 0 1 161.03,543.11 L156.83,547.46 A65.75,65.75 0 0 0 153.90,544.80 Z" fill="#4260ae" stroke="#4260ae"/>
<path d="M153.90,544.80 A65.75,65.75 0 0 1 156.83,547.46 L152.63,551.82 A59.70,59.70 0 0 0 149.97,549.40 Z" fill="#8581be" stroke="#8581be"/>
<path d="M149.97,549.40 A59.70,59.70 0 0 1 152.63,551.82 L148.43,556.17 A53.65,53.65 0 0 0 146.04,554.00 Z" fill="#f09882" stroke="#f09882"/>
<path d="M146.04,554.00 A53.65,53.65 0 0 1 148.43,556.17 L144.24,560.53 A47.60,47.60 0 0 0 142.11,558.60 Z" fill="#f1a08d" stroke="#f1a08d"/>
<path d="M161.03,543.11 A71.80,71.80 0 0 1 164.05,546.20 L159.60,550.30 A65.75,65.75 0 0 0 156.83,547.46 Z" fill="#f4d0ca" stroke="#f4d0ca"/>
<path d="M156.83,547.46 A65.75,65.75 0 0 1 159.60,550.30 L155.14,554.39 A59.70,59.70 0 0 0 152.63,551.82 Z" fill="#f4dad7" stroke="#f4dad7"/>
<path d="M152.63,551.82 A59.70,59.70 0 0 1 155.14,554.39 L150.69,558.49 A53.65,53.65 0 0 0 148.43,556.17 Z" fill="#e6202a" stroke="#e6202a"/>
<path d="M148.43,556.17 A53.65,53.65 0 0 1 150.69,558.49 L146.24,562.58 A47.60,47.60 0 0 0 144.24,560.53 Z" fill="#ef8876" stroke="#ef8876"/>
<path d="M164.05,546.20 A71.80,71.80 0 0 1 166.88,549.47 L162.19,553.29 A65.75,65.75 0 0 0 159.60,550.30 Z" fill="#f4d7d4" stroke="#f4d7d4"/>
<path d="M159.60,550.30 A65.75,65.75 0 0 1 162.19,553.29 L157.50,557.11 A59.70,59.70 0 0 0 155.14,554.39 Z" fill="#f6f1f5" stroke="#f6f1f5"/>
<path d="M155.14,554.39 A59.70,59.70 0 0 1 157.50,557.11 L152.81,560.93 A53.65,53.65 0 0 0 150.69,558.49 Z" fill="#e7262e" stroke="#e7262e"/>
<path d="M150.69,558.49 A53.65,53.65 0 0 1 152.81,560.93 L148.11,564.75 A47.60,47.60 0 0 0 146.24,562.58 Z" fill="#f0937e" stroke="#f0937e"/>
<path d="M166.88,549.47 A71.80,71.80 0 0 1 169.51,552.90 L164.59,556.43 A65.75,65.75 0 0 0 162.19,553.29 Z" fill="#f09882" stroke="#f09882"/>
<path d="M162.19,553.29 A65.75,65.75 0 0 1 164.59,556.43 L159.68,559.96 A59.70,59.70 0 0 0 157.50,557.11 Z" fill="#e83b3e" stroke="#e83b3e"/>
<path d="M157.50,557.11 A59.70,59.70 0 0 1 159.68,559.96 L154.77,563.49 A53.65,53.65 0 0 0 152.81,560.93 Z" fill="#f5e5e5" stroke="#f5e5e5"/>
<path d="M152.81,560.93 A53.65,53.65 0 0 1 154.77,563.49 L149.86,567.02 A47.60,47.60 0 0 0 148.11,564.75 Z" fill="#e6252d" stroke="#e6252d"/>
<path d="M169.51,552.90 A71.80,71.80 0 0 1 171.92,556.49 L166.81,559.71 A65.75,65.75 0 0 0 164.59,556.43 Z" fill="#ef8674" stroke="#ef8674"/>
<path d="M164.59,556.43 A65.75,65.75 0 0 1 166.81,559.71 L161.69,562.94 A59.70,59.70 0 0 0 159.68,559.96 Z" fill="#f1a08d" stroke="#f1a08d"/>
<path d="M159.68,559.96 A59.70,59.70 0 0 1 161.69,562.94 L156.57,566.17 A53.65,53.65 0 0 0 154.77,563.49 Z" fill="#f0927d" stroke="#f0927d"/>
<path d="M154.77,563.49 A53.65,53.65 0 0 1 156.57,566.17 L151.46,569.40 A47.60,47.60 0 0 0 149.86,567.02 Z" fill="#7177b9" stroke="#7177b9"/>
<path d="M171.92,556.49 A71.80,71.80 0 0 1 174.12,560.21 L168.82,563.12 A65.75,65.75 0 0 0 166.81,559.71 Z" fill="#f09d8a" stroke="#f09d8a"/>
<path d="M166.81,559.71 A65.75,65.75 0 0 1 168.82,563.12 L163.52,566.04 A59.70,59.70 0 0 0 161.69,562.94 Z" fill="#f09782" stroke="#f09782"/>
<path d="M161.69,562.94 A59.70,59.70 0 0 1 163.52,566.04 L158.21,568.95 A53.65,53.65 0 0 0 156.57,566.17 Z" fill="#ed786a" stroke="#ed786a"/>
<path d="M156.57,566.17 A53.65,53.65 0 0 1 158.21,568.95 L152.91,571.87 A47.60,47.60 0 0 0 151.46,569.40 Z" fill="#7b7cbc" stroke="#7b7cbc"/>
<path d="M174.12,560.21 A71.80,71.80 0 0 1 176.09,564.06 L170.62,566.65 A65.75,65.75 0 0 0 168.82,563.12 Z" fill="#ef907b" stroke="#ef907b"/>
<path d="M168.82,563.12 A65.75,65.75 0 0 1 170.62,566.65 L165.15,569.24 A59.70,59.70 0 0 0 163.52,566.04 Z" fill="#e6202a" stroke="#e6202a"/>
<path d="M163.52,566.04 A59.70,59.70 0 0 1 165.15,569.24 L159.68,571.83 A53.65,53.65 0 0 0 158.21,568.95 Z" fill="#7478ba" stroke="#7478ba"/>
<path d="M158.21,568.95 A53.65,53.65 0 0 1 159.68,571.83 L154.22,574.42 A47.60,47.60 0 0 0 152.91,571.87 Z" fill="#e83c3e" stroke="#e83c3e"/>
<path d="M176.09,564.06 A71.80,71.80 0 0 1 177.82,568.02 L172.21,570.28 A65.75,65.75 0 0 0 170.62,566.65 Z" fill="#e6202a" stroke="#e6202a"/>
<path d="M170.62,566.65 A65.75,65.75 0 0 1 172.21,570.28 L166.59,572.53 A59.70,59.70 0 0 0 165.15,569.24 Z" fill="#ef8a77" stroke="#ef8a77"/>
<path d="M165.15,569.24 A59.70,59.70 0 0 1 166.59,572.53 L160.98,574.79 A53.65,53.65 0 0 0 159.68,571.83 Z" fill="#f5e5e5" stroke="#f5e5e5"/>
<path d="M159.68,571.83 A53.65,53.65 0 0 1 160.98,574.79 L155.37,577.05 A47.60,47.60 0 0 0 154.22,574.42 Z" fill="#e6232d" stroke="#e6232d"/>
<path d="M177.82,568.02 A71.80,71.80 0 0 1 179.31,572.08 L173.57,573.99 A65.75,65.75 0 0 0 172.21,570.28 Z" fill="#e6202a" stroke="#e6202a"/>
<path d="M172.21,570.28 A65.75,65.75 0 0 1 173.57,573.99 L167.83,575.91 A59.70,59.70 0 0 0 166.59,572.53 Z" fill="#ee7d6e" stroke="#ee7d6e"/>
<path d="M166.59,572.53 A59.70,59.70 0 0 1 167.83,575.91 L162.09,577.82 A53.65,53.65 0 0 0 160.98,574.79 Z" fill="#e8e4f0" stroke="#e8e4f0"/>
<path d="M160.98,574.79 A53.65,53.65 0 0 1 162.09,577.82 L156.35,579.74 A47.60,47.60 0 0 0 155.37,577.05 Z" fill="#e6202a" stroke="#e6202a"/>
<path d="M179.31,572.08 A71.80,71.80 0 0 1 180.55,576.22 L174.71,577.78 A65.75,65.75 0 0 0 173.57,573.99 Z" fill="#ef8b78" stroke="#ef8b78"/>
<path d="M173.57,573.99 A65.75,65.75 0 0 1 174.71,577.78 L168.87,579.35 A59.70,59.70 0 0 0 167.83,575.91 Z" fill="#f09984" stroke="#f09984"/>
<path d="M167.83,575.91 A59.70,59.70 0 0 1 168.87,579.35 L163.02,580.91 A53.65,53.65 0 0 0 162.09,577.82 Z" fill="#e6252e" stroke="#e6252e"/>
<path d="M162.09,577.82 A53.65,53.65 0 0 1 163.02,580.91 L157.18,582.48 A47.60,47.60 0 0 0 156.35,579.74 Z" fill="#ef8775" stroke="#ef8775"/>
</g>
<g font-size="5" fill="#111" stroke="#111" stroke-width="0.1">
<text transform="translate(185.07,597.02) rotate(1.73)" dy="1.75">Mapk1_Y_185</text>
<text transform="translate(184.80,601.47) rotate(5.18)" dy="1.75">Ulk1_S_556</text>
<text transform="translate(184.26,605.88) rotate(8.62)" dy="1.75">Wnk1_S_370</text>
<text transform="translate(183.46,610.26) rotate(12.08)" dy="1.75">Egfr_T_693</text>
<text transform="translate(182.40,614.58) rotate(15.53)" dy="1.75">Csnk2a1_S_326</text>
<text transform="translate(181.08,618.83) rotate(18.98)" dy="1.75">Rps6kb1_Y_45</text>
<text transform="translate(179.51,622.99) rotate(22.43)" dy="1.75">Pak2_S_623</text>
<text transform="translate(177.69,627.05) rotate(25.88)" dy="1.75">Camk2d_S_1718</text>
<text transform="translate(175.63,630.99) rotate(29.33)" dy="1.75">Stk39_S_626</text>
<text transform="translate(173.34,634.81) rotate(32.77)" dy="1.75">Mark2_S_82</text>
<text transform="translate(170.82,638.47) rotate(36.23)" dy="1.75">Rock2_Y_456</text>
<text transform="translate(168.08,641.98) rotate(39.68)" dy="1.75">Wnk1_T_21</text>
<text transform="translate(165.14,645.32) rotate(43.12)" dy="1.75">Cdk7_S_88</text>
<text transform="translate(162.00,648.47) rotate(46.58)" dy="1.75">Mapk14_T_1333</text>
<text transform="translate(158.68,651.43) rotate(50.03)" dy="1.75">Ksr1_S_1546</text>
<text transform="translate(155.18,654.19) rotate(53.48)" dy="1.75">Dyrk1a_S_45</text>
<text transform="translate(151.53,656.73) rotate(56.93)" dy="1.75">Chek1_T_121</text>
<text transform="translate(147.73,659.04) rotate(60.38)" dy="1.75">Cdk1_S_655</text>
<text transform="translate(143.80,661.12) rotate(63.83)" dy="1.75">Csnk2a1_S_557</text>
<text transform="translate(139.75,662.96) rotate(67.28)" dy="1.75">Ksr1_T_1584</text>
<text transform="translate(135.59,664.56) rotate(70.73)" dy="1.75">Prkd1_S_13</text>
<text transform="translate(131.35,665.90) rotate(74.17)" dy="1.75">Pik3c2a_Y_176</text>
<text transform="translate(127.04,666.98) rotate(77.62)" dy="1.75">Pkm_T_465_2</text>
<text transform="translate(122.66,667.81) rotate(81.08)" dy="1.75">Plk1_Y_1552</text>
<text transform="translate(118.25,668.36) rotate(84.53)" dy="1.75">Rps6kb1_Y_1663</text>
<text transform="translate(113.81,668.65) rotate(87.98)" dy="1.75">Aurkb_S_750</text>
<text transform="translate(109.36,668.68) rotate(-88.57)" text-anchor="end" dy="1.75">Cdk5_T_862</text>
<text transform="translate(104.92,668.43) rotate(-85.12)" text-anchor="end" dy="1.75">Plk1_T_95</text>
<text transform="translate(100.50,667.92) rotate(-81.67)" text-anchor="end" dy="1.75">Lats1_T_61</text>
<text transform="translate(96.12,667.14) rotate(-78.22)" text-anchor="end" dy="1.75">Prkaa1_S_91</text>
<text transform="translate(91.79,666.11) rotate(-74.77)" text-anchor="end" dy="1.75">Camk2g_S_506</text>
<text transform="translate(87.54,664.81) rotate(-71.32)" text-anchor="end" dy="1.75">Map3k7_S_1270</text>
<text transform="translate(83.37,663.26) rotate(-67.88)" text-anchor="end" dy="1.75">Prkca_S_1265</text>
<text transform="translate(79.30,661.46) rotate(-64.42)" text-anchor="end" dy="1.75">Mast2_S_1762_2</text>
<text transform="translate(75.34,659.42) rotate(-60.97)" text-anchor="end" dy="1.75">Oxsr1_Y_120</text>
<text transform="translate(71.52,657.14) rotate(-57.52)" text-anchor="end" dy="1.75">Rock2_Y_382</text>
<text transform="translate(67.84,654.64) rotate(-54.07)" text-anchor="end" dy="1.75">Mapk14_S_176</text>
<text transform="translate(64.32,651.93) rotate(-50.62)" text-anchor="end" dy="1.75">Aurkb_Y_404</text>
<text transform="translate(60.97,649.00) rotate(-47.17)" text-anchor="end" dy="1.75">Prkaa1_S_1176</text>
<text transform="translate(57.80,645.88) rotate(-43.72)" text-anchor="end" dy="1.75">Pkn1_T_833</text>
<text transform="translate(54.82,642.57) rotate(-40.28)" text-anchor="end" dy="1.75">Ulk1_T_424</text>
<text transform="translate(52.05,639.09) rotate(-36.82)" text-anchor="end" dy="1.75">Gsk3b_S_1891</text>
<text transform="translate(49.49,635.45) rotate(-33.38)" text-anchor="end" dy="1.75">Rps6kb1_S_368</text>
<text transform="translate(47.15,631.67) rotate(-29.92)" text-anchor="end" dy="1.75">Prkaca_Y_1769</text>
<text transform="translate(45.05,627.75) rotate(-26.47)" text-anchor="end" dy="1.75">Cdk14_S_412</text>
<text transform="translate(43.19,623.70) rotate(-23.03)" text-anchor="end" dy="1.75">Ksr1_S_33</text>
<text transform="translate(41.57,619.56) rotate(-19.57)" text-anchor="end" dy="1.75">Cdk1_Y_1541</text>
<text transform="translate(40.21,615.32) rotate(-16.12)" text-anchor="end" dy="1.75">Mapk12_S_25</text>
<text transform="translate(39.10,611.02) rotate(-12.67)" text-anchor="end" dy="1.75">Camk2b_T_486</text>
<text transform="translate(38.26,606.65) rotate(-9.22)" text-anchor="end" dy="1.75">Mylk_T_1216</text>
<text transform="translate(37.68,602.24) rotate(-5.77)" text-anchor="end" dy="1.75">Sik3_T_85_2</text>
<text transform="translate(37.36,597.80) rotate(-2.32)" text-anchor="end" dy="1.75">Mapk1_T_968</text>
<text transform="translate(37.31,593.35) rotate(1.12)" text-anchor="end" dy="1.75">Rock2_S_92</text>
<text transform="translate(37.54,588.91) rotate(4.58)" text-anchor="end" dy="1.75">Dyrk1a_T_678_2</text>
<text transform="translate(38.02,584.48) rotate(8.03)" text-anchor="end" dy="1.75">Pak2_S_136_2</text>
<text transform="translate(38.78,580.10) rotate(11.48)" text-anchor="end" dy="1.75">Pdk2_S_1028</text>
<text transform="translate(39.79,575.77) rotate(14.93)" text-anchor="end" dy="1.75">Prkaa1_S_1196</text>
<text transform="translate(41.07,571.50) rotate(18.38)" text-anchor="end" dy="1.75">Camk2g_S_757_2</text>
<text transform="translate(42.60,567.33) rotate(21.83)" text-anchor="end" dy="1.75">Gsk3a_T_32</text>
<text transform="translate(44.37,563.25) rotate(25.28)" text-anchor="end" dy="1.75">Aurkb_T_1549</text>
<text transform="translate(46.39,559.28) rotate(28.73)" text-anchor="end" dy="1.75">Oxsr1_Y_44</text>
<text transform="translate(48.65,555.45) rotate(32.18)" text-anchor="end" dy="1.75">Mapk3_S_17_2</text>
<text transform="translate(51.13,551.75) rotate(35.62)" text-anchor="end" dy="1.75">Cdk7_T_479_2</text>
<text transform="translate(53.83,548.22) rotate(39.08)" text-anchor="end" dy="1.75">Prkca_S_1404_2</text>
<text transform="translate(56.74,544.85) rotate(42.53)" text-anchor="end" dy="1.75">Chek1_S_21</text>
<text transform="translate(59.84,541.66) rotate(45.98)" text-anchor="end" dy="1.75">Pkn1_T_850</text>
<text transform="translate(63.13,538.67) rotate(49.43)" text-anchor="end" dy="1.75">Map2k4_S_411</text>
<text transform="translate(66.60,535.88) rotate(52.88)" text-anchor="end" dy="1.75">Cdk1_S_1400_2</text>
<text transform="translate(70.22,533.30) rotate(56.33)" text-anchor="end" dy="1.75">Pak2_T_77</text>
<text transform="translate(74.00,530.95) rotate(59.78)" text-anchor="end" dy="1.75">Mapk12_S_479_2</text>
<text transform="translate(77.91,528.82) rotate(63.23)" text-anchor="end" dy="1.75">Prkcb_S_144</text>
<text transform="translate(81.94,526.94) rotate(66.68)" text-anchor="end" dy="1.75">Mapkapk2_S_44</text>
<text transform="translate(86.08,525.30) rotate(70.12)" text-anchor="end" dy="1.75">Pdpk1_S_51</text>
<text transform="translate(90.30,523.92) rotate(73.58)" text-anchor="end" dy="1.75">Pdk2_T_68</text>
<text transform="translate(94.61,522.79) rotate(77.03)" text-anchor="end" dy="1.75">Prkd1_S_636</text>
<text transform="translate(98.97,521.92) rotate(80.48)" text-anchor="end" dy="1.75">Camk2d_T_916</text>
<text transform="translate(103.38,521.32) rotate(83.93)" text-anchor="end" dy="1.75">Cdk5_T_53</text>
<text transform="translate(107.82,520.98) rotate(87.38)" text-anchor="end" dy="1.75">Pik3c2a_S_1189</text>
<text transform="translate(112.26,520.91) rotate(270.82)" dy="1.75">Bckdk_S_22</text>
<text transform="translate(116.71,521.11) rotate(274.28)" dy="1.75">Oxsr1_Y_83</text>
<text transform="translate(121.13,521.57) rotate(277.73)" dy="1.75">Cdk1_Y_32</text>
<text transform="translate(125.52,522.30) rotate(281.18)" dy="1.75">Stk39_T_1612</text>
<text transform="translate(129.86,523.29) rotate(284.62)" dy="1.75">Mapk14_T_791</text>
<text transform="translate(134.13,524.55) rotate(288.07)" dy="1.75">Rps6kb1_S_1008</text>
<text transform="translate(138.31,526.05) rotate(291.53)" dy="1.75">Ksr1_S_1815_2</text>
<text transform="translate(142.40,527.81) rotate(294.98)" dy="1.75">Stk39_T_10</text>
<text transform="translate(146.38,529.81) rotate(298.43)" dy="1.75">Camk1d_S_423</text>
<text transform="translate(150.22,532.04) rotate(301.88)" dy="1.75">Prkca_T_745</text>
<text transform="translate(153.93,534.51) rotate(305.32)" dy="1.75">Prkaca_T_700</text>
<text transform="translate(157.48,537.19) rotate(308.78)" dy="1.75">Mapk1_T_1377</text>
<text transform="translate(160.86,540.08) rotate(312.23)" dy="1.75">Dyrk1a_Y_12</text>
<text transform="translate(164.07,543.16) rotate(315.68)" dy="1.75">Cdk5_S_1872</text>
<text transform="translate(167.08,546.44) rotate(319.12)" dy="1.75">Map2k4_T_1148</text>
<text transform="translate(169.89,549.89) rotate(322.57)" dy="1.75">Akt1_S_230</text>
<text transform="translate(172.48,553.50) rotate(326.03)" dy="1.75">Prkg1_S_857</text>
<text transform="translate(174.86,557.27) rotate(329.48)" dy="1.75">Map3k7_T_1503</text>
<text transform="translate(177.00,561.16) rotate(332.93)" dy="1.75">Cdk7_S_26_2</text>
<text transform="translate(178.91,565.18) rotate(336.38)" dy="1.75">Pdpk1_T_508</text>
<text transform="translate(180.57,569.31) rotate(339.83)" dy="1.75">Cdk7_T_1223</text>
<text transform="translate(181.97,573.53) rotate(343.28)" dy="1.75">Pak2_S_80</text>
</g>
<text transform="translate(181.57,592.50) rotate(-90)" font-size="4.4" fill="#222">SOL</text>
<text transform="translate(175.53,592.50) rotate(-90)" font-size="4.4" fill="#222">TA</text>
<text transform="translate(169.47,592.50) rotate(-90)" font-size="4.4" fill="#222">TRI</text>
<text transform="translate(163.42,592.50) rotate(-90)" font-size="4.4" fill="#222">GAS</text>
<text x="110.10" y="582.90" font-size="3.8" font-weight="bold" fill="#111">log2FC</text>
<defs><linearGradient id="lg1" x1="0" y1="0" x2="0" y2="1">
<stop offset="0.0" stop-color="#e6202a"/>
<stop offset="0.25" stop-color="#f09680"/>
<stop offset="0.5" stop-color="#f6f3f7"/>
<stop offset="0.75" stop-color="#8c84c0"/>
<stop offset="1.0" stop-color="#3a5cac"/>
</linearGradient></defs>
<rect x="109.80" y="585.00" width="5.1" height="24" fill="url(#lg1)"/>
<text x="116.10" y="586.30" font-size="3.8" fill="#222">1</text>
<text x="116.10" y="592.05" font-size="3.8" fill="#222">0.5</text>
<text x="116.10" y="597.80" font-size="3.8" fill="#222">0</text>
<text x="116.10" y="603.55" font-size="3.8" fill="#222">−0.5</text>
<text x="116.10" y="609.30" font-size="3.8" fill="#222">−1</text>
<text x="333.4" y="475.7" font-size="14.2" font-weight="bold" fill="#111" text-anchor="middle">CR</text>
<g stroke-width="0.3">
<path d="M411.00,596.30 A71.80,71.80 0 0 1 410.87,600.62 L404.83,600.26 A65.75,65.75 0 0 0 404.95,596.30 Z" fill="#e6202a" stroke="#e6202a"/>
<path d="M404.95,596.30 A65.75,65.75 0 0 1 404.83,600.26 L398.79,599.89 A59.70,59.70 0 0 0 398.90,596.30 Z" fill="#e6202a" stroke="#e6202a"/>
<path d="M398.90,596.30 A59.70,59.70 0 0 1 398.79,599.89 L392.75,599.53 A53.65,53.65 0 0 0 392.85,596.30 Z" fill="#3a5cac" stroke="#3a5cac"/>
<path d="M392.85,596.30 A53.65,53.65 0 0 1 392.75,599.53 L386.71,599.16 A47.60,47.60 0 0 0 386.80,596.30 Z" fill="#3a5cac" stroke="#3a5cac"/>
<path d="M410.87,600.62 A71.80,71.80 0 0 1 410.48,604.93 L404.47,604.20 A65.75,65.75 0 0 0 404.83,600.26 Z" fill="#f4d9d5" stroke="#f4d9d5"/>
<path d="M404.83,600.26 A65.75,65.75 0 0 1 404.47,604.20 L398.47,603.47 A59.70,59.70 0 0 0 398.79,599.89 Z" fill="#4361ae" stroke="#4361ae"/>
<path d="M398.79,599.89 A59.70,59.70 0 0 1 398.47,603.47 L392.46,602.75 A53.65,53.65 0 0 0 392.75,599.53 Z" fill="#ee8170" stroke="#ee8170"/>
<path d="M392.75,599.53 A53.65,53.65 0 0 1 392.46,602.75 L386.46,602.02 A47.60,47.60 0 0 0 386.71,599.16 Z" fill="#f0957f" stroke="#f0957f"/>
<path d="M410.48,604.93 A71.80,71.80 0 0 1 409.83,609.20 L403.88,608.11 A65.75,65.75 0 0 0 404.47,604.20 Z" fill="#f5e7e8" stroke="#f5e7e8"/>
<path d="M404.47,604.20 A65.75,65.75 0 0 1 403.88,608.11 L397.93,607.03 A59.70,59.70 0 0 0 398.47,603.47 Z" fill="#3e5ead" stroke="#3e5ead"/>
<path d="M398.47,603.47 A59.70,59.70 0 0 1 397.93,607.03 L391.98,605.94 A53.65,53.65 0 0 0 392.46,602.75 Z" fill="#e6202a" stroke="#e6202a"/>
<path d="M392.46,602.75 A53.65,53.65 0 0 1 391.98,605.94 L386.03,604.85 A47.60,47.60 0 0 0 386.46,602.02 Z" fill="#e2deed" stroke="#e2deed"/>
<path d="M409.83,609.20 A71.80,71.80 0 0 1 408.93,613.43 L403.05,611.98 A65.75,65.75 0 0 0 403.88,608.11 Z" fill="#3a5cac" stroke="#3a5cac"/>
<path d="M403.88,608.11 A65.75,65.75 0 0 1 403.05,611.98 L397.18,610.54 A59.70,59.70 0 0 0 397.93,607.03 Z" fill="#e7262e" stroke="#e7262e"/>
<path d="M397.93,607.03 A59.70,59.70 0 0 1 397.18,610.54 L391.30,609.10 A53.65,53.65 0 0 0 391.98,605.94 Z" fill="#8882bf" stroke="#8882bf"/>
<path d="M391.98,605.94 A53.65,53.65 0 0 1 391.30,609.10 L385.43,607.65 A47.60,47.60 0 0 0 386.03,604.85 Z" fill="#f4cec8" stroke="#f4cec8"/>
<path d="M408.93,613.43 A71.80,71.80 0 0 1 407.77,617.59 L401.99,615.80 A65.75,65.75 0 0 0 403.05,611.98 Z" fill="#ed7165" stroke="#ed7165"/>
<path d="M403.05,611.98 A65.75,65.75 0 0 1 401.99,615.80 L396.21,614.00 A59.70,59.70 0 0 0 397.18,610.54 Z" fill="#f6ebed" stroke="#f6ebed"/>
<path d="M397.18,610.54 A59.70,59.70 0 0 1 396.21,614.00 L390.44,612.21 A53.65,53.65 0 0 0 391.30,609.10 Z" fill="#7d7dbc" stroke="#7d7dbc"/>
<path d="M391.30,609.10 A53.65,53.65 0 0 1 390.44,612.21 L384.66,610.42 A47.60,47.60 0 0 0 385.43,607.65 Z" fill="#eae7f1" stroke="#eae7f1"/>
<path d="M407.77,617.59 A71.80,71.80 0 0 1 406.36,621.68 L400.71,619.54 A65.75,65.75 0 0 0 401.99,615.80 Z" fill="#f1a18f" stroke="#f1a18f"/>
<path d="M401.99,615.80 A65.75,65.75 0 0 1 400.71,619.54 L395.05,617.40 A59.70,59.70 0 0 0 396.21,614.00 Z" fill="#f1a28f" stroke="#f1a28f"/>
<path d="M396.21,614.00 A59.70,59.70 0 0 1 395.05,617.40 L389.39,615.26 A53.65,53.65 0 0 0 390.44,612.21 Z" fill="#ef8c79" stroke="#ef8c79"/>
<path d="M390.44,612.21 A53.65,53.65 0 0 1 389.39,615.26 L383.73,613.13 A47.60,47.60 0 0 0 384.66,610.42 Z" fill="#eeeaf3" stroke="#eeeaf3"/>
<path d="M406.36,621.68 A71.80,71.80 0 0 1 404.72,625.68 L399.20,623.20 A65.75,65.75 0 0 0 400.71,619.54 Z" fill="#f2eff5" stroke="#f2eff5"/>
<path d="M400.71,619.54 A65.75,65.75 0 0 1 399.20,623.20 L393.67,620.72 A59.70,59.70 0 0 0 395.05,617.40 Z" fill="#ed7467" stroke="#ed7467"/>
<path d="M395.05,617.40 A59.70,59.70 0 0 1 393.67,620.72 L388.15,618.25 A53.65,53.65 0 0 0 389.39,615.26 Z" fill="#ef8976" stroke="#ef8976"/>
<path d="M389.39,615.26 A53.65,53.65 0 0 1 388.15,618.25 L382.63,615.77 A47.60,47.60 0 0 0 383.73,613.13 Z" fill="#f5eaec" stroke="#f5eaec"/>
<path d="M404.72,625.68 A71.80,71.80 0 0 1 402.83,629.56 L397.47,626.76 A65.75,65.75 0 0 0 399.20,623.20 Z" fill="#7479ba" stroke="#7479ba"/>
<path d="M399.20,623.20 A65.75,65.75 0 0 1 397.47,626.76 L392.11,623.96 A59.70,59.70 0 0 0 393.67,620.72 Z" fill="#3a5cac" stroke="#3a5cac"/>
<path d="M393.67,620.72 A59.70,59.70 0 0 1 392.11,623.96 L386.74,621.16 A53.65,53.65 0 0 0 388.15,618.25 Z" fill="#eeebf3" stroke="#eeebf3"/>
<path d="M388.15,618.25 A53.65,53.65 0 0 1 386.74,621.16 L381.38,618.35 A47.60,47.60 0 0 0 382.63,615.77 Z" fill="#f09d89" stroke="#f09d89"/>
<path d="M402.83,629.56 A71.80,71.80 0 0 1 400.71,633.33 L395.53,630.21 A65.75,65.75 0 0 0 397.47,626.76 Z" fill="#7f7ebd" stroke="#7f7ebd"/>
<path d="M397.47,626.76 A65.75,65.75 0 0 1 395.53,630.21 L390.35,627.09 A59.70,59.70 0 0 0 392.11,623.96 Z" fill="#948dc4" stroke="#948dc4"/>
<path d="M392.11,623.96 A59.70,59.70 0 0 1 390.35,627.09 L385.16,623.97 A53.65,53.65 0 0 0 386.74,621.16 Z" fill="#ee8070" stroke="#ee8070"/>
<path d="M386.74,621.16 A53.65,53.65 0 0 1 385.16,623.97 L379.98,620.85 A47.60,47.60 0 0 0 381.38,618.35 Z" fill="#f09b86" stroke="#f09b86"/>
<path d="M400.71,633.33 A71.80,71.80 0 0 1 398.37,636.97 L393.39,633.54 A65.75,65.75 0 0 0 395.53,630.21 Z" fill="#4964b0" stroke="#4964b0"/>
<path d="M395.53,630.21 A65.75,65.75 0 0 1 393.39,633.54 L388.40,630.11 A59.70,59.70 0 0 0 390.35,627.09 Z" fill="#8b83c0" stroke="#8b83c0"/>
<path d="M390.35,627.09 A59.70,59.70 0 0 1 388.40,630.11 L383.41,626.69 A53.65,53.65 0 0 0 385.16,623.97 Z" fill="#ee7d6e" stroke="#ee7d6e"/>
<path d="M385.16,623.97 A53.65,53.65 0 0 1 383.41,626.69 L378.43,623.26 A47.60,47.60 0 0 0 379.98,620.85 Z" fill="#ed7367" stroke="#ed7367"/>
<path d="M398.37,636.97 A71.80,71.80 0 0 1 395.82,640.46 L391.05,636.73 A65.75,65.75 0 0 0 393.39,633.54 Z" fill="#8983bf" stroke="#8983bf"/>
<path d="M393.39,633.54 A65.75,65.75 0 0 1 391.05,636.73 L386.28,633.01 A59.70,59.70 0 0 0 388.40,630.11 Z" fill="#ee7a6b" stroke="#ee7a6b"/>
<path d="M388.40,630.11 A59.70,59.70 0 0 1 386.28,633.01 L381.51,629.29 A53.65,53.65 0 0 0 383.41,626.69 Z" fill="#f0edf4" stroke="#f0edf4"/>
<path d="M383.41,626.69 A53.65,53.65 0 0 1 381.51,629.29 L376.73,625.57 A47.60,47.60 0 0 0 378.43,623.26 Z" fill="#f4cfc9" stroke="#f4cfc9"/>
<path d="M395.82,640.46 A71.80,71.80 0 0 1 393.06,643.78 L388.52,639.78 A65.75,65.75 0 0 0 391.05,636.73 Z" fill="#938bc3" stroke="#938bc3"/>
<path d="M391.05,636.73 A65.75,65.75 0 0 1 388.52,639.78 L383.98,635.78 A59.70,59.70 0 0 0 386.28,633.01 Z" fill="#f09c87" stroke="#f09c87"/>
<path d="M386.28,633.01 A59.70,59.70 0 0 1 383.98,635.78 L379.44,631.78 A53.65,53.65 0 0 0 381.51,629.29 Z" fill="#f5dedc" stroke="#f5dedc"/>
<path d="M381.51,629.29 A53.65,53.65 0 0 1 379.44,631.78 L374.91,627.78 A47.60,47.60 0 0 0 376.73,625.57 Z" fill="#f5e0df" stroke="#f5e0df"/>
<path d="M393.06,643.78 A71.80,71.80 0 0 1 390.10,646.94 L385.81,642.67 A65.75,65.75 0 0 0 388.52,639.78 Z" fill="#3a5cac" stroke="#3a5cac"/>
<path d="M388.52,639.78 A65.75,65.75 0 0 1 385.81,642.67 L381.52,638.40 A59.70,59.70 0 0 0 383.98,635.78 Z" fill="#f6ecef" stroke="#f6ecef"/>
<path d="M383.98,635.78 A59.70,59.70 0 0 1 381.52,638.40 L377.24,634.14 A53.65,53.65 0 0 0 379.44,631.78 Z" fill="#ef8b78" stroke="#ef8b78"/>
<path d="M379.44,631.78 A53.65,53.65 0 0 1 377.24,634.14 L372.95,629.87 A47.60,47.60 0 0 0 374.91,627.78 Z" fill="#4b64b0" stroke="#4b64b0"/>
<path d="M390.10,646.94 A71.80,71.80 0 0 1 386.96,649.91 L382.94,645.39 A65.75,65.75 0 0 0 385.81,642.67 Z" fill="#3a5cac" stroke="#3a5cac"/>
<path d="M385.81,642.67 A65.75,65.75 0 0 1 382.94,645.39 L378.91,640.87 A59.70,59.70 0 0 0 381.52,638.40 Z" fill="#4762af" stroke="#4762af"/>
<path d="M381.52,638.40 A59.70,59.70 0 0 1 378.91,640.87 L374.89,636.36 A53.65,53.65 0 0 0 377.24,634.14 Z" fill="#f0edf4" stroke="#f0edf4"/>
<path d="M377.24,634.14 A53.65,53.65 0 0 1 374.89,636.36 L370.86,631.84 A47.60,47.60 0 0 0 372.95,629.87 Z" fill="#e6202a" stroke="#e6202a"/>
<path d="M386.96,649.91 A71.80,71.80 0 0 1 383.65,652.69 L379.91,647.93 A65.75,65.75 0 0 0 382.94,645.39 Z" fill="#4a64b0" stroke="#4a64b0"/>
<path d="M382.94,645.39 A65.75,65.75 0 0 1 379.91,647.93 L376.16,643.18 A59.70,59.70 0 0 0 378.91,640.87 Z" fill="#3a5cac" stroke="#3a5cac"/>
<path d="M378.91,640.87 A59.70,59.70 0 0 1 376.16,643.18 L372.41,638.43 A53.65,53.65 0 0 0 374.89,636.36 Z" fill="#f5eaeb" stroke="#f5eaeb"/>
<path d="M374.89,636.36 A53.65,53.65 0 0 1 372.41,638.43 L368.67,633.68 A47.60,47.60 0 0 0 370.86,631.84 Z" fill="#e6202a" stroke="#e6202a"/>
<path d="M383.65,652.69 A71.80,71.80 0 0 1 380.18,655.26 L376.72,650.29 A65.75,65.75 0 0 0 379.91,647.93 Z" fill="#4360ae" stroke="#4360ae"/>
<path d="M379.91,647.93 A65.75,65.75 0 0 1 376.72,650.29 L373.27,645.32 A59.70,59.70 0 0 0 376.16,643.18 Z" fill="#e6212b" stroke="#e6212b"/>
<path d="M376.16,643.18 A59.70,59.70 0 0 1 373.27,645.32 L369.82,640.35 A53.65,53.65 0 0 0 372.41,638.43 Z" fill="#e7e3ef" stroke="#e7e3ef"/>
<path d="M372.41,638.43 A53.65,53.65 0 0 1 369.82,640.35 L366.37,635.39 A47.60,47.60 0 0 0 368.67,633.68 Z" fill="#e72a31" stroke="#e72a31"/>
<path d="M380.18,655.26 A71.80,71.80 0 0 1 376.55,657.62 L373.41,652.45 A65.75,65.75 0 0 0 376.72,650.29 Z" fill="#4260ae" stroke="#4260ae"/>
<path d="M376.72,650.29 A65.75,65.75 0 0 1 373.41,652.45 L370.26,647.28 A59.70,59.70 0 0 0 373.27,645.32 Z" fill="#e83338" stroke="#e83338"/>
<path d="M373.27,645.32 A59.70,59.70 0 0 1 370.26,647.28 L367.11,642.12 A53.65,53.65 0 0 0 369.82,640.35 Z" fill="#9088c2" stroke="#9088c2"/>
<path d="M369.82,640.35 A53.65,53.65 0 0 1 367.11,642.12 L363.96,636.95 A47.60,47.60 0 0 0 366.37,635.39 Z" fill="#7679bb" stroke="#7679bb"/>
<path d="M376.55,657.62 A71.80,71.80 0 0 1 372.80,659.75 L369.97,654.41 A65.75,65.75 0 0 0 373.41,652.45 Z" fill="#4a64b0" stroke="#4a64b0"/>
<path d="M373.41,652.45 A65.75,65.75 0 0 1 369.97,654.41 L367.14,649.06 A59.70,59.70 0 0 0 370.26,647.28 Z" fill="#3a5cac" stroke="#3a5cac"/>
<path d="M370.26,647.28 A59.70,59.70 0 0 1 367.14,649.06 L364.30,643.71 A53.65,53.65 0 0 0 367.11,642.12 Z" fill="#928bc3" stroke="#928bc3"/>
<path d="M367.11,642.12 A53.65,53.65 0 0 1 364.30,643.71 L361.47,638.37 A47.60,47.60 0 0 0 363.96,636.95 Z" fill="#ee7f6f" stroke="#ee7f6f"/>
<path d="M372.80,659.75 A71.80,71.80 0 0 1 368.92,661.66 L366.41,656.15 A65.75,65.75 0 0 0 369.97,654.41 Z" fill="#3a5cac" stroke="#3a5cac"/>
<path d="M369.97,654.41 A65.75,65.75 0 0 1 366.41,656.15 L363.91,650.65 A59.70,59.70 0 0 0 367.14,649.06 Z" fill="#3b5cac" stroke="#3b5cac"/>
<path d="M367.14,649.06 A59.70,59.70 0 0 1 363.91,650.65 L361.41,645.14 A53.65,53.65 0 0 0 364.30,643.71 Z" fill="#8581be" stroke="#8581be"/>
<path d="M364.30,643.71 A53.65,53.65 0 0 1 361.41,645.14 L358.90,639.63 A47.60,47.60 0 0 0 361.47,638.37 Z" fill="#ef8574" stroke="#ef8574"/>
<path d="M368.92,661.66 A71.80,71.80 0 0 1 364.93,663.33 L362.76,657.68 A65.75,65.75 0 0 0 366.41,656.15 Z" fill="#edeaf3" stroke="#edeaf3"/>
<path d="M366.41,656.15 A65.75,65.75 0 0 1 362.76,657.68 L360.59,652.03 A59.70,59.70 0 0 0 363.91,650.65 Z" fill="#7378ba" stroke="#7378ba"/>
<path d="M363.91,650.65 A59.70,59.70 0 0 1 360.59,652.03 L358.43,646.39 A53.65,53.65 0 0 0 361.41,645.14 Z" fill="#3a5cac" stroke="#3a5cac"/>
<path d="M361.41,645.14 A53.65,53.65 0 0 1 358.43,646.39 L356.26,640.74 A47.60,47.60 0 0 0 358.90,639.63 Z" fill="#9189c3" stroke="#9189c3"/>
<path d="M364.93,663.33 A71.80,71.80 0 0 1 360.85,664.76 L359.03,658.99 A65.75,65.75 0 0 0 362.76,657.68 Z" fill="#8480be" stroke="#8480be"/>
<path d="M362.76,657.68 A65.75,65.75 0 0 1 359.03,658.99 L357.20,653.22 A59.70,59.70 0 0 0 360.59,652.03 Z" fill="#dcd8e9" stroke="#dcd8e9"/>
<path d="M360.59,652.03 A59.70,59.70 0 0 1 357.20,653.22 L355.38,647.45 A53.65,53.65 0 0 0 358.43,646.39 Z" fill="#8b84c0" stroke="#8b84c0"/>
<path d="M358.43,646.39 A53.65,53.65 0 0 1 355.38,647.45 L353.55,641.68 A47.60,47.60 0 0 0 356.26,640.74 Z" fill="#f5e0de" stroke="#f5e0de"/>
<path d="M360.85,664.76 A71.80,71.80 0 0 1 356.69,665.94 L355.22,660.07 A65.75,65.75 0 0 0 359.03,658.99 Z" fill="#9088c2" stroke="#9088c2"/>
<path d="M359.03,658.99 A65.75,65.75 0 0 1 355.22,660.07 L353.74,654.20 A59.70,59.70 0 0 0 357.20,653.22 Z" fill="#e4e1ee" stroke="#e4e1ee"/>
<path d="M357.20,653.22 A59.70,59.70 0 0 1 353.74,654.20 L352.27,648.33 A53.65,53.65 0 0 0 355.38,647.45 Z" fill="#8982bf" stroke="#8982bf"/>
<path d="M355.38,647.45 A53.65,53.65 0 0 1 352.27,648.33 L350.80,642.47 A47.60,47.60 0 0 0 353.55,641.68 Z" fill="#dbd6e9" stroke="#dbd6e9"/>
<path d="M356.69,665.94 A71.80,71.80 0 0 1 352.47,666.86 L351.35,660.92 A65.75,65.75 0 0 0 355.22,660.07 Z" fill="#8581be" stroke="#8581be"/>
<path d="M355.22,660.07 A65.75,65.75 0 0 1 351.35,660.92 L350.23,654.97 A59.70,59.70 0 0 0 353.74,654.20 Z" fill="#3a5cac" stroke="#3a5cac"/>
<path d="M353.74,654.20 A59.70,59.70 0 0 1 350.23,654.97 L349.12,649.03 A53.65,53.65 0 0 0 352.27,648.33 Z" fill="#e7e3ef" stroke="#e7e3ef"/>
<path d="M352.27,648.33 A53.65,53.65 0 0 1 349.12,649.03 L348.00,643.08 A47.60,47.60 0 0 0 350.80,642.47 Z" fill="#8e86c1" stroke="#8e86c1"/>
<path d="M352.47,666.86 A71.80,71.80 0 0 1 348.20,667.53 L347.44,661.53 A65.75,65.75 0 0 0 351.35,660.92 Z" fill="#6f76b9" stroke="#6f76b9"/>
<path d="M351.35,660.92 A65.75,65.75 0 0 1 347.44,661.53 L346.68,655.53 A59.70,59.70 0 0 0 350.23,654.97 Z" fill="#807ebd" stroke="#807ebd"/>
<path d="M350.23,654.97 A59.70,59.70 0 0 1 346.68,655.53 L345.92,649.53 A53.65,53.65 0 0 0 349.12,649.03 Z" fill="#8d85c1" stroke="#8d85c1"/>
<path d="M349.12,649.03 A53.65,53.65 0 0 1 345.92,649.53 L345.17,643.52 A47.60,47.60 0 0 0 348.00,643.08 Z" fill="#f09883" stroke="#f09883"/>
<path d="M348.20,667.53 A71.80,71.80 0 0 1 343.90,667.95 L343.50,661.91 A65.75,65.75 0 0 0 347.44,661.53 Z" fill="#7378ba" stroke="#7378ba"/>
<path d="M347.44,661.53 A65.75,65.75 0 0 1 343.50,661.91 L343.10,655.87 A59.70,59.70 0 0 0 346.68,655.53 Z" fill="#8e87c1" stroke="#8e87c1"/>
<path d="M346.68,655.53 A59.70,59.70 0 0 1 343.10,655.87 L342.71,649.84 A53.65,53.65 0 0 0 345.92,649.53 Z" fill="#7c7cbc" stroke="#7c7cbc"/>
<path d="M345.92,649.53 A53.65,53.65 0 0 1 342.71,649.84 L342.31,643.80 A47.60,47.60 0 0 0 345.17,643.52 Z" fill="#ee7e6e" stroke="#ee7e6e"/>
<path d="M343.90,667.95 A71.80,71.80 0 0 1 339.58,668.10 L339.54,662.05 A65.75,65.75 0 0 0 343.50,661.91 Z" fill="#d9d4e8" stroke="#d9d4e8"/>
<path d="M343.50,661.91 A65.75,65.75 0 0 1 339.54,662.05 L339.51,656.00 A59.70,59.70 0 0 0 343.10,655.87 Z" fill="#f1eef4" stroke="#f1eef4"/>
<path d="M343.10,655.87 A59.70,59.70 0 0 1 339.51,656.00 L339.48,649.95 A53.65,53.65 0 0 0 342.71,649.84 Z" fill="#f09b87" stroke="#f09b87"/>
<path d="M342.71,649.84 A53.65,53.65 0 0 1 339.48,649.95 L339.45,643.90 A47.60,47.60 0 0 0 342.31,643.80 Z" fill="#f5e3e3" stroke="#f5e3e3"/>
<path d="M339.58,668.10 A71.80,71.80 0 0 1 335.25,667.99 L335.59,661.95 A65.75,65.75 0 0 0 339.54,662.05 Z" fill="#3a5cac" stroke="#3a5cac"/>
<path d="M339.54,662.05 A65.75,65.75 0 0 1 335.59,661.95 L335.92,655.91 A59.70,59.70 0 0 0 339.51,656.00 Z" fill="#928ac3" stroke="#928ac3"/>
<path d="M339.51,656.00 A59.70,59.70 0 0 1 335.92,655.91 L336.25,649.87 A53.65,53.65 0 0 0 339.48,649.95 Z" fill="#6c74b8" stroke="#6c74b8"/>
<path d="M339.48,649.95 A53.65,53.65 0 0 1 336.25,649.87 L336.58,643.83 A47.60,47.60 0 0 0 339.45,643.90 Z" fill="#ee7d6e" stroke="#ee7d6e"/>
<path d="M335.25,667.99 A71.80,71.80 0 0 1 330.95,667.62 L331.64,661.61 A65.75,65.75 0 0 0 335.59,661.95 Z" fill="#3a5cac" stroke="#3a5cac"/>
<path d="M335.59,661.95 A65.75,65.75 0 0 1 331.64,661.61 L332.34,655.60 A59.70,59.70 0 0 0 335.92,655.91 Z" fill="#7579ba" stroke="#7579ba"/>
<path d="M335.92,655.91 A59.70,59.70 0 0 1 332.34,655.60 L333.03,649.59 A53.65,53.65 0 0 0 336.25,649.87 Z" fill="#8b84c0" stroke="#8b84c0"/>
<path d="M336.25,649.87 A53.65,53.65 0 0 1 333.03,649.59 L333.73,643.58 A47.60,47.60 0 0 0 336.58,643.83 Z" fill="#f09c88" stroke="#f09c88"/>
<path d="M330.95,667.62 A71.80,71.80 0 0 1 326.67,667.00 L327.73,661.04 A65.75,65.75 0 0 0 331.64,661.61 Z" fill="#3a5cac" stroke="#3a5cac"/>
<path d="M331.64,661.61 A65.75,65.75 0 0 1 327.73,661.04 L328.78,655.08 A59.70,59.70 0 0 0 332.34,655.60 Z" fill="#e6202a" stroke="#e6202a"/>
<path d="M332.34,655.60 A59.70,59.70 0 0 1 328.78,655.08 L329.84,649.13 A53.65,53.65 0 0 0 333.03,649.59 Z" fill="#7a7bbc" stroke="#7a7bbc"/>
<path d="M333.03,649.59 A53.65,53.65 0 0 1 329.84,649.13 L330.89,643.17 A47.60,47.60 0 0 0 333.73,643.58 Z" fill="#f1a18e" stroke="#f1a18e"/>
<path d="M326.67,667.00 A71.80,71.80 0 0 1 322.44,666.12 L323.85,660.23 A65.75,65.75 0 0 0 327.73,661.04 Z" fill="#f4cec8" stroke="#f4cec8"/>
<path d="M327.73,661.04 A65.75,65.75 0 0 1 323.85,660.23 L325.26,654.35 A59.70,59.70 0 0 0 328.78,655.08 Z" fill="#3a5cac" stroke="#3a5cac"/>
<path d="M328.78,655.08 A59.70,59.70 0 0 1 325.26,654.35 L326.68,648.47 A53.65,53.65 0 0 0 329.84,649.13 Z" fill="#f1a18f" stroke="#f1a18f"/>
<path d="M329.84,649.13 A53.65,53.65 0 0 1 326.68,648.47 L328.09,642.58 A47.60,47.60 0 0 0 330.89,643.17 Z" fill="#e72930" stroke="#e72930"/>
<path d="M322.44,666.12 A71.80,71.80 0 0 1 318.27,664.98 L320.03,659.19 A65.75,65.75 0 0 0 323.85,660.23 Z" fill="#3f5ead" stroke="#3f5ead"/>
<path d="M323.85,660.23 A65.75,65.75 0 0 1 320.03,659.19 L321.80,653.41 A59.70,59.70 0 0 0 325.26,654.35 Z" fill="#4461ae" stroke="#4461ae"/>
<path d="M325.26,654.35 A59.70,59.70 0 0 1 321.80,653.41 L323.56,647.62 A53.65,53.65 0 0 0 326.68,648.47 Z" fill="#7076b9" stroke="#7076b9"/>
<path d="M326.68,648.47 A53.65,53.65 0 0 1 323.56,647.62 L325.32,641.83 A47.60,47.60 0 0 0 328.09,642.58 Z" fill="#f0937e" stroke="#f0937e"/>
<path d="M318.27,664.98 A71.80,71.80 0 0 1 314.17,663.60 L316.28,657.93 A65.75,65.75 0 0 0 320.03,659.19 Z" fill="#3a5cac" stroke="#3a5cac"/>
<path d="M320.03,659.19 A65.75,65.75 0 0 1 316.28,657.93 L318.39,652.26 A59.70,59.70 0 0 0 321.80,653.41 Z" fill="#3a5cac" stroke="#3a5cac"/>
<path d="M321.80,653.41 A59.70,59.70 0 0 1 318.39,652.26 L320.50,646.59 A53.65,53.65 0 0 0 323.56,647.62 Z" fill="#8983bf" stroke="#8983bf"/>
<path d="M323.56,647.62 A53.65,53.65 0 0 1 320.50,646.59 L322.61,640.91 A47.60,47.60 0 0 0 325.32,641.83 Z" fill="#ee7d6d" stroke="#ee7d6d"/>
<path d="M314.17,663.60 A71.80,71.80 0 0 1 310.17,661.97 L312.61,656.44 A65.75,65.75 0 0 0 316.28,657.93 Z" fill="#8f88c2" stroke="#8f88c2"/>
<path d="M316.28,657.93 A65.75,65.75 0 0 1 312.61,656.44 L315.06,650.90 A59.70,59.70 0 0 0 318.39,652.26 Z" fill="#4461ae" stroke="#4461ae"/>
<path d="M318.39,652.26 A59.70,59.70 0 0 1 315.06,650.90 L317.51,645.37 A53.65,53.65 0 0 0 320.50,646.59 Z" fill="#f4d7d3" stroke="#f4d7d3"/>
<path d="M320.50,646.59 A53.65,53.65 0 0 1 317.51,645.37 L319.95,639.84 A47.60,47.60 0 0 0 322.61,640.91 Z" fill="#e6202a" stroke="#e6202a"/>
<path d="M310.17,661.97 A71.80,71.80 0 0 1 306.27,660.10 L309.04,654.73 A65.75,65.75 0 0 0 312.61,656.44 Z" fill="#7e7dbd" stroke="#7e7dbd"/>
<path d="M312.61,656.44 A65.75,65.75 0 0 1 309.04,654.73 L311.82,649.35 A59.70,59.70 0 0 0 315.06,650.90 Z" fill="#7478ba" stroke="#7478ba"/>
<path d="M315.06,650.90 A59.70,59.70 0 0 1 311.82,649.35 L314.59,643.97 A53.65,53.65 0 0 0 317.51,645.37 Z" fill="#ee8171" stroke="#ee8171"/>
<path d="M317.51,645.37 A53.65,53.65 0 0 1 314.59,643.97 L317.37,638.60 A47.60,47.60 0 0 0 319.95,639.84 Z" fill="#eeeaf3" stroke="#eeeaf3"/>
<path d="M306.27,660.10 A71.80,71.80 0 0 1 302.49,658.01 L305.58,652.81 A65.75,65.75 0 0 0 309.04,654.73 Z" fill="#6f76b9" stroke="#6f76b9"/>
<path d="M309.04,654.73 A65.75,65.75 0 0 1 305.58,652.81 L308.68,647.61 A59.70,59.70 0 0 0 311.82,649.35 Z" fill="#7d7dbc" stroke="#7d7dbc"/>
<path d="M311.82,649.35 A59.70,59.70 0 0 1 308.68,647.61 L311.77,642.41 A53.65,53.65 0 0 0 314.59,643.97 Z" fill="#ed7568" stroke="#ed7568"/>
<path d="M314.59,643.97 A53.65,53.65 0 0 1 311.77,642.41 L314.86,637.21 A47.60,47.60 0 0 0 317.37,638.60 Z" fill="#e0dceb" stroke="#e0dceb"/>
<path d="M302.49,658.01 A71.80,71.80 0 0 1 298.84,655.68 L302.24,650.68 A65.75,65.75 0 0 0 305.58,652.81 Z" fill="#f5e9ea" stroke="#f5e9ea"/>
<path d="M305.58,652.81 A65.75,65.75 0 0 1 302.24,650.68 L305.64,645.68 A59.70,59.70 0 0 0 308.68,647.61 Z" fill="#7b7cbc" stroke="#7b7cbc"/>
<path d="M308.68,647.61 A59.70,59.70 0 0 1 305.64,645.68 L309.04,640.67 A53.65,53.65 0 0 0 311.77,642.41 Z" fill="#7f7ebd" stroke="#7f7ebd"/>
<path d="M311.77,642.41 A53.65,53.65 0 0 1 309.04,640.67 L312.44,635.67 A47.60,47.60 0 0 0 314.86,637.21 Z" fill="#f09d88" stroke="#f09d88"/>
<path d="M298.84,655.68 A71.80,71.80 0 0 1 295.34,653.15 L299.04,648.36 A65.75,65.75 0 0 0 302.24,650.68 Z" fill="#ed7064" stroke="#ed7064"/>
<path d="M302.24,650.68 A65.75,65.75 0 0 1 299.04,648.36 L302.73,643.57 A59.70,59.70 0 0 0 305.64,645.68 Z" fill="#7579ba" stroke="#7579ba"/>
<path d="M305.64,645.68 A59.70,59.70 0 0 1 302.73,643.57 L306.43,638.78 A53.65,53.65 0 0 0 309.04,640.67 Z" fill="#f5e7e8" stroke="#f5e7e8"/>
<path d="M309.04,640.67 A53.65,53.65 0 0 1 306.43,638.78 L310.12,633.99 A47.60,47.60 0 0 0 312.44,635.67 Z" fill="#7c7cbc" stroke="#7c7cbc"/>
<path d="M295.34,653.15 A71.80,71.80 0 0 1 292.00,650.41 L295.98,645.85 A65.75,65.75 0 0 0 299.04,648.36 Z" fill="#f1a290" stroke="#f1a290"/>
<path d="M299.04,648.36 A65.75,65.75 0 0 1 295.98,645.85 L299.95,641.29 A59.70,59.70 0 0 0 302.73,643.57 Z" fill="#817fbd" stroke="#817fbd"/>
<path d="M302.73,643.57 A59.70,59.70 0 0 1 299.95,641.29 L303.93,636.73 A53.65,53.65 0 0 0 306.43,638.78 Z" fill="#e1ddec" stroke="#e1ddec"/>
<path d="M306.43,638.78 A53.65,53.65 0 0 1 303.93,636.73 L307.91,632.17 A47.60,47.60 0 0 0 310.12,633.99 Z" fill="#6d75b9" stroke="#6d75b9"/>
<path d="M292.00,650.41 A71.80,71.80 0 0 1 288.83,647.47 L293.07,643.16 A65.75,65.75 0 0 0 295.98,645.85 Z" fill="#d9d4e8" stroke="#d9d4e8"/>
<path d="M295.98,645.85 A65.75,65.75 0 0 1 293.07,643.16 L297.32,638.84 A59.70,59.70 0 0 0 299.95,641.29 Z" fill="#3a5cac" stroke="#3a5cac"/>
<path d="M299.95,641.29 A59.70,59.70 0 0 1 297.32,638.84 L301.56,634.53 A53.65,53.65 0 0 0 303.93,636.73 Z" fill="#6f76b9" stroke="#6f76b9"/>
<path d="M303.93,636.73 A53.65,53.65 0 0 1 301.56,634.53 L305.81,630.22 A47.60,47.60 0 0 0 307.91,632.17 Z" fill="#f5e6e6" stroke="#f5e6e6"/>
<path d="M288.83,647.47 A71.80,71.80 0 0 1 285.84,644.34 L290.34,640.30 A65.75,65.75 0 0 0 293.07,643.16 Z" fill="#3a5cac" stroke="#3a5cac"/>
<path d="M293.07,643.16 A65.75,65.75 0 0 1 290.34,640.30 L294.83,636.25 A59.70,59.70 0 0 0 297.32,638.84 Z" fill="#4d65b1" stroke="#4d65b1"/>
<path d="M297.32,638.84 A59.70,59.70 0 0 1 294.83,636.25 L299.33,632.20 A53.65,53.65 0 0 0 301.56,634.53 Z" fill="#9189c3" stroke="#9189c3"/>
<path d="M301.56,634.53 A53.65,53.65 0 0 1 299.33,632.20 L303.83,628.15 A47.60,47.60 0 0 0 305.81,630.22 Z" fill="#4d65b1" stroke="#4d65b1"/>
<path d="M285.84,644.34 A71.80,71.80 0 0 1 283.05,641.05 L287.78,637.28 A65.75,65.75 0 0 0 290.34,640.30 Z" fill="#3a5cac" stroke="#3a5cac"/>
<path d="M290.34,640.30 A65.75,65.75 0 0 1 287.78,637.28 L292.51,633.50 A59.70,59.70 0 0 0 294.83,636.25 Z" fill="#3a5cac" stroke="#3a5cac"/>
<path d="M294.83,636.25 A59.70,59.70 0 0 1 292.51,633.50 L297.24,629.73 A53.65,53.65 0 0 0 299.33,632.20 Z" fill="#7579ba" stroke="#7579ba"/>
<path d="M299.33,632.20 A53.65,53.65 0 0 1 297.24,629.73 L301.97,625.96 A47.60,47.60 0 0 0 303.83,628.15 Z" fill="#3e5ead" stroke="#3e5ead"/>
<path d="M283.05,641.05 A71.80,71.80 0 0 1 280.46,637.59 L285.41,634.11 A65.75,65.75 0 0 0 287.78,637.28 Z" fill="#8480be" stroke="#8480be"/>
<path d="M287.78,637.28 A65.75,65.75 0 0 1 285.41,634.11 L290.36,630.63 A59.70,59.70 0 0 0 292.51,633.50 Z" fill="#8b83c0" stroke="#8b83c0"/>
<path d="M292.51,633.50 A59.70,59.70 0 0 1 290.36,630.63 L295.31,627.15 A53.65,53.65 0 0 0 297.24,629.73 Z" fill="#8782bf" stroke="#8782bf"/>
<path d="M297.24,629.73 A53.65,53.65 0 0 1 295.31,627.15 L300.26,623.67 A47.60,47.60 0 0 0 301.97,625.96 Z" fill="#7579ba" stroke="#7579ba"/>
<path d="M280.46,637.59 A71.80,71.80 0 0 1 278.08,633.98 L283.23,630.80 A65.75,65.75 0 0 0 285.41,634.11 Z" fill="#3a5cac" stroke="#3a5cac"/>
<path d="M285.41,634.11 A65.75,65.75 0 0 1 283.23,630.80 L288.38,627.63 A59.70,59.70 0 0 0 290.36,630.63 Z" fill="#807ebd" stroke="#807ebd"/>
<path d="M290.36,630.63 A59.70,59.70 0 0 1 288.38,627.63 L293.53,624.45 A53.65,53.65 0 0 0 295.31,627.15 Z" fill="#3a5cac" stroke="#3a5cac"/>
<path d="M295.31,627.15 A53.65,53.65 0 0 1 293.53,624.45 L298.68,621.28 A47.60,47.60 0 0 0 300.26,623.67 Z" fill="#f1a18f" stroke="#f1a18f"/>
<path d="M278.08,633.98 A71.80,71.80 0 0 1 275.92,630.23 L281.25,627.37 A65.75,65.75 0 0 0 283.23,630.80 Z" fill="#3a5cac" stroke="#3a5cac"/>
<path d="M283.23,630.80 A65.75,65.75 0 0 1 281.25,627.37 L286.59,624.51 A59.70,59.70 0 0 0 288.38,627.63 Z" fill="#3a5cac" stroke="#3a5cac"/>
<path d="M288.38,627.63 A59.70,59.70 0 0 1 286.59,624.51 L291.92,621.65 A53.65,53.65 0 0 0 293.53,624.45 Z" fill="#4360ae" stroke="#4360ae"/>
<path d="M293.53,624.45 A53.65,53.65 0 0 1 291.92,621.65 L297.25,618.79 A47.60,47.60 0 0 0 298.68,621.28 Z" fill="#3a5cac" stroke="#3a5cac"/>
<path d="M275.92,630.23 A71.80,71.80 0 0 1 274.00,626.36 L279.49,623.83 A65.75,65.75 0 0 0 281.25,627.37 Z" fill="#3a5cac" stroke="#3a5cac"/>
<path d="M281.25,627.37 A65.75,65.75 0 0 1 279.49,623.83 L284.98,621.29 A59.70,59.70 0 0 0 286.59,624.51 Z" fill="#3a5cac" stroke="#3a5cac"/>
<path d="M286.59,624.51 A59.70,59.70 0 0 1 284.98,621.29 L290.48,618.76 A53.65,53.65 0 0 0 291.92,621.65 Z" fill="#3a5cac" stroke="#3a5cac"/>
<path d="M291.92,621.65 A53.65,53.65 0 0 1 290.48,618.76 L295.97,616.23 A47.60,47.60 0 0 0 297.25,618.79 Z" fill="#3a5cac" stroke="#3a5cac"/>
<path d="M274.00,626.36 A71.80,71.80 0 0 1 272.30,622.38 L277.94,620.18 A65.75,65.75 0 0 0 279.49,623.83 Z" fill="#3b5cac" stroke="#3b5cac"/>
<path d="M279.49,623.83 A65.75,65.75 0 0 1 277.94,620.18 L283.58,617.99 A59.70,59.70 0 0 0 284.98,621.29 Z" fill="#3a5cac" stroke="#3a5cac"/>
<path d="M284.98,621.29 A59.70,59.70 0 0 1 283.58,617.99 L289.21,615.79 A53.65,53.65 0 0 0 290.48,618.76 Z" fill="#777abb" stroke="#777abb"/>
<path d="M290.48,618.76 A53.65,53.65 0 0 1 289.21,615.79 L294.85,613.59 A47.60,47.60 0 0 0 295.97,616.23 Z" fill="#405fad" stroke="#405fad"/>
<path d="M272.30,622.38 A71.80,71.80 0 0 1 270.86,618.31 L276.62,616.45 A65.75,65.75 0 0 0 277.94,620.18 Z" fill="#7478ba" stroke="#7478ba"/>
<path d="M277.94,620.18 A65.75,65.75 0 0 1 276.62,616.45 L282.37,614.60 A59.70,59.70 0 0 0 283.58,617.99 Z" fill="#9088c2" stroke="#9088c2"/>
<path d="M283.58,617.99 A59.70,59.70 0 0 1 282.37,614.60 L288.13,612.75 A53.65,53.65 0 0 0 289.21,615.79 Z" fill="#e6202a" stroke="#e6202a"/>
<path d="M289.21,615.79 A53.65,53.65 0 0 1 288.13,612.75 L293.89,610.89 A47.60,47.60 0 0 0 294.85,613.59 Z" fill="#8882bf" stroke="#8882bf"/>
<path d="M270.86,618.31 A71.80,71.80 0 0 1 269.66,614.16 L275.52,612.65 A65.75,65.75 0 0 0 276.62,616.45 Z" fill="#7c7cbc" stroke="#7c7cbc"/>
<path d="M276.62,616.45 A65.75,65.75 0 0 1 275.52,612.65 L281.38,611.15 A59.70,59.70 0 0 0 282.37,614.60 Z" fill="#7f7ebd" stroke="#7f7ebd"/>
<path d="M282.37,614.60 A59.70,59.70 0 0 1 281.38,611.15 L287.24,609.64 A53.65,53.65 0 0 0 288.13,612.75 Z" fill="#e6202a" stroke="#e6202a"/>
<path d="M288.13,612.75 A53.65,53.65 0 0 1 287.24,609.64 L293.10,608.14 A47.60,47.60 0 0 0 293.89,610.89 Z" fill="#6d75b8" stroke="#6d75b8"/>
<path d="M269.66,614.16 A71.80,71.80 0 0 1 268.71,609.94 L274.65,608.79 A65.75,65.75 0 0 0 275.52,612.65 Z" fill="#7c7cbc" stroke="#7c7cbc"/>
<path d="M275.52,612.65 A65.75,65.75 0 0 1 274.65,608.79 L280.59,607.64 A59.70,59.70 0 0 0 281.38,611.15 Z" fill="#ef8976" stroke="#ef8976"/>
<path d="M281.38,611.15 A59.70,59.70 0 0 1 280.59,607.64 L286.53,606.49 A53.65,53.65 0 0 0 287.24,609.64 Z" fill="#e4e0ed" stroke="#e4e0ed"/>
<path d="M287.24,609.64 A53.65,53.65 0 0 1 286.53,606.49 L292.47,605.34 A47.60,47.60 0 0 0 293.10,608.14 Z" fill="#f19f8b" stroke="#f19f8b"/>
<path d="M268.71,609.94 A71.80,71.80 0 0 1 268.01,605.67 L274.01,604.88 A65.75,65.75 0 0 0 274.65,608.79 Z" fill="#4662af" stroke="#4662af"/>
<path d="M274.65,608.79 A65.75,65.75 0 0 1 274.01,604.88 L280.01,604.09 A59.70,59.70 0 0 0 280.59,607.64 Z" fill="#7a7bbc" stroke="#7a7bbc"/>
<path d="M280.59,607.64 A59.70,59.70 0 0 1 280.01,604.09 L286.01,603.30 A53.65,53.65 0 0 0 286.53,606.49 Z" fill="#f6edef" stroke="#f6edef"/>
<path d="M286.53,606.49 A53.65,53.65 0 0 1 286.01,603.30 L292.01,602.51 A47.60,47.60 0 0 0 292.47,605.34 Z" fill="#e6202a" stroke="#e6202a"/>
<path d="M268.01,605.67 A71.80,71.80 0 0 1 267.58,601.37 L273.61,600.94 A65.75,65.75 0 0 0 274.01,604.88 Z" fill="#3e5ead" stroke="#3e5ead"/>
<path d="M274.01,604.88 A65.75,65.75 0 0 1 273.61,600.94 L279.65,600.52 A59.70,59.70 0 0 0 280.01,604.09 Z" fill="#777abb" stroke="#777abb"/>
<path d="M280.01,604.09 A59.70,59.70 0 0 1 279.65,600.52 L285.68,600.09 A53.65,53.65 0 0 0 286.01,603.30 Z" fill="#f4cfc9" stroke="#f4cfc9"/>
<path d="M286.01,603.30 A53.65,53.65 0 0 1 285.68,600.09 L291.72,599.66 A47.60,47.60 0 0 0 292.01,602.51 Z" fill="#e7272f" stroke="#e7272f"/>
<path d="M267.58,601.37 A71.80,71.80 0 0 1 267.40,597.05 L273.45,596.99 A65.75,65.75 0 0 0 273.61,600.94 Z" fill="#d8d3e7" stroke="#d8d3e7"/>
<path d="M273.61,600.94 A65.75,65.75 0 0 1 273.45,596.99 L279.50,596.93 A59.70,59.70 0 0 0 279.65,600.52 Z" fill="#f5e2e2" stroke="#f5e2e2"/>
<path d="M279.65,600.52 A59.70,59.70 0 0 1 279.50,596.93 L285.55,596.86 A53.65,53.65 0 0 0 285.68,600.09 Z" fill="#6f76b9" stroke="#6f76b9"/>
<path d="M285.68,600.09 A53.65,53.65 0 0 1 285.55,596.86 L291.60,596.80 A47.60,47.60 0 0 0 291.72,599.66 Z" fill="#3a5cac" stroke="#3a5cac"/>
<path d="M267.40,597.05 A71.80,71.80 0 0 1 267.49,592.73 L273.53,593.03 A65.75,65.75 0 0 0 273.45,596.99 Z" fill="#8c84c0" stroke="#8c84c0"/>
<path d="M273.45,596.99 A65.75,65.75 0 0 1 273.53,593.03 L279.57,593.33 A59.70,59.70 0 0 0 279.50,596.93 Z" fill="#f5e3e3" stroke="#f5e3e3"/>
<path d="M279.50,596.93 A59.70,59.70 0 0 1 279.57,593.33 L285.62,593.63 A53.65,53.65 0 0 0 285.55,596.86 Z" fill="#f1a290" stroke="#f1a290"/>
<path d="M285.55,596.86 A53.65,53.65 0 0 1 285.62,593.63 L291.66,593.93 A47.60,47.60 0 0 0 291.60,596.80 Z" fill="#e6232c" stroke="#e6232c"/>
<path d="M267.49,592.73 A71.80,71.80 0 0 1 267.83,588.42 L273.85,589.08 A65.75,65.75 0 0 0 273.53,593.03 Z" fill="#7b7cbc" stroke="#7b7cbc"/>
<path d="M273.53,593.03 A65.75,65.75 0 0 1 273.85,589.08 L279.86,589.75 A59.70,59.70 0 0 0 279.57,593.33 Z" fill="#f6eff2" stroke="#f6eff2"/>
<path d="M279.57,593.33 A59.70,59.70 0 0 1 279.86,589.75 L285.87,590.41 A53.65,53.65 0 0 0 285.62,593.63 Z" fill="#f09a85" stroke="#f09a85"/>
<path d="M285.62,593.63 A53.65,53.65 0 0 1 285.87,590.41 L291.89,591.08 A47.60,47.60 0 0 0 291.66,593.93 Z" fill="#e6202a" stroke="#e6202a"/>
<path d="M267.83,588.42 A71.80,71.80 0 0 1 268.44,584.14 L274.40,585.17 A65.75,65.75 0 0 0 273.85,589.08 Z" fill="#6e75b9" stroke="#6e75b9"/>
<path d="M273.85,589.08 A65.75,65.75 0 0 1 274.40,585.17 L280.36,586.19 A59.70,59.70 0 0 0 279.86,589.75 Z" fill="#3a5cac" stroke="#3a5cac"/>
<path d="M279.86,589.75 A59.70,59.70 0 0 1 280.36,586.19 L286.32,587.21 A53.65,53.65 0 0 0 285.87,590.41 Z" fill="#f0917d" stroke="#f0917d"/>
<path d="M285.87,590.41 A53.65,53.65 0 0 1 286.32,587.21 L292.29,588.24 A47.60,47.60 0 0 0 291.89,591.08 Z" fill="#4b64b0" stroke="#4b64b0"/>
<path d="M268.44,584.14 A71.80,71.80 0 0 1 269.30,579.90 L275.19,581.29 A65.75,65.75 0 0 0 274.40,585.17 Z" fill="#dcd8e9" stroke="#dcd8e9"/>
<path d="M274.40,585.17 A65.75,65.75 0 0 1 275.19,581.29 L281.08,582.67 A59.70,59.70 0 0 0 280.36,586.19 Z" fill="#f5dedc" stroke="#f5dedc"/>
<path d="M280.36,586.19 A59.70,59.70 0 0 1 281.08,582.67 L286.97,584.05 A53.65,53.65 0 0 0 286.32,587.21 Z" fill="#e4e1ee" stroke="#e4e1ee"/>
<path d="M286.32,587.21 A53.65,53.65 0 0 1 286.97,584.05 L292.86,585.43 A47.60,47.60 0 0 0 292.29,588.24 Z" fill="#ef8674" stroke="#ef8674"/>
<path d="M269.30,579.90 A71.80,71.80 0 0 1 270.41,575.73 L276.21,577.46 A65.75,65.75 0 0 0 275.19,581.29 Z" fill="#f3f0f6" stroke="#f3f0f6"/>
<path d="M275.19,581.29 A65.75,65.75 0 0 1 276.21,577.46 L282.00,579.19 A59.70,59.70 0 0 0 281.08,582.67 Z" fill="#f6f1f4" stroke="#f6f1f4"/>
<path d="M281.08,582.67 A59.70,59.70 0 0 1 282.00,579.19 L287.80,580.93 A53.65,53.65 0 0 0 286.97,584.05 Z" fill="#f5dedc" stroke="#f5dedc"/>
<path d="M286.97,584.05 A53.65,53.65 0 0 1 287.80,580.93 L293.60,582.66 A47.60,47.60 0 0 0 292.86,585.43 Z" fill="#f0907c" stroke="#f0907c"/>
<path d="M270.41,575.73 A71.80,71.80 0 0 1 271.77,571.63 L277.45,573.70 A65.75,65.75 0 0 0 276.21,577.46 Z" fill="#dfdbeb" stroke="#dfdbeb"/>
<path d="M276.21,577.46 A65.75,65.75 0 0 1 277.45,573.70 L283.14,575.78 A59.70,59.70 0 0 0 282.00,579.19 Z" fill="#e8353a" stroke="#e8353a"/>
<path d="M282.00,579.19 A59.70,59.70 0 0 1 283.14,575.78 L288.82,577.86 A53.65,53.65 0 0 0 287.80,580.93 Z" fill="#dcd8ea" stroke="#dcd8ea"/>
<path d="M287.80,580.93 A53.65,53.65 0 0 1 288.82,577.86 L294.50,579.94 A47.60,47.60 0 0 0 293.60,582.66 Z" fill="#e6202a" stroke="#e6202a"/>
<path d="M271.77,571.63 A71.80,71.80 0 0 1 273.38,567.61 L278.93,570.03 A65.75,65.75 0 0 0 277.45,573.70 Z" fill="#8480be" stroke="#8480be"/>
<path d="M277.45,573.70 A65.75,65.75 0 0 1 278.93,570.03 L284.47,572.45 A59.70,59.70 0 0 0 283.14,575.78 Z" fill="#f4d0cb" stroke="#f4d0cb"/>
<path d="M283.14,575.78 A59.70,59.70 0 0 1 284.47,572.45 L290.02,574.86 A53.65,53.65 0 0 0 288.82,577.86 Z" fill="#f5e2e1" stroke="#f5e2e1"/>
<path d="M288.82,577.86 A53.65,53.65 0 0 1 290.02,574.86 L295.56,577.28 A47.60,47.60 0 0 0 294.50,579.94 Z" fill="#e83b3e" stroke="#e83b3e"/>
<path d="M273.38,567.61 A71.80,71.80 0 0 1 275.23,563.70 L280.62,566.45 A65.75,65.75 0 0 0 278.93,570.03 Z" fill="#f5e4e4" stroke="#f5e4e4"/>
<path d="M278.93,570.03 A65.75,65.75 0 0 1 280.62,566.45 L286.01,569.20 A59.70,59.70 0 0 0 284.47,572.45 Z" fill="#8a83bf" stroke="#8a83bf"/>
<path d="M284.47,572.45 A59.70,59.70 0 0 1 286.01,569.20 L291.40,571.94 A53.65,53.65 0 0 0 290.02,574.86 Z" fill="#ee7e6e" stroke="#ee7e6e"/>
<path d="M290.02,574.86 A53.65,53.65 0 0 1 291.40,571.94 L296.79,574.69 A47.60,47.60 0 0 0 295.56,577.28 Z" fill="#ef8a77" stroke="#ef8a77"/>
<path d="M275.23,563.70 A71.80,71.80 0 0 1 277.30,559.91 L282.52,562.98 A65.75,65.75 0 0 0 280.62,566.45 Z" fill="#f1edf4" stroke="#f1edf4"/>
<path d="M280.62,566.45 A65.75,65.75 0 0 1 282.52,562.98 L287.73,566.04 A59.70,59.70 0 0 0 286.01,569.20 Z" fill="#7d7dbc" stroke="#7d7dbc"/>
<path d="M286.01,569.20 A59.70,59.70 0 0 1 287.73,566.04 L292.95,569.11 A53.65,53.65 0 0 0 291.40,571.94 Z" fill="#ee796b" stroke="#ee796b"/>
<path d="M291.40,571.94 A53.65,53.65 0 0 1 292.95,569.11 L298.17,572.18 A47.60,47.60 0 0 0 296.79,574.69 Z" fill="#f09781" stroke="#f09781"/>
<path d="M277.30,559.91 A71.80,71.80 0 0 1 279.61,556.25 L284.63,559.63 A65.75,65.75 0 0 0 282.52,562.98 Z" fill="#807ebd" stroke="#807ebd"/>
<path d="M282.52,562.98 A65.75,65.75 0 0 1 284.63,559.63 L289.65,563.00 A59.70,59.70 0 0 0 287.73,566.04 Z" fill="#3a5cac" stroke="#3a5cac"/>
<path d="M287.73,566.04 A59.70,59.70 0 0 1 289.65,563.00 L294.67,566.38 A53.65,53.65 0 0 0 292.95,569.11 Z" fill="#e6202a" stroke="#e6202a"/>
<path d="M292.95,569.11 A53.65,53.65 0 0 1 294.67,566.38 L299.69,569.75 A47.60,47.60 0 0 0 298.17,572.18 Z" fill="#e6202a" stroke="#e6202a"/>
<path d="M279.61,556.25 A71.80,71.80 0 0 1 282.12,552.74 L286.93,556.41 A65.75,65.75 0 0 0 284.63,559.63 Z" fill="#9189c3" stroke="#9189c3"/>
<path d="M284.63,559.63 A65.75,65.75 0 0 1 286.93,556.41 L291.74,560.08 A59.70,59.70 0 0 0 289.65,563.00 Z" fill="#8c84c0" stroke="#8c84c0"/>
<path d="M289.65,563.00 A59.70,59.70 0 0 1 291.74,560.08 L296.55,563.75 A53.65,53.65 0 0 0 294.67,566.38 Z" fill="#e72c32" stroke="#e72c32"/>
<path d="M294.67,566.38 A53.65,53.65 0 0 1 296.55,563.75 L301.36,567.42 A47.60,47.60 0 0 0 299.69,569.75 Z" fill="#e7e4ef" stroke="#e7e4ef"/>
<path d="M282.12,552.74 A71.80,71.80 0 0 1 284.85,549.38 L289.43,553.34 A65.75,65.75 0 0 0 286.93,556.41 Z" fill="#7e7dbd" stroke="#7e7dbd"/>
<path d="M286.93,556.41 A65.75,65.75 0 0 1 289.43,553.34 L294.01,557.29 A59.70,59.70 0 0 0 291.74,560.08 Z" fill="#7579ba" stroke="#7579ba"/>
<path d="M291.74,560.08 A59.70,59.70 0 0 1 294.01,557.29 L298.59,561.24 A53.65,53.65 0 0 0 296.55,563.75 Z" fill="#e6242d" stroke="#e6242d"/>
<path d="M296.55,563.75 A53.65,53.65 0 0 1 298.59,561.24 L303.17,565.20 A47.60,47.60 0 0 0 301.36,567.42 Z" fill="#f5e3e2" stroke="#f5e3e2"/>
<path d="M284.85,549.38 A71.80,71.80 0 0 1 287.77,546.20 L292.10,550.42 A65.75,65.75 0 0 0 289.43,553.34 Z" fill="#ed7266" stroke="#ed7266"/>
<path d="M289.43,553.34 A65.75,65.75 0 0 1 292.10,550.42 L296.44,554.64 A59.70,59.70 0 0 0 294.01,557.29 Z" fill="#ef8574" stroke="#ef8574"/>
<path d="M294.01,557.29 A59.70,59.70 0 0 1 296.44,554.64 L300.77,558.86 A53.65,53.65 0 0 0 298.59,561.24 Z" fill="#ed786a" stroke="#ed786a"/>
<path d="M298.59,561.24 A53.65,53.65 0 0 1 300.77,558.86 L305.10,563.09 A47.60,47.60 0 0 0 303.17,565.20 Z" fill="#f19f8b" stroke="#f19f8b"/>
<path d="M287.77,546.20 A71.80,71.80 0 0 1 290.88,543.19 L294.95,547.67 A65.75,65.75 0 0 0 292.10,550.42 Z" fill="#797bbb" stroke="#797bbb"/>
<path d="M292.10,550.42 A65.75,65.75 0 0 1 294.95,547.67 L299.02,552.14 A59.70,59.70 0 0 0 296.44,554.64 Z" fill="#e6202a" stroke="#e6202a"/>
<path d="M296.44,554.64 A59.70,59.70 0 0 1 299.02,552.14 L303.09,556.62 A53.65,53.65 0 0 0 300.77,558.86 Z" fill="#7177b9" stroke="#7177b9"/>
<path d="M300.77,558.86 A53.65,53.65 0 0 1 303.09,556.62 L307.16,561.09 A47.60,47.60 0 0 0 305.10,563.09 Z" fill="#e6252d" stroke="#e6252d"/>
<path d="M290.88,543.19 A71.80,71.80 0 0 1 294.16,540.38 L297.96,545.09 A65.75,65.75 0 0 0 294.95,547.67 Z" fill="#6e75b9" stroke="#6e75b9"/>
<path d="M294.95,547.67 A65.75,65.75 0 0 1 297.96,545.09 L301.75,549.81 A59.70,59.70 0 0 0 299.02,552.14 Z" fill="#e8373b" stroke="#e8373b"/>
<path d="M299.02,552.14 A59.70,59.70 0 0 1 301.75,549.81 L305.55,554.52 A53.65,53.65 0 0 0 303.09,556.62 Z" fill="#8f87c2" stroke="#8f87c2"/>
<path d="M303.09,556.62 A53.65,53.65 0 0 1 305.55,554.52 L309.34,559.23 A47.60,47.60 0 0 0 307.16,561.09 Z" fill="#e6202a" stroke="#e6202a"/>
<path d="M294.16,540.38 A71.80,71.80 0 0 1 297.61,537.77 L301.11,542.71 A65.75,65.75 0 0 0 297.96,545.09 Z" fill="#f5e5e5" stroke="#f5e5e5"/>
<path d="M297.96,545.09 A65.75,65.75 0 0 1 301.11,542.71 L304.62,547.64 A59.70,59.70 0 0 0 301.75,549.81 Z" fill="#7076b9" stroke="#7076b9"/>
<path d="M301.75,549.81 A59.70,59.70 0 0 1 304.62,547.64 L308.12,552.57 A53.65,53.65 0 0 0 305.55,554.52 Z" fill="#e72c32" stroke="#e72c32"/>
<path d="M305.55,554.52 A53.65,53.65 0 0 1 308.12,552.57 L311.63,557.50 A47.60,47.60 0 0 0 309.34,559.23 Z" fill="#3a5cac" stroke="#3a5cac"/>
<path d="M297.61,537.77 A71.80,71.80 0 0 1 301.20,535.38 L304.41,540.51 A65.75,65.75 0 0 0 301.11,542.71 Z" fill="#ee8170" stroke="#ee8170"/>
<path d="M301.11,542.71 A65.75,65.75 0 0 1 304.41,540.51 L307.61,545.64 A59.70,59.70 0 0 0 304.62,547.64 Z" fill="#f5e3e2" stroke="#f5e3e2"/>
<path d="M304.62,547.64 A59.70,59.70 0 0 1 307.61,545.64 L310.81,550.78 A53.65,53.65 0 0 0 308.12,552.57 Z" fill="#ef8e7a" stroke="#ef8e7a"/>
<path d="M308.12,552.57 A53.65,53.65 0 0 1 310.81,550.78 L314.01,555.91 A47.60,47.60 0 0 0 311.63,557.50 Z" fill="#f6edef" stroke="#f6edef"/>
<path d="M301.20,535.38 A71.80,71.80 0 0 1 304.94,533.20 L307.83,538.52 A65.75,65.75 0 0 0 304.41,540.51 Z" fill="#f19e8a" stroke="#f19e8a"/>
<path d="M304.41,540.51 A65.75,65.75 0 0 1 307.83,538.52 L310.71,543.83 A59.70,59.70 0 0 0 307.61,545.64 Z" fill="#f6ecee" stroke="#f6ecee"/>
<path d="M307.61,545.64 A59.70,59.70 0 0 1 310.71,543.83 L313.60,549.15 A53.65,53.65 0 0 0 310.81,550.78 Z" fill="#ed7165" stroke="#ed7165"/>
<path d="M310.81,550.78 A53.65,53.65 0 0 1 313.60,549.15 L316.49,554.47 A47.60,47.60 0 0 0 314.01,555.91 Z" fill="#f5dedc" stroke="#f5dedc"/>
<path d="M304.94,533.20 A71.80,71.80 0 0 1 308.80,531.25 L311.36,536.73 A65.75,65.75 0 0 0 307.83,538.52 Z" fill="#e8373b" stroke="#e8373b"/>
<path d="M307.83,538.52 A65.75,65.75 0 0 1 311.36,536.73 L313.92,542.22 A59.70,59.70 0 0 0 310.71,543.83 Z" fill="#ef8977" stroke="#ef8977"/>
<path d="M310.71,543.83 A59.70,59.70 0 0 1 313.92,542.22 L316.48,547.70 A53.65,53.65 0 0 0 313.60,549.15 Z" fill="#4260ae" stroke="#4260ae"/>
<path d="M313.60,549.15 A53.65,53.65 0 0 1 316.48,547.70 L319.05,553.18 A47.60,47.60 0 0 0 316.49,554.47 Z" fill="#e72e34" stroke="#e72e34"/>
<path d="M308.80,531.25 A71.80,71.80 0 0 1 312.77,529.54 L315.00,535.17 A65.75,65.75 0 0 0 311.36,536.73 Z" fill="#ed7467" stroke="#ed7467"/>
<path d="M311.36,536.73 A65.75,65.75 0 0 1 315.00,535.17 L317.22,540.79 A59.70,59.70 0 0 0 313.92,542.22 Z" fill="#ef8c79" stroke="#ef8c79"/>
<path d="M313.92,542.22 A59.70,59.70 0 0 1 317.22,540.79 L319.45,546.42 A53.65,53.65 0 0 0 316.48,547.70 Z" fill="#e6202a" stroke="#e6202a"/>
<path d="M316.48,547.70 A53.65,53.65 0 0 1 319.45,546.42 L321.68,552.04 A47.60,47.60 0 0 0 319.05,553.18 Z" fill="#e6252e" stroke="#e6252e"/>
<path d="M312.77,529.54 A71.80,71.80 0 0 1 316.83,528.07 L318.72,533.82 A65.75,65.75 0 0 0 315.00,535.17 Z" fill="#ed6e63" stroke="#ed6e63"/>
<path d="M315.00,535.17 A65.75,65.75 0 0 1 318.72,533.82 L320.60,539.57 A59.70,59.70 0 0 0 317.22,540.79 Z" fill="#8a83c0" stroke="#8a83c0"/>
<path d="M317.22,540.79 A59.70,59.70 0 0 1 320.60,539.57 L322.49,545.32 A53.65,53.65 0 0 0 319.45,546.42 Z" fill="#f5eaeb" stroke="#f5eaeb"/>
<path d="M319.45,546.42 A53.65,53.65 0 0 1 322.49,545.32 L324.37,551.07 A47.60,47.60 0 0 0 321.68,552.04 Z" fill="#7177b9" stroke="#7177b9"/>
<path d="M316.83,528.07 A71.80,71.80 0 0 1 320.98,526.85 L322.52,532.70 A65.75,65.75 0 0 0 318.72,533.82 Z" fill="#ef8e7a" stroke="#ef8e7a"/>
<path d="M318.72,533.82 A65.75,65.75 0 0 1 322.52,532.70 L324.05,538.55 A59.70,59.70 0 0 0 320.60,539.57 Z" fill="#6c75b8" stroke="#6c75b8"/>
<path d="M320.60,539.57 A59.70,59.70 0 0 1 324.05,538.55 L325.59,544.41 A53.65,53.65 0 0 0 322.49,545.32 Z" fill="#f5e8e9" stroke="#f5e8e9"/>
<path d="M322.49,545.32 A53.65,53.65 0 0 1 325.59,544.41 L327.12,550.26 A47.60,47.60 0 0 0 324.37,551.07 Z" fill="#8e87c1" stroke="#8e87c1"/>
<path d="M320.98,526.85 A71.80,71.80 0 0 1 325.19,525.88 L326.37,531.81 A65.75,65.75 0 0 0 322.52,532.70 Z" fill="#f09b86" stroke="#f09b86"/>
<path d="M322.52,532.70 A65.75,65.75 0 0 1 326.37,531.81 L327.55,537.75 A59.70,59.70 0 0 0 324.05,538.55 Z" fill="#f6eef0" stroke="#f6eef0"/>
<path d="M324.05,538.55 A59.70,59.70 0 0 1 327.55,537.75 L328.73,543.68 A53.65,53.65 0 0 0 325.59,544.41 Z" fill="#ef8b78" stroke="#ef8b78"/>
<path d="M325.59,544.41 A53.65,53.65 0 0 1 328.73,543.68 L329.91,549.61 A47.60,47.60 0 0 0 327.12,550.26 Z" fill="#f4f1f6" stroke="#f4f1f6"/>
<path d="M325.19,525.88 A71.80,71.80 0 0 1 329.46,525.16 L330.28,531.16 A65.75,65.75 0 0 0 326.37,531.81 Z" fill="#e6202a" stroke="#e6202a"/>
<path d="M326.37,531.81 A65.75,65.75 0 0 1 330.28,531.16 L331.10,537.15 A59.70,59.70 0 0 0 327.55,537.75 Z" fill="#f4d2cd" stroke="#f4d2cd"/>
<path d="M327.55,537.75 A59.70,59.70 0 0 1 331.10,537.15 L331.92,543.15 A53.65,53.65 0 0 0 328.73,543.68 Z" fill="#f5e1e0" stroke="#f5e1e0"/>
<path d="M328.73,543.68 A53.65,53.65 0 0 1 331.92,543.15 L332.74,549.14 A47.60,47.60 0 0 0 329.91,549.61 Z" fill="#7e7dbd" stroke="#7e7dbd"/>
<path d="M329.46,525.16 A71.80,71.80 0 0 1 333.75,524.71 L334.21,530.74 A65.75,65.75 0 0 0 330.28,531.16 Z" fill="#938bc3" stroke="#938bc3"/>
<path d="M330.28,531.16 A65.75,65.75 0 0 1 334.21,530.74 L334.67,536.77 A59.70,59.70 0 0 0 331.10,537.15 Z" fill="#e72a31" stroke="#e72a31"/>
<path d="M331.10,537.15 A59.70,59.70 0 0 1 334.67,536.77 L335.13,542.80 A53.65,53.65 0 0 0 331.92,543.15 Z" fill="#e6202a" stroke="#e6202a"/>
<path d="M331.92,543.15 A53.65,53.65 0 0 1 335.13,542.80 L335.59,548.84 A47.60,47.60 0 0 0 332.74,549.14 Z" fill="#e6202a" stroke="#e6202a"/>
<path d="M333.75,524.71 A71.80,71.80 0 0 1 338.07,524.51 L338.17,530.56 A65.75,65.75 0 0 0 334.21,530.74 Z" fill="#ee7b6d" stroke="#ee7b6d"/>
<path d="M334.21,530.74 A65.75,65.75 0 0 1 338.17,530.56 L338.26,536.61 A59.70,59.70 0 0 0 334.67,536.77 Z" fill="#e6202a" stroke="#e6202a"/>
<path d="M334.67,536.77 A59.70,59.70 0 0 1 338.26,536.61 L338.36,542.66 A53.65,53.65 0 0 0 335.13,542.80 Z" fill="#3a5cac" stroke="#3a5cac"/>
<path d="M335.13,542.80 A53.65,53.65 0 0 1 338.36,542.66 L338.45,548.71 A47.60,47.60 0 0 0 335.59,548.84 Z" fill="#e6202a" stroke="#e6202a"/>
<path d="M338.07,524.51 A71.80,71.80 0 0 1 342.39,524.57 L342.13,530.62 A65.75,65.75 0 0 0 338.17,530.56 Z" fill="#e6262e" stroke="#e6262e"/>
<path d="M338.17,530.56 A65.75,65.75 0 0 1 342.13,530.62 L341.86,536.66 A59.70,59.70 0 0 0 338.26,536.61 Z" fill="#e6202a" stroke="#e6202a"/>
<path d="M338.26,536.61 A59.70,59.70 0 0 1 341.86,536.66 L341.59,542.70 A53.65,53.65 0 0 0 338.36,542.66 Z" fill="#4d65b1" stroke="#4d65b1"/>
<path d="M338.36,542.66 A53.65,53.65 0 0 1 341.59,542.70 L341.32,548.75 A47.60,47.60 0 0 0 338.45,548.71 Z" fill="#e6202a" stroke="#e6202a"/>
<path d="M342.39,524.57 A71.80,71.80 0 0 1 346.71,524.89 L346.07,530.91 A65.75,65.75 0 0 0 342.13,530.62 Z" fill="#e83c3e" stroke="#e83c3e"/>
<path d="M342.13,530.62 A65.75,65.75 0 0 1 346.07,530.91 L345.44,536.93 A59.70,59.70 0 0 0 341.86,536.66 Z" fill="#e6222b" stroke="#e6222b"/>
<path d="M341.86,536.66 A59.70,59.70 0 0 1 345.44,536.93 L344.81,542.94 A53.65,53.65 0 0 0 341.59,542.70 Z" fill="#4260ae" stroke="#4260ae"/>
<path d="M341.59,542.70 A53.65,53.65 0 0 1 344.81,542.94 L344.18,548.96 A47.60,47.60 0 0 0 341.32,548.75 Z" fill="#e6202a" stroke="#e6202a"/>
<path d="M346.71,524.89 A71.80,71.80 0 0 1 350.99,525.47 L350.00,531.44 A65.75,65.75 0 0 0 346.07,530.91 Z" fill="#8580be" stroke="#8580be"/>
<path d="M346.07,530.91 A65.75,65.75 0 0 1 350.00,531.44 L349.00,537.41 A59.70,59.70 0 0 0 345.44,536.93 Z" fill="#ed786a" stroke="#ed786a"/>
<path d="M345.44,536.93 A59.70,59.70 0 0 1 349.00,537.41 L348.01,543.38 A53.65,53.65 0 0 0 344.81,542.94 Z" fill="#6c74b8" stroke="#6c74b8"/>
<path d="M344.81,542.94 A53.65,53.65 0 0 1 348.01,543.38 L347.02,549.35 A47.60,47.60 0 0 0 344.18,548.96 Z" fill="#e6202a" stroke="#e6202a"/>
<path d="M350.99,525.47 A71.80,71.80 0 0 1 355.23,526.31 L353.88,532.21 A65.75,65.75 0 0 0 350.00,531.44 Z" fill="#8882bf" stroke="#8882bf"/>
<path d="M350.00,531.44 A65.75,65.75 0 0 1 353.88,532.21 L352.53,538.11 A59.70,59.70 0 0 0 349.00,537.41 Z" fill="#3e5ead" stroke="#3e5ead"/>
<path d="M349.00,537.41 A59.70,59.70 0 0 1 352.53,538.11 L351.18,544.00 A53.65,53.65 0 0 0 348.01,543.38 Z" fill="#9088c2" stroke="#9088c2"/>
<path d="M348.01,543.38 A53.65,53.65 0 0 1 351.18,544.00 L349.83,549.90 A47.60,47.60 0 0 0 347.02,549.35 Z" fill="#4963b0" stroke="#4963b0"/>
<path d="M355.23,526.31 A71.80,71.80 0 0 1 359.41,527.40 L357.71,533.21 A65.75,65.75 0 0 0 353.88,532.21 Z" fill="#6f76b9" stroke="#6f76b9"/>
<path d="M353.88,532.21 A65.75,65.75 0 0 1 357.71,533.21 L356.01,539.01 A59.70,59.70 0 0 0 352.53,538.11 Z" fill="#4662af" stroke="#4662af"/>
<path d="M352.53,538.11 A59.70,59.70 0 0 1 356.01,539.01 L354.30,544.82 A53.65,53.65 0 0 0 351.18,544.00 Z" fill="#8983bf" stroke="#8983bf"/>
<path d="M351.18,544.00 A53.65,53.65 0 0 1 354.30,544.82 L352.60,550.62 A47.60,47.60 0 0 0 349.83,549.90 Z" fill="#3a5cac" stroke="#3a5cac"/>
<path d="M359.41,527.40 A71.80,71.80 0 0 1 363.52,528.74 L361.47,534.44 A65.75,65.75 0 0 0 357.71,533.21 Z" fill="#8882bf" stroke="#8882bf"/>
<path d="M357.71,533.21 A65.75,65.75 0 0 1 361.47,534.44 L359.42,540.13 A59.70,59.70 0 0 0 356.01,539.01 Z" fill="#e6202a" stroke="#e6202a"/>
<path d="M356.01,539.01 A59.70,59.70 0 0 1 359.42,540.13 L357.37,545.82 A53.65,53.65 0 0 0 354.30,544.82 Z" fill="#f09a86" stroke="#f09a86"/>
<path d="M354.30,544.82 A53.65,53.65 0 0 1 357.37,545.82 L355.32,551.51 A47.60,47.60 0 0 0 352.60,550.62 Z" fill="#ee796b" stroke="#ee796b"/>
<path d="M363.52,528.74 A71.80,71.80 0 0 1 367.54,530.33 L365.15,535.89 A65.75,65.75 0 0 0 361.47,534.44 Z" fill="#f09d89" stroke="#f09d89"/>
<path d="M361.47,534.44 A65.75,65.75 0 0 1 365.15,535.89 L362.77,541.45 A59.70,59.70 0 0 0 359.42,540.13 Z" fill="#ee8473" stroke="#ee8473"/>
<path d="M359.42,540.13 A59.70,59.70 0 0 1 362.77,541.45 L360.38,547.01 A53.65,53.65 0 0 0 357.37,545.82 Z" fill="#f6f3f7" stroke="#f6f3f7"/>
<path d="M357.37,545.82 A53.65,53.65 0 0 1 360.38,547.01 L357.99,552.57 A47.60,47.60 0 0 0 355.32,551.51 Z" fill="#f09882" stroke="#f09882"/>
<path d="M367.54,530.33 A71.80,71.80 0 0 1 371.46,532.16 L368.74,537.56 A65.75,65.75 0 0 0 365.15,535.89 Z" fill="#ef8675" stroke="#ef8675"/>
<path d="M365.15,535.89 A65.75,65.75 0 0 1 368.74,537.56 L366.02,542.97 A59.70,59.70 0 0 0 362.77,541.45 Z" fill="#ef8c79" stroke="#ef8c79"/>
<path d="M362.77,541.45 A59.70,59.70 0 0 1 366.02,542.97 L363.31,548.37 A53.65,53.65 0 0 0 360.38,547.01 Z" fill="#e5e2ee" stroke="#e5e2ee"/>
<path d="M360.38,547.01 A53.65,53.65 0 0 1 363.31,548.37 L360.59,553.78 A47.60,47.60 0 0 0 357.99,552.57 Z" fill="#ed7064" stroke="#ed7064"/>
<path d="M371.46,532.16 A71.80,71.80 0 0 1 375.26,534.21 L372.22,539.45 A65.75,65.75 0 0 0 368.74,537.56 Z" fill="#dcd7e9" stroke="#dcd7e9"/>
<path d="M368.74,537.56 A65.75,65.75 0 0 1 372.22,539.45 L369.19,544.68 A59.70,59.70 0 0 0 366.02,542.97 Z" fill="#d6d2e7" stroke="#d6d2e7"/>
<path d="M366.02,542.97 A59.70,59.70 0 0 1 369.19,544.68 L366.15,549.91 A53.65,53.65 0 0 0 363.31,548.37 Z" fill="#f6eff2" stroke="#f6eff2"/>
<path d="M363.31,548.37 A53.65,53.65 0 0 1 366.15,549.91 L363.11,555.14 A47.60,47.60 0 0 0 360.59,553.78 Z" fill="#f4d8d5" stroke="#f4d8d5"/>
<path d="M375.26,534.21 A71.80,71.80 0 0 1 378.93,536.50 L375.59,541.54 A65.75,65.75 0 0 0 372.22,539.45 Z" fill="#e6202a" stroke="#e6202a"/>
<path d="M372.22,539.45 A65.75,65.75 0 0 1 375.59,541.54 L372.24,546.57 A59.70,59.70 0 0 0 369.19,544.68 Z" fill="#e6202a" stroke="#e6202a"/>
<path d="M369.19,544.68 A59.70,59.70 0 0 1 372.24,546.57 L368.89,551.61 A53.65,53.65 0 0 0 366.15,549.91 Z" fill="#ef8b78" stroke="#ef8b78"/>
<path d="M366.15,549.91 A53.65,53.65 0 0 1 368.89,551.61 L365.54,556.65 A47.60,47.60 0 0 0 363.11,555.14 Z" fill="#8681be" stroke="#8681be"/>
<path d="M378.93,536.50 A71.80,71.80 0 0 1 382.46,539.00 L378.82,543.82 A65.75,65.75 0 0 0 375.59,541.54 Z" fill="#efecf3" stroke="#efecf3"/>
<path d="M375.59,541.54 A65.75,65.75 0 0 1 378.82,543.82 L375.17,548.65 A59.70,59.70 0 0 0 372.24,546.57 Z" fill="#e72d34" stroke="#e72d34"/>
<path d="M372.24,546.57 A59.70,59.70 0 0 1 375.17,548.65 L371.52,553.48 A53.65,53.65 0 0 0 368.89,551.61 Z" fill="#f6eef1" stroke="#f6eef1"/>
<path d="M368.89,551.61 A53.65,53.65 0 0 1 371.52,553.48 L367.88,558.31 A47.60,47.60 0 0 0 365.54,556.65 Z" fill="#d8d4e8" stroke="#d8d4e8"/>
<path d="M382.46,539.00 A71.80,71.80 0 0 1 385.83,541.70 L381.90,546.30 A65.75,65.75 0 0 0 378.82,543.82 Z" fill="#dcd8ea" stroke="#dcd8ea"/>
<path d="M378.82,543.82 A65.75,65.75 0 0 1 381.90,546.30 L377.97,550.90 A59.70,59.70 0 0 0 375.17,548.65 Z" fill="#e6202a" stroke="#e6202a"/>
<path d="M375.17,548.65 A59.70,59.70 0 0 1 377.97,550.90 L374.04,555.50 A53.65,53.65 0 0 0 371.52,553.48 Z" fill="#e3dfed" stroke="#e3dfed"/>
<path d="M371.52,553.48 A53.65,53.65 0 0 1 374.04,555.50 L370.11,560.10 A47.60,47.60 0 0 0 367.88,558.31 Z" fill="#f5dedc" stroke="#f5dedc"/>
<path d="M385.83,541.70 A71.80,71.80 0 0 1 389.03,544.61 L384.83,548.96 A65.75,65.75 0 0 0 381.90,546.30 Z" fill="#ee7a6c" stroke="#ee7a6c"/>
<path d="M381.90,546.30 A65.75,65.75 0 0 1 384.83,548.96 L380.63,553.32 A59.70,59.70 0 0 0 377.97,550.90 Z" fill="#f4f1f6" stroke="#f4f1f6"/>
<path d="M377.97,550.90 A59.70,59.70 0 0 1 380.63,553.32 L376.43,557.67 A53.65,53.65 0 0 0 374.04,555.50 Z" fill="#e6202a" stroke="#e6202a"/>
<path d="M374.04,555.50 A53.65,53.65 0 0 1 376.43,557.67 L372.24,562.03 A47.60,47.60 0 0 0 370.11,560.10 Z" fill="#ee7a6c" stroke="#ee7a6c"/>
<path d="M389.03,544.61 A71.80,71.80 0 0 1 392.05,547.70 L387.60,551.80 A65.75,65.75 0 0 0 384.83,548.96 Z" fill="#ed7668" stroke="#ed7668"/>
<path d="M384.83,548.96 A65.75,65.75 0 0 1 387.60,551.80 L383.14,555.89 A59.70,59.70 0 0 0 380.63,553.32 Z" fill="#e83539" stroke="#e83539"/>
<path d="M380.63,553.32 A59.70,59.70 0 0 1 383.14,555.89 L378.69,559.99 A53.65,53.65 0 0 0 376.43,557.67 Z" fill="#e2deed" stroke="#e2deed"/>
<path d="M376.43,557.67 A53.65,53.65 0 0 1 378.69,559.99 L374.24,564.08 A47.60,47.60 0 0 0 372.24,562.03 Z" fill="#f0917c" stroke="#f0917c"/>
<path d="M392.05,547.70 A71.80,71.80 0 0 1 394.88,550.97 L390.19,554.79 A65.75,65.75 0 0 0 387.60,551.80 Z" fill="#ef8c79" stroke="#ef8c79"/>
<path d="M387.60,551.80 A65.75,65.75 0 0 1 390.19,554.79 L385.50,558.61 A59.70,59.70 0 0 0 383.14,555.89 Z" fill="#e72c32" stroke="#e72c32"/>
<path d="M383.14,555.89 A59.70,59.70 0 0 1 385.50,558.61 L380.81,562.43 A53.65,53.65 0 0 0 378.69,559.99 Z" fill="#d7d3e7" stroke="#d7d3e7"/>
<path d="M378.69,559.99 A53.65,53.65 0 0 1 380.81,562.43 L376.11,566.25 A47.60,47.60 0 0 0 374.24,564.08 Z" fill="#ef8775" stroke="#ef8775"/>
<path d="M394.88,550.97 A71.80,71.80 0 0 1 397.51,554.40 L392.59,557.93 A65.75,65.75 0 0 0 390.19,554.79 Z" fill="#ed7064" stroke="#ed7064"/>
<path d="M390.19,554.79 A65.75,65.75 0 0 1 392.59,557.93 L387.68,561.46 A59.70,59.70 0 0 0 385.50,558.61 Z" fill="#f0927d" stroke="#f0927d"/>
<path d="M385.50,558.61 A59.70,59.70 0 0 1 387.68,561.46 L382.77,564.99 A53.65,53.65 0 0 0 380.81,562.43 Z" fill="#e6202a" stroke="#e6202a"/>
<path d="M380.81,562.43 A53.65,53.65 0 0 1 382.77,564.99 L377.86,568.52 A47.60,47.60 0 0 0 376.11,566.25 Z" fill="#f0917c" stroke="#f0917c"/>
<path d="M397.51,554.40 A71.80,71.80 0 0 1 399.92,557.99 L394.81,561.21 A65.75,65.75 0 0 0 392.59,557.93 Z" fill="#e6232c" stroke="#e6232c"/>
<path d="M392.59,557.93 A65.75,65.75 0 0 1 394.81,561.21 L389.69,564.44 A59.70,59.70 0 0 0 387.68,561.46 Z" fill="#f4d6d2" stroke="#f4d6d2"/>
<path d="M387.68,561.46 A59.70,59.70 0 0 1 389.69,564.44 L384.57,567.67 A53.65,53.65 0 0 0 382.77,564.99 Z" fill="#f0957f" stroke="#f0957f"/>
<path d="M382.77,564.99 A53.65,53.65 0 0 1 384.57,567.67 L379.46,570.90 A47.60,47.60 0 0 0 377.86,568.52 Z" fill="#f5e5e5" stroke="#f5e5e5"/>
<path d="M399.92,557.99 A71.80,71.80 0 0 1 402.12,561.71 L396.82,564.62 A65.75,65.75 0 0 0 394.81,561.21 Z" fill="#e6212b" stroke="#e6212b"/>
<path d="M394.81,561.21 A65.75,65.75 0 0 1 396.82,564.62 L391.52,567.54 A59.70,59.70 0 0 0 389.69,564.44 Z" fill="#f6ecee" stroke="#f6ecee"/>
<path d="M389.69,564.44 A59.70,59.70 0 0 1 391.52,567.54 L386.21,570.45 A53.65,53.65 0 0 0 384.57,567.67 Z" fill="#ed7366" stroke="#ed7366"/>
<path d="M384.57,567.67 A53.65,53.65 0 0 1 386.21,570.45 L380.91,573.37 A47.60,47.60 0 0 0 379.46,570.90 Z" fill="#dcd8e9" stroke="#dcd8e9"/>
<path d="M402.12,561.71 A71.80,71.80 0 0 1 404.09,565.56 L398.62,568.15 A65.75,65.75 0 0 0 396.82,564.62 Z" fill="#e6202a" stroke="#e6202a"/>
<path d="M396.82,564.62 A65.75,65.75 0 0 1 398.62,568.15 L393.15,570.74 A59.70,59.70 0 0 0 391.52,567.54 Z" fill="#f0957f" stroke="#f0957f"/>
<path d="M391.52,567.54 A59.70,59.70 0 0 1 393.15,570.74 L387.68,573.33 A53.65,53.65 0 0 0 386.21,570.45 Z" fill="#e6202a" stroke="#e6202a"/>
<path d="M386.21,570.45 A53.65,53.65 0 0 1 387.68,573.33 L382.22,575.92 A47.60,47.60 0 0 0 380.91,573.37 Z" fill="#f4dbd8" stroke="#f4dbd8"/>
<path d="M404.09,565.56 A71.80,71.80 0 0 1 405.82,569.52 L400.21,571.78 A65.75,65.75 0 0 0 398.62,568.15 Z" fill="#ee8271" stroke="#ee8271"/>
<path d="M398.62,568.15 A65.75,65.75 0 0 1 400.21,571.78 L394.59,574.03 A59.70,59.70 0 0 0 393.15,570.74 Z" fill="#f3f0f6" stroke="#f3f0f6"/>
<path d="M393.15,570.74 A59.70,59.70 0 0 1 394.59,574.03 L388.98,576.29 A53.65,53.65 0 0 0 387.68,573.33 Z" fill="#f4d8d5" stroke="#f4d8d5"/>
<path d="M387.68,573.33 A53.65,53.65 0 0 1 388.98,576.29 L383.37,578.55 A47.60,47.60 0 0 0 382.22,575.92 Z" fill="#e8373b" stroke="#e8373b"/>
<path d="M405.82,569.52 A71.80,71.80 0 0 1 407.31,573.58 L401.57,575.49 A65.75,65.75 0 0 0 400.21,571.78 Z" fill="#ee8372" stroke="#ee8372"/>
<path d="M400.21,571.78 A65.75,65.75 0 0 1 401.57,575.49 L395.83,577.41 A59.70,59.70 0 0 0 394.59,574.03 Z" fill="#f3f0f6" stroke="#f3f0f6"/>
<path d="M394.59,574.03 A59.70,59.70 0 0 1 395.83,577.41 L390.09,579.32 A53.65,53.65 0 0 0 388.98,576.29 Z" fill="#f6ecef" stroke="#f6ecef"/>
<path d="M388.98,576.29 A53.65,53.65 0 0 1 390.09,579.32 L384.35,581.24 A47.60,47.60 0 0 0 383.37,578.55 Z" fill="#e6202a" stroke="#e6202a"/>
<path d="M407.31,573.58 A71.80,71.80 0 0 1 408.55,577.72 L402.71,579.28 A65.75,65.75 0 0 0 401.57,575.49 Z" fill="#e6202a" stroke="#e6202a"/>
<path d="M401.57,575.49 A65.75,65.75 0 0 1 402.71,579.28 L396.87,580.85 A59.70,59.70 0 0 0 395.83,577.41 Z" fill="#ee8372" stroke="#ee8372"/>
<path d="M395.83,577.41 A59.70,59.70 0 0 1 396.87,580.85 L391.02,582.41 A53.65,53.65 0 0 0 390.09,579.32 Z" fill="#f0957f" stroke="#f0957f"/>
<path d="M390.09,579.32 A53.65,53.65 0 0 1 391.02,582.41 L385.18,583.98 A47.60,47.60 0 0 0 384.35,581.24 Z" fill="#e72f35" stroke="#e72f35"/>
</g>
<g font-size="5" fill="#111" stroke="#111" stroke-width="0.1">
<text transform="translate(413.07,598.52) rotate(1.73)" dy="1.75">Wnk1_T_58</text>
<text transform="translate(412.80,602.97) rotate(5.18)" dy="1.75">Camk2g_T_287</text>
<text transform="translate(412.26,607.38) rotate(8.62)" dy="1.75">Camk2g_T_287_2</text>
<text transform="translate(411.46,611.76) rotate(12.08)" dy="1.75">Stk3_S_493</text>
<text transform="translate(410.40,616.08) rotate(15.53)" dy="1.75">Cdk5_T_39_2</text>
<text transform="translate(409.08,620.33) rotate(18.98)" dy="1.75">Camk1d_T_56</text>
<text transform="translate(407.51,624.49) rotate(22.43)" dy="1.75">Cdk16_S_1298</text>
<text transform="translate(405.69,628.55) rotate(25.88)" dy="1.75">Cdk14_T_321_2</text>
<text transform="translate(403.63,632.49) rotate(29.33)" dy="1.75">Mapk14_T_794</text>
<text transform="translate(401.34,636.31) rotate(32.77)" dy="1.75">Prkaca_S_1563</text>
<text transform="translate(398.82,639.97) rotate(36.23)" dy="1.75">Camk1d_Y_999</text>
<text transform="translate(396.08,643.48) rotate(39.68)" dy="1.75">Csnk2a1_Y_90</text>
<text transform="translate(393.14,646.82) rotate(43.12)" dy="1.75">Rock2_T_1451_2</text>
<text transform="translate(390.00,649.97) rotate(46.58)" dy="1.75">Akt1_S_128</text>
<text transform="translate(386.68,652.93) rotate(50.03)" dy="1.75">Oxsr1_Y_108</text>
<text transform="translate(383.18,655.69) rotate(53.48)" dy="1.75">Mapk12_T_654</text>
<text transform="translate(379.53,658.23) rotate(56.93)" dy="1.75">Gsk3b_T_902</text>
<text transform="translate(375.73,660.54) rotate(60.38)" dy="1.75">Prkg1_S_191</text>
<text transform="translate(371.80,662.62) rotate(63.83)" dy="1.75">Rps6kb1_T_15</text>
<text transform="translate(367.75,664.46) rotate(67.28)" dy="1.75">Akt1_S_554</text>
<text transform="translate(363.59,666.06) rotate(70.73)" dy="1.75">Ckb_S_1727</text>
<text transform="translate(359.35,667.40) rotate(74.17)" dy="1.75">Fgfr1_T_734</text>
<text transform="translate(355.04,668.48) rotate(77.62)" dy="1.75">Bckdk_T_1551</text>
<text transform="translate(350.66,669.31) rotate(81.08)" dy="1.75">Mapk12_Y_1395_2</text>
<text transform="translate(346.25,669.86) rotate(84.53)" dy="1.75">Mapk3_T_231_2</text>
<text transform="translate(341.81,670.15) rotate(87.98)" dy="1.75">Pkm_T_208</text>
<text transform="translate(337.36,670.18) rotate(-88.57)" text-anchor="end" dy="1.75">Ulk1_S_1344_2</text>
<text transform="translate(332.92,669.93) rotate(-85.12)" text-anchor="end" dy="1.75">Eef2k_S_18</text>
<text transform="translate(328.50,669.42) rotate(-81.67)" text-anchor="end" dy="1.75">Mast2_T_17</text>
<text transform="translate(324.12,668.64) rotate(-78.22)" text-anchor="end" dy="1.75">Chek1_S_641</text>
<text transform="translate(319.79,667.61) rotate(-74.77)" text-anchor="end" dy="1.75">Mapk1_S_1110</text>
<text transform="translate(315.54,666.31) rotate(-71.32)" text-anchor="end" dy="1.75">Fgfr1_T_1344</text>
<text transform="translate(311.37,664.76) rotate(-67.88)" text-anchor="end" dy="1.75">Cdk14_T_74</text>
<text transform="translate(307.30,662.96) rotate(-64.42)" text-anchor="end" dy="1.75">Pdpk1_Y_486</text>
<text transform="translate(303.34,660.92) rotate(-60.97)" text-anchor="end" dy="1.75">Pdpk1_T_421</text>
<text transform="translate(299.52,658.64) rotate(-57.52)" text-anchor="end" dy="1.75">Aurkb_S_1540</text>
<text transform="translate(295.84,656.14) rotate(-54.07)" text-anchor="end" dy="1.75">Camk2b_T_99_2</text>
<text transform="translate(292.32,653.43) rotate(-50.62)" text-anchor="end" dy="1.75">Aurkb_S_37</text>
<text transform="translate(288.97,650.50) rotate(-47.17)" text-anchor="end" dy="1.75">Camk2g_S_43</text>
<text transform="translate(285.80,647.38) rotate(-43.72)" text-anchor="end" dy="1.75">Pkn1_S_712</text>
<text transform="translate(282.82,644.07) rotate(-40.28)" text-anchor="end" dy="1.75">Prkaca_Y_98</text>
<text transform="translate(280.05,640.59) rotate(-36.82)" text-anchor="end" dy="1.75">Pkn1_T_313</text>
<text transform="translate(277.49,636.95) rotate(-33.38)" text-anchor="end" dy="1.75">Pdk2_T_82</text>
<text transform="translate(275.15,633.17) rotate(-29.92)" text-anchor="end" dy="1.75">Dyrk1a_S_91</text>
<text transform="translate(273.05,629.25) rotate(-26.47)" text-anchor="end" dy="1.75">Sik3_S_845</text>
<text transform="translate(271.19,625.20) rotate(-23.03)" text-anchor="end" dy="1.75">Prkaca_Y_1458</text>
<text transform="translate(269.57,621.06) rotate(-19.57)" text-anchor="end" dy="1.75">Map2k4_T_1195</text>
<text transform="translate(268.21,616.82) rotate(-16.12)" text-anchor="end" dy="1.75">Csnk2a1_T_445</text>
<text transform="translate(267.10,612.52) rotate(-12.67)" text-anchor="end" dy="1.75">Camk2g_T_886</text>
<text transform="translate(266.26,608.15) rotate(-9.22)" text-anchor="end" dy="1.75">Pkm_S_78_2</text>
<text transform="translate(265.68,603.74) rotate(-5.77)" text-anchor="end" dy="1.75">Pkn1_S_159</text>
<text transform="translate(265.36,599.30) rotate(-2.32)" text-anchor="end" dy="1.75">Dyrk1a_S_66</text>
<text transform="translate(265.31,594.85) rotate(1.12)" text-anchor="end" dy="1.75">Ckb_S_1621</text>
<text transform="translate(265.54,590.41) rotate(4.58)" text-anchor="end" dy="1.75">Camk2g_T_1084</text>
<text transform="translate(266.02,585.98) rotate(8.03)" text-anchor="end" dy="1.75">Gsk3a_S_678</text>
<text transform="translate(266.78,581.60) rotate(11.48)" text-anchor="end" dy="1.75">Cdk14_S_1401</text>
<text transform="translate(267.79,577.27) rotate(14.93)" text-anchor="end" dy="1.75">Cdk1_T_367</text>
<text transform="translate(269.07,573.00) rotate(18.38)" text-anchor="end" dy="1.75">Rps6kb1_T_1401</text>
<text transform="translate(270.60,568.83) rotate(21.83)" text-anchor="end" dy="1.75">Map2k4_S_37</text>
<text transform="translate(272.37,564.75) rotate(25.28)" text-anchor="end" dy="1.75">Prkca_Y_1724</text>
<text transform="translate(274.39,560.78) rotate(28.73)" text-anchor="end" dy="1.75">Mast2_S_1369</text>
<text transform="translate(276.65,556.95) rotate(32.18)" text-anchor="end" dy="1.75">Cdk14_T_99</text>
<text transform="translate(279.13,553.25) rotate(35.62)" text-anchor="end" dy="1.75">Prkaca_Y_28</text>
<text transform="translate(281.83,549.72) rotate(39.08)" text-anchor="end" dy="1.75">Pak2_S_23</text>
<text transform="translate(284.74,546.35) rotate(42.53)" text-anchor="end" dy="1.75">Prkaca_T_417</text>
<text transform="translate(287.84,543.16) rotate(45.98)" text-anchor="end" dy="1.75">Aurkb_S_199_2</text>
<text transform="translate(291.13,540.17) rotate(49.43)" text-anchor="end" dy="1.75">Gsk3a_S_1282</text>
<text transform="translate(294.60,537.38) rotate(52.88)" text-anchor="end" dy="1.75">Mast2_T_1348</text>
<text transform="translate(298.22,534.80) rotate(56.33)" text-anchor="end" dy="1.75">Mapk1_S_96</text>
<text transform="translate(302.00,532.45) rotate(59.78)" text-anchor="end" dy="1.75">Mast2_T_538</text>
<text transform="translate(305.91,530.32) rotate(63.23)" text-anchor="end" dy="1.75">Wnk1_S_836</text>
<text transform="translate(309.94,528.44) rotate(66.68)" text-anchor="end" dy="1.75">Mylk_S_352</text>
<text transform="translate(314.08,526.80) rotate(70.12)" text-anchor="end" dy="1.75">Cdk16_S_169_2</text>
<text transform="translate(318.30,525.42) rotate(73.58)" text-anchor="end" dy="1.75">Camk2d_T_612_2</text>
<text transform="translate(322.61,524.29) rotate(77.03)" text-anchor="end" dy="1.75">Chek1_T_537</text>
<text transform="translate(326.97,523.42) rotate(80.48)" text-anchor="end" dy="1.75">Cdk5_Y_1187</text>
<text transform="translate(331.38,522.82) rotate(83.93)" text-anchor="end" dy="1.75">Nek9_Y_266</text>
<text transform="translate(335.82,522.48) rotate(87.38)" text-anchor="end" dy="1.75">Pdpk1_S_1154</text>
<text transform="translate(340.26,522.41) rotate(270.82)" dy="1.75">Raf1_T_1433</text>
<text transform="translate(344.71,522.61) rotate(274.28)" dy="1.75">Camk2b_S_90</text>
<text transform="translate(349.13,523.07) rotate(277.73)" dy="1.75">Mapk12_S_682</text>
<text transform="translate(353.52,523.80) rotate(281.18)" dy="1.75">Cdk14_T_1633</text>
<text transform="translate(357.86,524.79) rotate(284.62)" dy="1.75">Mapk14_T_571</text>
<text transform="translate(362.13,526.05) rotate(288.07)" dy="1.75">Mast2_Y_1675_2</text>
<text transform="translate(366.31,527.55) rotate(291.53)" dy="1.75">Nek9_T_1092</text>
<text transform="translate(370.40,529.31) rotate(294.98)" dy="1.75">Map3k7_Y_471</text>
<text transform="translate(374.38,531.31) rotate(298.43)" dy="1.75">Camk2b_Y_1461</text>
<text transform="translate(378.22,533.54) rotate(301.88)" dy="1.75">Rps6kb1_S_1584</text>
<text transform="translate(381.93,536.01) rotate(305.32)" dy="1.75">Cdk14_S_1011</text>
<text transform="translate(385.48,538.69) rotate(308.78)" dy="1.75">Cdk1_T_110</text>
<text transform="translate(388.86,541.58) rotate(312.23)" dy="1.75">Mapkapk2_Y_865</text>
<text transform="translate(392.07,544.66) rotate(315.68)" dy="1.75">Chek1_T_1241</text>
<text transform="translate(395.08,547.94) rotate(319.12)" dy="1.75">Nek9_S_131</text>
<text transform="translate(397.89,551.39) rotate(322.57)" dy="1.75">Fgfr1_S_52</text>
<text transform="translate(400.48,555.00) rotate(326.03)" dy="1.75">Camk2g_T_858</text>
<text transform="translate(402.86,558.77) rotate(329.48)" dy="1.75">Pkm_T_1497</text>
<text transform="translate(405.00,562.66) rotate(332.93)" dy="1.75">Cdk7_T_475</text>
<text transform="translate(406.91,566.68) rotate(336.38)" dy="1.75">Prkd1_S_652</text>
<text transform="translate(408.57,570.81) rotate(339.83)" dy="1.75">Cdk5_S_983</text>
<text transform="translate(409.97,575.03) rotate(343.28)" dy="1.75">Rps6ka1_S_584</text>
</g>
<text transform="translate(409.57,594.00) rotate(-90)" font-size="4.4" fill="#222">SOL</text>
<text transform="translate(403.52,594.00) rotate(-90)" font-size="4.4" fill="#222">TA</text>
<text transform="translate(397.48,594.00) rotate(-90)" font-size="4.4" fill="#222">TRI</text>
<text transform="translate(391.43,594.00) rotate(-90)" font-size="4.4" fill="#222">GAS</text>
<text x="338.10" y="584.40" font-size="3.8" font-weight="bold" fill="#111">log2FC</text>
<defs><linearGradient id="lg2" x1="0" y1="0" x2="0" y2="1">
<stop offset="0.0" stop-color="#e6202a"/>
<stop offset="0.25" stop-color="#f09680"/>
<stop offset="0.5" stop-color="#f6f3f7"/>
<stop offset="0.75" stop-color="#8c84c0"/>
<stop offset="1.0" stop-color="#3a5cac"/>
</linearGradient></defs>
<rect x="337.80" y="586.50" width="5.1" height="24" fill="url(#lg2)"/>
<text x="344.10" y="587.80" font-size="3.8" fill="#222">1</text>
<text x="344.10" y="593.55" font-size="3.8" fill="#222">0.5</text>
<text x="344.10" y="599.30" font-size="3.8" fill="#222">0</text>
<text x="344.10" y="605.05" font-size="3.8" fill="#222">−0.5</text>
<text x="344.10" y="610.80" font-size="3.8" fill="#222">−1</text>
<text x="571.5" y="471.0" font-size="14.2" font-weight="bold" fill="#111" text-anchor="middle">RM</text>
<g stroke-width="0.3">
<path d="M646.20,601.90 A71.80,71.80 0 0 1 646.07,606.22 L640.03,605.86 A65.75,65.75 0 0 0 640.15,601.90 Z" fill="#e9e5f0" stroke="#e9e5f0"/>
<path d="M640.15,601.90 A65.75,65.75 0 0 1 640.03,605.86 L633.99,605.49 A59.70,59.70 0 0 0 634.10,601.90 Z" fill="#f6f1f4" stroke="#f6f1f4"/>
<path d="M634.10,601.90 A59.70,59.70 0 0 1 633.99,605.49 L627.95,605.13 A53.65,53.65 0 0 0 628.05,601.90 Z" fill="#e7272f" stroke="#e7272f"/>
<path d="M628.05,601.90 A53.65,53.65 0 0 1 627.95,605.13 L621.91,604.76 A47.60,47.60 0 0 0 622.00,601.90 Z" fill="#3e5ead" stroke="#3e5ead"/>
<path d="M646.07,606.22 A71.80,71.80 0 0 1 645.68,610.53 L639.67,609.80 A65.75,65.75 0 0 0 640.03,605.86 Z" fill="#e6202a" stroke="#e6202a"/>
<path d="M640.03,605.86 A65.75,65.75 0 0 1 639.67,609.80 L633.67,609.07 A59.70,59.70 0 0 0 633.99,605.49 Z" fill="#3a5cac" stroke="#3a5cac"/>
<path d="M633.99,605.49 A59.70,59.70 0 0 1 633.67,609.07 L627.66,608.35 A53.65,53.65 0 0 0 627.95,605.13 Z" fill="#ddd9ea" stroke="#ddd9ea"/>
<path d="M627.95,605.13 A53.65,53.65 0 0 1 627.66,608.35 L621.66,607.62 A47.60,47.60 0 0 0 621.91,604.76 Z" fill="#f5e4e4" stroke="#f5e4e4"/>
<path d="M645.68,610.53 A71.80,71.80 0 0 1 645.03,614.80 L639.08,613.71 A65.75,65.75 0 0 0 639.67,609.80 Z" fill="#aaa4d0" stroke="#aaa4d0"/>
<path d="M639.67,609.80 A65.75,65.75 0 0 1 639.08,613.71 L633.13,612.63 A59.70,59.70 0 0 0 633.67,609.07 Z" fill="#e72f35" stroke="#e72f35"/>
<path d="M633.67,609.07 A59.70,59.70 0 0 1 633.13,612.63 L627.18,611.54 A53.65,53.65 0 0 0 627.66,608.35 Z" fill="#ed6e63" stroke="#ed6e63"/>
<path d="M627.66,608.35 A53.65,53.65 0 0 1 627.18,611.54 L621.23,610.45 A47.60,47.60 0 0 0 621.66,607.62 Z" fill="#e6222b" stroke="#e6222b"/>
<path d="M645.03,614.80 A71.80,71.80 0 0 1 644.13,619.03 L638.25,617.58 A65.75,65.75 0 0 0 639.08,613.71 Z" fill="#4762af" stroke="#4762af"/>
<path d="M639.08,613.71 A65.75,65.75 0 0 1 638.25,617.58 L632.38,616.14 A59.70,59.70 0 0 0 633.13,612.63 Z" fill="#7e7dbd" stroke="#7e7dbd"/>
<path d="M633.13,612.63 A59.70,59.70 0 0 1 632.38,616.14 L626.50,614.70 A53.65,53.65 0 0 0 627.18,611.54 Z" fill="#8480be" stroke="#8480be"/>
<path d="M627.18,611.54 A53.65,53.65 0 0 1 626.50,614.70 L620.63,613.25 A47.60,47.60 0 0 0 621.23,610.45 Z" fill="#e83438" stroke="#e83438"/>
<path d="M644.13,619.03 A71.80,71.80 0 0 1 642.97,623.19 L637.19,621.40 A65.75,65.75 0 0 0 638.25,617.58 Z" fill="#f5e6e6" stroke="#f5e6e6"/>
<path d="M638.25,617.58 A65.75,65.75 0 0 1 637.19,621.40 L631.41,619.60 A59.70,59.70 0 0 0 632.38,616.14 Z" fill="#f4d6d2" stroke="#f4d6d2"/>
<path d="M632.38,616.14 A59.70,59.70 0 0 1 631.41,619.60 L625.64,617.81 A53.65,53.65 0 0 0 626.50,614.70 Z" fill="#3b5cac" stroke="#3b5cac"/>
<path d="M626.50,614.70 A53.65,53.65 0 0 1 625.64,617.81 L619.86,616.02 A47.60,47.60 0 0 0 620.63,613.25 Z" fill="#8882bf" stroke="#8882bf"/>
<path d="M642.97,623.19 A71.80,71.80 0 0 1 641.56,627.28 L635.91,625.14 A65.75,65.75 0 0 0 637.19,621.40 Z" fill="#f5e3e3" stroke="#f5e3e3"/>
<path d="M637.19,621.40 A65.75,65.75 0 0 1 635.91,625.14 L630.25,623.00 A59.70,59.70 0 0 0 631.41,619.60 Z" fill="#dbd7e9" stroke="#dbd7e9"/>
<path d="M631.41,619.60 A59.70,59.70 0 0 1 630.25,623.00 L624.59,620.86 A53.65,53.65 0 0 0 625.64,617.81 Z" fill="#4461ae" stroke="#4461ae"/>
<path d="M625.64,617.81 A53.65,53.65 0 0 1 624.59,620.86 L618.93,618.73 A47.60,47.60 0 0 0 619.86,616.02 Z" fill="#827fbe" stroke="#827fbe"/>
<path d="M641.56,627.28 A71.80,71.80 0 0 1 639.92,631.28 L634.40,628.80 A65.75,65.75 0 0 0 635.91,625.14 Z" fill="#f09580" stroke="#f09580"/>
<path d="M635.91,625.14 A65.75,65.75 0 0 1 634.40,628.80 L628.87,626.32 A59.70,59.70 0 0 0 630.25,623.00 Z" fill="#3a5cac" stroke="#3a5cac"/>
<path d="M630.25,623.00 A59.70,59.70 0 0 1 628.87,626.32 L623.35,623.85 A53.65,53.65 0 0 0 624.59,620.86 Z" fill="#ed7568" stroke="#ed7568"/>
<path d="M624.59,620.86 A53.65,53.65 0 0 1 623.35,623.85 L617.83,621.37 A47.60,47.60 0 0 0 618.93,618.73 Z" fill="#e6222b" stroke="#e6222b"/>
<path d="M639.92,631.28 A71.80,71.80 0 0 1 638.03,635.16 L632.67,632.36 A65.75,65.75 0 0 0 634.40,628.80 Z" fill="#4360ae" stroke="#4360ae"/>
<path d="M634.40,628.80 A65.75,65.75 0 0 1 632.67,632.36 L627.31,629.56 A59.70,59.70 0 0 0 628.87,626.32 Z" fill="#8e86c1" stroke="#8e86c1"/>
<path d="M628.87,626.32 A59.70,59.70 0 0 1 627.31,629.56 L621.94,626.76 A53.65,53.65 0 0 0 623.35,623.85 Z" fill="#4260ae" stroke="#4260ae"/>
<path d="M623.35,623.85 A53.65,53.65 0 0 1 621.94,626.76 L616.58,623.95 A47.60,47.60 0 0 0 617.83,621.37 Z" fill="#ed7266" stroke="#ed7266"/>
<path d="M638.03,635.16 A71.80,71.80 0 0 1 635.91,638.93 L630.73,635.81 A65.75,65.75 0 0 0 632.67,632.36 Z" fill="#3a5cac" stroke="#3a5cac"/>
<path d="M632.67,632.36 A65.75,65.75 0 0 1 630.73,635.81 L625.55,632.69 A59.70,59.70 0 0 0 627.31,629.56 Z" fill="#8b83c0" stroke="#8b83c0"/>
<path d="M627.31,629.56 A59.70,59.70 0 0 1 625.55,632.69 L620.36,629.57 A53.65,53.65 0 0 0 621.94,626.76 Z" fill="#3a5cac" stroke="#3a5cac"/>
<path d="M621.94,626.76 A53.65,53.65 0 0 1 620.36,629.57 L615.18,626.45 A47.60,47.60 0 0 0 616.58,623.95 Z" fill="#ed7265" stroke="#ed7265"/>
<path d="M635.91,638.93 A71.80,71.80 0 0 1 633.57,642.57 L628.59,639.14 A65.75,65.75 0 0 0 630.73,635.81 Z" fill="#ed7568" stroke="#ed7568"/>
<path d="M630.73,635.81 A65.75,65.75 0 0 1 628.59,639.14 L623.60,635.71 A59.70,59.70 0 0 0 625.55,632.69 Z" fill="#6f76b9" stroke="#6f76b9"/>
<path d="M625.55,632.69 A59.70,59.70 0 0 1 623.60,635.71 L618.61,632.29 A53.65,53.65 0 0 0 620.36,629.57 Z" fill="#3a5cac" stroke="#3a5cac"/>
<path d="M620.36,629.57 A53.65,53.65 0 0 1 618.61,632.29 L613.63,628.86 A47.60,47.60 0 0 0 615.18,626.45 Z" fill="#e73036" stroke="#e73036"/>
<path d="M633.57,642.57 A71.80,71.80 0 0 1 631.02,646.06 L626.25,642.33 A65.75,65.75 0 0 0 628.59,639.14 Z" fill="#f4d0ca" stroke="#f4d0ca"/>
<path d="M628.59,639.14 A65.75,65.75 0 0 1 626.25,642.33 L621.48,638.61 A59.70,59.70 0 0 0 623.60,635.71 Z" fill="#ef8e7a" stroke="#ef8e7a"/>
<path d="M623.60,635.71 A59.70,59.70 0 0 1 621.48,638.61 L616.71,634.89 A53.65,53.65 0 0 0 618.61,632.29 Z" fill="#f5e6e7" stroke="#f5e6e7"/>
<path d="M618.61,632.29 A53.65,53.65 0 0 1 616.71,634.89 L611.93,631.17 A47.60,47.60 0 0 0 613.63,628.86 Z" fill="#f09580" stroke="#f09580"/>
<path d="M631.02,646.06 A71.80,71.80 0 0 1 628.26,649.38 L623.72,645.38 A65.75,65.75 0 0 0 626.25,642.33 Z" fill="#f6eef0" stroke="#f6eef0"/>
<path d="M626.25,642.33 A65.75,65.75 0 0 1 623.72,645.38 L619.18,641.38 A59.70,59.70 0 0 0 621.48,638.61 Z" fill="#f0917c" stroke="#f0917c"/>
<path d="M621.48,638.61 A59.70,59.70 0 0 1 619.18,641.38 L614.64,637.38 A53.65,53.65 0 0 0 616.71,634.89 Z" fill="#f0edf4" stroke="#f0edf4"/>
<path d="M616.71,634.89 A53.65,53.65 0 0 1 614.64,637.38 L610.11,633.38 A47.60,47.60 0 0 0 611.93,631.17 Z" fill="#ef8574" stroke="#ef8574"/>
<path d="M628.26,649.38 A71.80,71.80 0 0 1 625.30,652.54 L621.01,648.27 A65.75,65.75 0 0 0 623.72,645.38 Z" fill="#3d5ead" stroke="#3d5ead"/>
<path d="M623.72,645.38 A65.75,65.75 0 0 1 621.01,648.27 L616.72,644.00 A59.70,59.70 0 0 0 619.18,641.38 Z" fill="#f4d4cf" stroke="#f4d4cf"/>
<path d="M619.18,641.38 A59.70,59.70 0 0 1 616.72,644.00 L612.44,639.74 A53.65,53.65 0 0 0 614.64,637.38 Z" fill="#f5e3e2" stroke="#f5e3e2"/>
<path d="M614.64,637.38 A53.65,53.65 0 0 1 612.44,639.74 L608.15,635.47 A47.60,47.60 0 0 0 610.11,633.38 Z" fill="#f4d2cd" stroke="#f4d2cd"/>
<path d="M625.30,652.54 A71.80,71.80 0 0 1 622.16,655.51 L618.14,650.99 A65.75,65.75 0 0 0 621.01,648.27 Z" fill="#4863af" stroke="#4863af"/>
<path d="M621.01,648.27 A65.75,65.75 0 0 1 618.14,650.99 L614.11,646.47 A59.70,59.70 0 0 0 616.72,644.00 Z" fill="#f4cec8" stroke="#f4cec8"/>
<path d="M616.72,644.00 A59.70,59.70 0 0 1 614.11,646.47 L610.09,641.96 A53.65,53.65 0 0 0 612.44,639.74 Z" fill="#8681be" stroke="#8681be"/>
<path d="M612.44,639.74 A53.65,53.65 0 0 1 610.09,641.96 L606.06,637.44 A47.60,47.60 0 0 0 608.15,635.47 Z" fill="#e83338" stroke="#e83338"/>
<path d="M622.16,655.51 A71.80,71.80 0 0 1 618.85,658.29 L615.11,653.53 A65.75,65.75 0 0 0 618.14,650.99 Z" fill="#4863af" stroke="#4863af"/>
<path d="M618.14,650.99 A65.75,65.75 0 0 1 615.11,653.53 L611.36,648.78 A59.70,59.70 0 0 0 614.11,646.47 Z" fill="#f4d0ca" stroke="#f4d0ca"/>
<path d="M614.11,646.47 A59.70,59.70 0 0 1 611.36,648.78 L607.61,644.03 A53.65,53.65 0 0 0 610.09,641.96 Z" fill="#9088c2" stroke="#9088c2"/>
<path d="M610.09,641.96 A53.65,53.65 0 0 1 607.61,644.03 L603.87,639.28 A47.60,47.60 0 0 0 606.06,637.44 Z" fill="#e6202a" stroke="#e6202a"/>
<path d="M618.85,658.29 A71.80,71.80 0 0 1 615.38,660.86 L611.92,655.89 A65.75,65.75 0 0 0 615.11,653.53 Z" fill="#8782bf" stroke="#8782bf"/>
<path d="M615.11,653.53 A65.75,65.75 0 0 1 611.92,655.89 L608.47,650.92 A59.70,59.70 0 0 0 611.36,648.78 Z" fill="#3a5cac" stroke="#3a5cac"/>
<path d="M611.36,648.78 A59.70,59.70 0 0 1 608.47,650.92 L605.02,645.95 A53.65,53.65 0 0 0 607.61,644.03 Z" fill="#f4d9d5" stroke="#f4d9d5"/>
<path d="M607.61,644.03 A53.65,53.65 0 0 1 605.02,645.95 L601.57,640.99 A47.60,47.60 0 0 0 603.87,639.28 Z" fill="#827fbe" stroke="#827fbe"/>
<path d="M615.38,660.86 A71.80,71.80 0 0 1 611.75,663.22 L608.61,658.05 A65.75,65.75 0 0 0 611.92,655.89 Z" fill="#7679bb" stroke="#7679bb"/>
<path d="M611.92,655.89 A65.75,65.75 0 0 1 608.61,658.05 L605.46,652.88 A59.70,59.70 0 0 0 608.47,650.92 Z" fill="#3a5cac" stroke="#3a5cac"/>
<path d="M608.47,650.92 A59.70,59.70 0 0 1 605.46,652.88 L602.31,647.72 A53.65,53.65 0 0 0 605.02,645.95 Z" fill="#f4d7d4" stroke="#f4d7d4"/>
<path d="M605.02,645.95 A53.65,53.65 0 0 1 602.31,647.72 L599.16,642.55 A47.60,47.60 0 0 0 601.57,640.99 Z" fill="#948cc4" stroke="#948cc4"/>
<path d="M611.75,663.22 A71.80,71.80 0 0 1 608.00,665.35 L605.17,660.01 A65.75,65.75 0 0 0 608.61,658.05 Z" fill="#6f76b9" stroke="#6f76b9"/>
<path d="M608.61,658.05 A65.75,65.75 0 0 1 605.17,660.01 L602.34,654.66 A59.70,59.70 0 0 0 605.46,652.88 Z" fill="#8b83c0" stroke="#8b83c0"/>
<path d="M605.46,652.88 A59.70,59.70 0 0 1 602.34,654.66 L599.50,649.31 A53.65,53.65 0 0 0 602.31,647.72 Z" fill="#ef8f7b" stroke="#ef8f7b"/>
<path d="M602.31,647.72 A53.65,53.65 0 0 1 599.50,649.31 L596.67,643.97 A47.60,47.60 0 0 0 599.16,642.55 Z" fill="#7177b9" stroke="#7177b9"/>
<path d="M608.00,665.35 A71.80,71.80 0 0 1 604.12,667.26 L601.61,661.75 A65.75,65.75 0 0 0 605.17,660.01 Z" fill="#777abb" stroke="#777abb"/>
<path d="M605.17,660.01 A65.75,65.75 0 0 1 601.61,661.75 L599.11,656.25 A59.70,59.70 0 0 0 602.34,654.66 Z" fill="#8983bf" stroke="#8983bf"/>
<path d="M602.34,654.66 A59.70,59.70 0 0 1 599.11,656.25 L596.61,650.74 A53.65,53.65 0 0 0 599.50,649.31 Z" fill="#ed7568" stroke="#ed7568"/>
<path d="M599.50,649.31 A53.65,53.65 0 0 1 596.61,650.74 L594.10,645.23 A47.60,47.60 0 0 0 596.67,643.97 Z" fill="#6d75b8" stroke="#6d75b8"/>
<path d="M604.12,667.26 A71.80,71.80 0 0 1 600.13,668.93 L597.96,663.28 A65.75,65.75 0 0 0 601.61,661.75 Z" fill="#8380be" stroke="#8380be"/>
<path d="M601.61,661.75 A65.75,65.75 0 0 1 597.96,663.28 L595.79,657.63 A59.70,59.70 0 0 0 599.11,656.25 Z" fill="#6d75b8" stroke="#6d75b8"/>
<path d="M599.11,656.25 A59.70,59.70 0 0 1 595.79,657.63 L593.63,651.99 A53.65,53.65 0 0 0 596.61,650.74 Z" fill="#ee7e6e" stroke="#ee7e6e"/>
<path d="M596.61,650.74 A53.65,53.65 0 0 1 593.63,651.99 L591.46,646.34 A47.60,47.60 0 0 0 594.10,645.23 Z" fill="#efebf3" stroke="#efebf3"/>
<path d="M600.13,668.93 A71.80,71.80 0 0 1 596.05,670.36 L594.23,664.59 A65.75,65.75 0 0 0 597.96,663.28 Z" fill="#4963b0" stroke="#4963b0"/>
<path d="M597.96,663.28 A65.75,65.75 0 0 1 594.23,664.59 L592.40,658.82 A59.70,59.70 0 0 0 595.79,657.63 Z" fill="#ed6f64" stroke="#ed6f64"/>
<path d="M595.79,657.63 A59.70,59.70 0 0 1 592.40,658.82 L590.58,653.05 A53.65,53.65 0 0 0 593.63,651.99 Z" fill="#7f7ebd" stroke="#7f7ebd"/>
<path d="M593.63,651.99 A53.65,53.65 0 0 1 590.58,653.05 L588.75,647.28 A47.60,47.60 0 0 0 591.46,646.34 Z" fill="#4e66b1" stroke="#4e66b1"/>
<path d="M596.05,670.36 A71.80,71.80 0 0 1 591.89,671.54 L590.42,665.67 A65.75,65.75 0 0 0 594.23,664.59 Z" fill="#3a5cac" stroke="#3a5cac"/>
<path d="M594.23,664.59 A65.75,65.75 0 0 1 590.42,665.67 L588.94,659.80 A59.70,59.70 0 0 0 592.40,658.82 Z" fill="#f1a08c" stroke="#f1a08c"/>
<path d="M592.40,658.82 A59.70,59.70 0 0 1 588.94,659.80 L587.47,653.93 A53.65,53.65 0 0 0 590.58,653.05 Z" fill="#8380be" stroke="#8380be"/>
<path d="M590.58,653.05 A53.65,53.65 0 0 1 587.47,653.93 L586.00,648.07 A47.60,47.60 0 0 0 588.75,647.28 Z" fill="#3a5cac" stroke="#3a5cac"/>
<path d="M591.89,671.54 A71.80,71.80 0 0 1 587.67,672.46 L586.55,666.52 A65.75,65.75 0 0 0 590.42,665.67 Z" fill="#3a5cac" stroke="#3a5cac"/>
<path d="M590.42,665.67 A65.75,65.75 0 0 1 586.55,666.52 L585.43,660.57 A59.70,59.70 0 0 0 588.94,659.80 Z" fill="#7b7cbc" stroke="#7b7cbc"/>
<path d="M588.94,659.80 A59.70,59.70 0 0 1 585.43,660.57 L584.32,654.63 A53.65,53.65 0 0 0 587.47,653.93 Z" fill="#8380be" stroke="#8380be"/>
<path d="M587.47,653.93 A53.65,53.65 0 0 1 584.32,654.63 L583.20,648.68 A47.60,47.60 0 0 0 586.00,648.07 Z" fill="#f09c88" stroke="#f09c88"/>
<path d="M587.67,672.46 A71.80,71.80 0 0 1 583.40,673.13 L582.64,667.13 A65.75,65.75 0 0 0 586.55,666.52 Z" fill="#f1a18e" stroke="#f1a18e"/>
<path d="M586.55,666.52 A65.75,65.75 0 0 1 582.64,667.13 L581.88,661.13 A59.70,59.70 0 0 0 585.43,660.57 Z" fill="#8e86c1" stroke="#8e86c1"/>
<path d="M585.43,660.57 A59.70,59.70 0 0 1 581.88,661.13 L581.12,655.13 A53.65,53.65 0 0 0 584.32,654.63 Z" fill="#edeaf3" stroke="#edeaf3"/>
<path d="M584.32,654.63 A53.65,53.65 0 0 1 581.12,655.13 L580.37,649.12 A47.60,47.60 0 0 0 583.20,648.68 Z" fill="#e6202a" stroke="#e6202a"/>
<path d="M583.40,673.13 A71.80,71.80 0 0 1 579.10,673.55 L578.70,667.51 A65.75,65.75 0 0 0 582.64,667.13 Z" fill="#ed7467" stroke="#ed7467"/>
<path d="M582.64,667.13 A65.75,65.75 0 0 1 578.70,667.51 L578.30,661.47 A59.70,59.70 0 0 0 581.88,661.13 Z" fill="#7a7bbc" stroke="#7a7bbc"/>
<path d="M581.88,661.13 A59.70,59.70 0 0 1 578.30,661.47 L577.91,655.44 A53.65,53.65 0 0 0 581.12,655.13 Z" fill="#f6f1f4" stroke="#f6f1f4"/>
<path d="M581.12,655.13 A53.65,53.65 0 0 1 577.91,655.44 L577.51,649.40 A47.60,47.60 0 0 0 580.37,649.12 Z" fill="#e6202a" stroke="#e6202a"/>
<path d="M579.10,673.55 A71.80,71.80 0 0 1 574.78,673.70 L574.74,667.65 A65.75,65.75 0 0 0 578.70,667.51 Z" fill="#8580be" stroke="#8580be"/>
<path d="M578.70,667.51 A65.75,65.75 0 0 1 574.74,667.65 L574.71,661.60 A59.70,59.70 0 0 0 578.30,661.47 Z" fill="#f5e8e9" stroke="#f5e8e9"/>
<path d="M578.30,661.47 A59.70,59.70 0 0 1 574.71,661.60 L574.68,655.55 A53.65,53.65 0 0 0 577.91,655.44 Z" fill="#817fbd" stroke="#817fbd"/>
<path d="M577.91,655.44 A53.65,53.65 0 0 1 574.68,655.55 L574.65,649.50 A47.60,47.60 0 0 0 577.51,649.40 Z" fill="#8480be" stroke="#8480be"/>
<path d="M574.78,673.70 A71.80,71.80 0 0 1 570.45,673.59 L570.79,667.55 A65.75,65.75 0 0 0 574.74,667.65 Z" fill="#918ac3" stroke="#918ac3"/>
<path d="M574.74,667.65 A65.75,65.75 0 0 1 570.79,667.55 L571.12,661.51 A59.70,59.70 0 0 0 574.71,661.60 Z" fill="#3a5cac" stroke="#3a5cac"/>
<path d="M574.71,661.60 A59.70,59.70 0 0 1 571.12,661.51 L571.45,655.47 A53.65,53.65 0 0 0 574.68,655.55 Z" fill="#3a5cac" stroke="#3a5cac"/>
<path d="M574.68,655.55 A53.65,53.65 0 0 1 571.45,655.47 L571.78,649.43 A47.60,47.60 0 0 0 574.65,649.50 Z" fill="#e6202a" stroke="#e6202a"/>
<path d="M570.45,673.59 A71.80,71.80 0 0 1 566.15,673.22 L566.84,667.21 A65.75,65.75 0 0 0 570.79,667.55 Z" fill="#7579ba" stroke="#7579ba"/>
<path d="M570.79,667.55 A65.75,65.75 0 0 1 566.84,667.21 L567.54,661.20 A59.70,59.70 0 0 0 571.12,661.51 Z" fill="#3a5cac" stroke="#3a5cac"/>
<path d="M571.12,661.51 A59.70,59.70 0 0 1 567.54,661.20 L568.23,655.19 A53.65,53.65 0 0 0 571.45,655.47 Z" fill="#4d65b1" stroke="#4d65b1"/>
<path d="M571.45,655.47 A53.65,53.65 0 0 1 568.23,655.19 L568.93,649.18 A47.60,47.60 0 0 0 571.78,649.43 Z" fill="#e6202a" stroke="#e6202a"/>
<path d="M566.15,673.22 A71.80,71.80 0 0 1 561.87,672.60 L562.93,666.64 A65.75,65.75 0 0 0 566.84,667.21 Z" fill="#e6202a" stroke="#e6202a"/>
<path d="M566.84,667.21 A65.75,65.75 0 0 1 562.93,666.64 L563.98,660.68 A59.70,59.70 0 0 0 567.54,661.20 Z" fill="#3a5cac" stroke="#3a5cac"/>
<path d="M567.54,661.20 A59.70,59.70 0 0 1 563.98,660.68 L565.04,654.73 A53.65,53.65 0 0 0 568.23,655.19 Z" fill="#f5f2f6" stroke="#f5f2f6"/>
<path d="M568.23,655.19 A53.65,53.65 0 0 1 565.04,654.73 L566.09,648.77 A47.60,47.60 0 0 0 568.93,649.18 Z" fill="#ef8674" stroke="#ef8674"/>
<path d="M561.87,672.60 A71.80,71.80 0 0 1 557.64,671.72 L559.05,665.83 A65.75,65.75 0 0 0 562.93,666.64 Z" fill="#3a5cac" stroke="#3a5cac"/>
<path d="M562.93,666.64 A65.75,65.75 0 0 1 559.05,665.83 L560.46,659.95 A59.70,59.70 0 0 0 563.98,660.68 Z" fill="#f5e7e7" stroke="#f5e7e7"/>
<path d="M563.98,660.68 A59.70,59.70 0 0 1 560.46,659.95 L561.88,654.07 A53.65,53.65 0 0 0 565.04,654.73 Z" fill="#f5e6e6" stroke="#f5e6e6"/>
<path d="M565.04,654.73 A53.65,53.65 0 0 1 561.88,654.07 L563.29,648.18 A47.60,47.60 0 0 0 566.09,648.77 Z" fill="#3a5cac" stroke="#3a5cac"/>
<path d="M557.64,671.72 A71.80,71.80 0 0 1 553.47,670.58 L555.23,664.79 A65.75,65.75 0 0 0 559.05,665.83 Z" fill="#8480be" stroke="#8480be"/>
<path d="M559.05,665.83 A65.75,65.75 0 0 1 555.23,664.79 L557.00,659.01 A59.70,59.70 0 0 0 560.46,659.95 Z" fill="#ef8c79" stroke="#ef8c79"/>
<path d="M560.46,659.95 A59.70,59.70 0 0 1 557.00,659.01 L558.76,653.22 A53.65,53.65 0 0 0 561.88,654.07 Z" fill="#ee8070" stroke="#ee8070"/>
<path d="M561.88,654.07 A53.65,53.65 0 0 1 558.76,653.22 L560.52,647.43 A47.60,47.60 0 0 0 563.29,648.18 Z" fill="#3a5cac" stroke="#3a5cac"/>
<path d="M553.47,670.58 A71.80,71.80 0 0 1 549.37,669.20 L551.48,663.53 A65.75,65.75 0 0 0 555.23,664.79 Z" fill="#8782bf" stroke="#8782bf"/>
<path d="M555.23,664.79 A65.75,65.75 0 0 1 551.48,663.53 L553.59,657.86 A59.70,59.70 0 0 0 557.00,659.01 Z" fill="#ee7d6e" stroke="#ee7d6e"/>
<path d="M557.00,659.01 A59.70,59.70 0 0 1 553.59,657.86 L555.70,652.19 A53.65,53.65 0 0 0 558.76,653.22 Z" fill="#f1a28f" stroke="#f1a28f"/>
<path d="M558.76,653.22 A53.65,53.65 0 0 1 555.70,652.19 L557.81,646.51 A47.60,47.60 0 0 0 560.52,647.43 Z" fill="#3a5cac" stroke="#3a5cac"/>
<path d="M549.37,669.20 A71.80,71.80 0 0 1 545.37,667.57 L547.81,662.04 A65.75,65.75 0 0 0 551.48,663.53 Z" fill="#8681be" stroke="#8681be"/>
<path d="M551.48,663.53 A65.75,65.75 0 0 1 547.81,662.04 L550.26,656.50 A59.70,59.70 0 0 0 553.59,657.86 Z" fill="#f4d0ca" stroke="#f4d0ca"/>
<path d="M553.59,657.86 A59.70,59.70 0 0 1 550.26,656.50 L552.71,650.97 A53.65,53.65 0 0 0 555.70,652.19 Z" fill="#e9e5f0" stroke="#e9e5f0"/>
<path d="M555.70,652.19 A53.65,53.65 0 0 1 552.71,650.97 L555.15,645.44 A47.60,47.60 0 0 0 557.81,646.51 Z" fill="#7d7dbc" stroke="#7d7dbc"/>
<path d="M545.37,667.57 A71.80,71.80 0 0 1 541.47,665.70 L544.24,660.33 A65.75,65.75 0 0 0 547.81,662.04 Z" fill="#f5e8e9" stroke="#f5e8e9"/>
<path d="M547.81,662.04 A65.75,65.75 0 0 1 544.24,660.33 L547.02,654.95 A59.70,59.70 0 0 0 550.26,656.50 Z" fill="#787abb" stroke="#787abb"/>
<path d="M550.26,656.50 A59.70,59.70 0 0 1 547.02,654.95 L549.79,649.57 A53.65,53.65 0 0 0 552.71,650.97 Z" fill="#7a7bbb" stroke="#7a7bbb"/>
<path d="M552.71,650.97 A53.65,53.65 0 0 1 549.79,649.57 L552.57,644.20 A47.60,47.60 0 0 0 555.15,645.44 Z" fill="#edeaf3" stroke="#edeaf3"/>
<path d="M541.47,665.70 A71.80,71.80 0 0 1 537.69,663.61 L540.78,658.41 A65.75,65.75 0 0 0 544.24,660.33 Z" fill="#f2eef5" stroke="#f2eef5"/>
<path d="M544.24,660.33 A65.75,65.75 0 0 1 540.78,658.41 L543.88,653.21 A59.70,59.70 0 0 0 547.02,654.95 Z" fill="#837fbe" stroke="#837fbe"/>
<path d="M547.02,654.95 A59.70,59.70 0 0 1 543.88,653.21 L546.97,648.01 A53.65,53.65 0 0 0 549.79,649.57 Z" fill="#777abb" stroke="#777abb"/>
<path d="M549.79,649.57 A53.65,53.65 0 0 1 546.97,648.01 L550.06,642.81 A47.60,47.60 0 0 0 552.57,644.20 Z" fill="#f2eff5" stroke="#f2eff5"/>
<path d="M537.69,663.61 A71.80,71.80 0 0 1 534.04,661.28 L537.44,656.28 A65.75,65.75 0 0 0 540.78,658.41 Z" fill="#ee7b6c" stroke="#ee7b6c"/>
<path d="M540.78,658.41 A65.75,65.75 0 0 1 537.44,656.28 L540.84,651.28 A59.70,59.70 0 0 0 543.88,653.21 Z" fill="#6c75b8" stroke="#6c75b8"/>
<path d="M543.88,653.21 A59.70,59.70 0 0 1 540.84,651.28 L544.24,646.27 A53.65,53.65 0 0 0 546.97,648.01 Z" fill="#827fbd" stroke="#827fbd"/>
<path d="M546.97,648.01 A53.65,53.65 0 0 1 544.24,646.27 L547.64,641.27 A47.60,47.60 0 0 0 550.06,642.81 Z" fill="#4361ae" stroke="#4361ae"/>
<path d="M534.04,661.28 A71.80,71.80 0 0 1 530.54,658.75 L534.24,653.96 A65.75,65.75 0 0 0 537.44,656.28 Z" fill="#edeaf2" stroke="#edeaf2"/>
<path d="M537.44,656.28 A65.75,65.75 0 0 1 534.24,653.96 L537.93,649.17 A59.70,59.70 0 0 0 540.84,651.28 Z" fill="#7478ba" stroke="#7478ba"/>
<path d="M540.84,651.28 A59.70,59.70 0 0 1 537.93,649.17 L541.63,644.38 A53.65,53.65 0 0 0 544.24,646.27 Z" fill="#8b83c0" stroke="#8b83c0"/>
<path d="M544.24,646.27 A53.65,53.65 0 0 1 541.63,644.38 L545.32,639.59 A47.60,47.60 0 0 0 547.64,641.27 Z" fill="#7579ba" stroke="#7579ba"/>
<path d="M530.54,658.75 A71.80,71.80 0 0 1 527.20,656.01 L531.18,651.45 A65.75,65.75 0 0 0 534.24,653.96 Z" fill="#e4e0ee" stroke="#e4e0ee"/>
<path d="M534.24,653.96 A65.75,65.75 0 0 1 531.18,651.45 L535.15,646.89 A59.70,59.70 0 0 0 537.93,649.17 Z" fill="#f6f3f6" stroke="#f6f3f6"/>
<path d="M537.93,649.17 A59.70,59.70 0 0 1 535.15,646.89 L539.13,642.33 A53.65,53.65 0 0 0 541.63,644.38 Z" fill="#4260ae" stroke="#4260ae"/>
<path d="M541.63,644.38 A53.65,53.65 0 0 1 539.13,642.33 L543.11,637.77 A47.60,47.60 0 0 0 545.32,639.59 Z" fill="#6f76b9" stroke="#6f76b9"/>
<path d="M527.20,656.01 A71.80,71.80 0 0 1 524.03,653.07 L528.27,648.76 A65.75,65.75 0 0 0 531.18,651.45 Z" fill="#787abb" stroke="#787abb"/>
<path d="M531.18,651.45 A65.75,65.75 0 0 1 528.27,648.76 L532.52,644.44 A59.70,59.70 0 0 0 535.15,646.89 Z" fill="#efecf3" stroke="#efecf3"/>
<path d="M535.15,646.89 A59.70,59.70 0 0 1 532.52,644.44 L536.76,640.13 A53.65,53.65 0 0 0 539.13,642.33 Z" fill="#4762af" stroke="#4762af"/>
<path d="M539.13,642.33 A53.65,53.65 0 0 1 536.76,640.13 L541.01,635.82 A47.60,47.60 0 0 0 543.11,637.77 Z" fill="#f6f2f6" stroke="#f6f2f6"/>
<path d="M524.03,653.07 A71.80,71.80 0 0 1 521.04,649.94 L525.54,645.90 A65.75,65.75 0 0 0 528.27,648.76 Z" fill="#4863af" stroke="#4863af"/>
<path d="M528.27,648.76 A65.75,65.75 0 0 1 525.54,645.90 L530.03,641.85 A59.70,59.70 0 0 0 532.52,644.44 Z" fill="#3a5cac" stroke="#3a5cac"/>
<path d="M532.52,644.44 A59.70,59.70 0 0 1 530.03,641.85 L534.53,637.80 A53.65,53.65 0 0 0 536.76,640.13 Z" fill="#efecf3" stroke="#efecf3"/>
<path d="M536.76,640.13 A53.65,53.65 0 0 1 534.53,637.80 L539.03,633.75 A47.60,47.60 0 0 0 541.01,635.82 Z" fill="#405fad" stroke="#405fad"/>
<path d="M521.04,649.94 A71.80,71.80 0 0 1 518.25,646.65 L522.98,642.88 A65.75,65.75 0 0 0 525.54,645.90 Z" fill="#4963b0" stroke="#4963b0"/>
<path d="M525.54,645.90 A65.75,65.75 0 0 1 522.98,642.88 L527.71,639.10 A59.70,59.70 0 0 0 530.03,641.85 Z" fill="#3a5cac" stroke="#3a5cac"/>
<path d="M530.03,641.85 A59.70,59.70 0 0 1 527.71,639.10 L532.44,635.33 A53.65,53.65 0 0 0 534.53,637.80 Z" fill="#e7e3ef" stroke="#e7e3ef"/>
<path d="M534.53,637.80 A53.65,53.65 0 0 1 532.44,635.33 L537.17,631.56 A47.60,47.60 0 0 0 539.03,633.75 Z" fill="#3a5cac" stroke="#3a5cac"/>
<path d="M518.25,646.65 A71.80,71.80 0 0 1 515.66,643.19 L520.61,639.71 A65.75,65.75 0 0 0 522.98,642.88 Z" fill="#807ebd" stroke="#807ebd"/>
<path d="M522.98,642.88 A65.75,65.75 0 0 1 520.61,639.71 L525.56,636.23 A59.70,59.70 0 0 0 527.71,639.10 Z" fill="#7378ba" stroke="#7378ba"/>
<path d="M527.71,639.10 A59.70,59.70 0 0 1 525.56,636.23 L530.51,632.75 A53.65,53.65 0 0 0 532.44,635.33 Z" fill="#4662af" stroke="#4662af"/>
<path d="M532.44,635.33 A53.65,53.65 0 0 1 530.51,632.75 L535.46,629.27 A47.60,47.60 0 0 0 537.17,631.56 Z" fill="#8c84c0" stroke="#8c84c0"/>
<path d="M515.66,643.19 A71.80,71.80 0 0 1 513.28,639.58 L518.43,636.40 A65.75,65.75 0 0 0 520.61,639.71 Z" fill="#e4e0ee" stroke="#e4e0ee"/>
<path d="M520.61,639.71 A65.75,65.75 0 0 1 518.43,636.40 L523.58,633.23 A59.70,59.70 0 0 0 525.56,636.23 Z" fill="#7679bb" stroke="#7679bb"/>
<path d="M525.56,636.23 A59.70,59.70 0 0 1 523.58,633.23 L528.73,630.05 A53.65,53.65 0 0 0 530.51,632.75 Z" fill="#8b83c0" stroke="#8b83c0"/>
<path d="M530.51,632.75 A53.65,53.65 0 0 1 528.73,630.05 L533.88,626.88 A47.60,47.60 0 0 0 535.46,629.27 Z" fill="#f5e5e5" stroke="#f5e5e5"/>
<path d="M513.28,639.58 A71.80,71.80 0 0 1 511.12,635.83 L516.45,632.97 A65.75,65.75 0 0 0 518.43,636.40 Z" fill="#8b83c0" stroke="#8b83c0"/>
<path d="M518.43,636.40 A65.75,65.75 0 0 1 516.45,632.97 L521.79,630.11 A59.70,59.70 0 0 0 523.58,633.23 Z" fill="#f0937e" stroke="#f0937e"/>
<path d="M523.58,633.23 A59.70,59.70 0 0 1 521.79,630.11 L527.12,627.25 A53.65,53.65 0 0 0 528.73,630.05 Z" fill="#7076b9" stroke="#7076b9"/>
<path d="M528.73,630.05 A53.65,53.65 0 0 1 527.12,627.25 L532.45,624.39 A47.60,47.60 0 0 0 533.88,626.88 Z" fill="#3a5cac" stroke="#3a5cac"/>
<path d="M511.12,635.83 A71.80,71.80 0 0 1 509.20,631.96 L514.69,629.43 A65.75,65.75 0 0 0 516.45,632.97 Z" fill="#8a83c0" stroke="#8a83c0"/>
<path d="M516.45,632.97 A65.75,65.75 0 0 1 514.69,629.43 L520.18,626.89 A59.70,59.70 0 0 0 521.79,630.11 Z" fill="#f09781" stroke="#f09781"/>
<path d="M521.79,630.11 A59.70,59.70 0 0 1 520.18,626.89 L525.68,624.36 A53.65,53.65 0 0 0 527.12,627.25 Z" fill="#797bbb" stroke="#797bbb"/>
<path d="M527.12,627.25 A53.65,53.65 0 0 1 525.68,624.36 L531.17,621.83 A47.60,47.60 0 0 0 532.45,624.39 Z" fill="#3a5cac" stroke="#3a5cac"/>
<path d="M509.20,631.96 A71.80,71.80 0 0 1 507.50,627.98 L513.14,625.78 A65.75,65.75 0 0 0 514.69,629.43 Z" fill="#3a5cac" stroke="#3a5cac"/>
<path d="M514.69,629.43 A65.75,65.75 0 0 1 513.14,625.78 L518.78,623.59 A59.70,59.70 0 0 0 520.18,626.89 Z" fill="#3a5cac" stroke="#3a5cac"/>
<path d="M520.18,626.89 A59.70,59.70 0 0 1 518.78,623.59 L524.41,621.39 A53.65,53.65 0 0 0 525.68,624.36 Z" fill="#f4d3ce" stroke="#f4d3ce"/>
<path d="M525.68,624.36 A53.65,53.65 0 0 1 524.41,621.39 L530.05,619.19 A47.60,47.60 0 0 0 531.17,621.83 Z" fill="#3a5cac" stroke="#3a5cac"/>
<path d="M507.50,627.98 A71.80,71.80 0 0 1 506.06,623.91 L511.82,622.05 A65.75,65.75 0 0 0 513.14,625.78 Z" fill="#6b74b8" stroke="#6b74b8"/>
<path d="M513.14,625.78 A65.75,65.75 0 0 1 511.82,622.05 L517.57,620.20 A59.70,59.70 0 0 0 518.78,623.59 Z" fill="#f4d1cc" stroke="#f4d1cc"/>
<path d="M518.78,623.59 A59.70,59.70 0 0 1 517.57,620.20 L523.33,618.35 A53.65,53.65 0 0 0 524.41,621.39 Z" fill="#4963b0" stroke="#4963b0"/>
<path d="M524.41,621.39 A53.65,53.65 0 0 1 523.33,618.35 L529.09,616.49 A47.60,47.60 0 0 0 530.05,619.19 Z" fill="#f4cfc8" stroke="#f4cfc8"/>
<path d="M506.06,623.91 A71.80,71.80 0 0 1 504.86,619.76 L510.72,618.25 A65.75,65.75 0 0 0 511.82,622.05 Z" fill="#7c7cbc" stroke="#7c7cbc"/>
<path d="M511.82,622.05 A65.75,65.75 0 0 1 510.72,618.25 L516.58,616.75 A59.70,59.70 0 0 0 517.57,620.20 Z" fill="#f4d1cc" stroke="#f4d1cc"/>
<path d="M517.57,620.20 A59.70,59.70 0 0 1 516.58,616.75 L522.44,615.24 A53.65,53.65 0 0 0 523.33,618.35 Z" fill="#4b64b0" stroke="#4b64b0"/>
<path d="M523.33,618.35 A53.65,53.65 0 0 1 522.44,615.24 L528.30,613.74 A47.60,47.60 0 0 0 529.09,616.49 Z" fill="#e7e3ef" stroke="#e7e3ef"/>
<path d="M504.86,619.76 A71.80,71.80 0 0 1 503.91,615.54 L509.85,614.39 A65.75,65.75 0 0 0 510.72,618.25 Z" fill="#4461ae" stroke="#4461ae"/>
<path d="M510.72,618.25 A65.75,65.75 0 0 1 509.85,614.39 L515.79,613.24 A59.70,59.70 0 0 0 516.58,616.75 Z" fill="#e6202a" stroke="#e6202a"/>
<path d="M516.58,616.75 A59.70,59.70 0 0 1 515.79,613.24 L521.73,612.09 A53.65,53.65 0 0 0 522.44,615.24 Z" fill="#f5e4e3" stroke="#f5e4e3"/>
<path d="M522.44,615.24 A53.65,53.65 0 0 1 521.73,612.09 L527.67,610.94 A47.60,47.60 0 0 0 528.30,613.74 Z" fill="#e6202a" stroke="#e6202a"/>
<path d="M503.91,615.54 A71.80,71.80 0 0 1 503.21,611.27 L509.21,610.48 A65.75,65.75 0 0 0 509.85,614.39 Z" fill="#3a5cac" stroke="#3a5cac"/>
<path d="M509.85,614.39 A65.75,65.75 0 0 1 509.21,610.48 L515.21,609.69 A59.70,59.70 0 0 0 515.79,613.24 Z" fill="#f0937e" stroke="#f0937e"/>
<path d="M515.79,613.24 A59.70,59.70 0 0 1 515.21,609.69 L521.21,608.90 A53.65,53.65 0 0 0 521.73,612.09 Z" fill="#7478ba" stroke="#7478ba"/>
<path d="M521.73,612.09 A53.65,53.65 0 0 1 521.21,608.90 L527.21,608.11 A47.60,47.60 0 0 0 527.67,610.94 Z" fill="#e8383c" stroke="#e8383c"/>
<path d="M503.21,611.27 A71.80,71.80 0 0 1 502.78,606.97 L508.81,606.54 A65.75,65.75 0 0 0 509.21,610.48 Z" fill="#ef8574" stroke="#ef8574"/>
<path d="M509.21,610.48 A65.75,65.75 0 0 1 508.81,606.54 L514.85,606.12 A59.70,59.70 0 0 0 515.21,609.69 Z" fill="#e72c33" stroke="#e72c33"/>
<path d="M515.21,609.69 A59.70,59.70 0 0 1 514.85,606.12 L520.88,605.69 A53.65,53.65 0 0 0 521.21,608.90 Z" fill="#e6202a" stroke="#e6202a"/>
<path d="M521.21,608.90 A53.65,53.65 0 0 1 520.88,605.69 L526.92,605.26 A47.60,47.60 0 0 0 527.21,608.11 Z" fill="#e83a3d" stroke="#e83a3d"/>
<path d="M502.78,606.97 A71.80,71.80 0 0 1 502.60,602.65 L508.65,602.59 A65.75,65.75 0 0 0 508.81,606.54 Z" fill="#f4d4cf" stroke="#f4d4cf"/>
<path d="M508.81,606.54 A65.75,65.75 0 0 1 508.65,602.59 L514.70,602.53 A59.70,59.70 0 0 0 514.85,606.12 Z" fill="#f5eaec" stroke="#f5eaec"/>
<path d="M514.85,606.12 A59.70,59.70 0 0 1 514.70,602.53 L520.75,602.46 A53.65,53.65 0 0 0 520.88,605.69 Z" fill="#e6202a" stroke="#e6202a"/>
<path d="M520.88,605.69 A53.65,53.65 0 0 1 520.75,602.46 L526.80,602.40 A47.60,47.60 0 0 0 526.92,605.26 Z" fill="#4a64b0" stroke="#4a64b0"/>
<path d="M502.60,602.65 A71.80,71.80 0 0 1 502.69,598.33 L508.73,598.63 A65.75,65.75 0 0 0 508.65,602.59 Z" fill="#4a64b0" stroke="#4a64b0"/>
<path d="M508.65,602.59 A65.75,65.75 0 0 1 508.73,598.63 L514.77,598.93 A59.70,59.70 0 0 0 514.70,602.53 Z" fill="#e6202a" stroke="#e6202a"/>
<path d="M514.70,602.53 A59.70,59.70 0 0 1 514.77,598.93 L520.82,599.23 A53.65,53.65 0 0 0 520.75,602.46 Z" fill="#6c74b8" stroke="#6c74b8"/>
<path d="M520.75,602.46 A53.65,53.65 0 0 1 520.82,599.23 L526.86,599.53 A47.60,47.60 0 0 0 526.80,602.40 Z" fill="#e6202a" stroke="#e6202a"/>
<path d="M502.69,598.33 A71.80,71.80 0 0 1 503.03,594.02 L509.05,594.68 A65.75,65.75 0 0 0 508.73,598.63 Z" fill="#3a5cac" stroke="#3a5cac"/>
<path d="M508.73,598.63 A65.75,65.75 0 0 1 509.05,594.68 L515.06,595.35 A59.70,59.70 0 0 0 514.77,598.93 Z" fill="#e72b32" stroke="#e72b32"/>
<path d="M514.77,598.93 A59.70,59.70 0 0 1 515.06,595.35 L521.07,596.01 A53.65,53.65 0 0 0 520.82,599.23 Z" fill="#8581be" stroke="#8581be"/>
<path d="M520.82,599.23 A53.65,53.65 0 0 1 521.07,596.01 L527.09,596.68 A47.60,47.60 0 0 0 526.86,599.53 Z" fill="#e6202a" stroke="#e6202a"/>
<path d="M503.03,594.02 A71.80,71.80 0 0 1 503.64,589.74 L509.60,590.77 A65.75,65.75 0 0 0 509.05,594.68 Z" fill="#7b7cbc" stroke="#7b7cbc"/>
<path d="M509.05,594.68 A65.75,65.75 0 0 1 509.60,590.77 L515.56,591.79 A59.70,59.70 0 0 0 515.06,595.35 Z" fill="#4b64b0" stroke="#4b64b0"/>
<path d="M515.06,595.35 A59.70,59.70 0 0 1 515.56,591.79 L521.52,592.81 A53.65,53.65 0 0 0 521.07,596.01 Z" fill="#e6202a" stroke="#e6202a"/>
<path d="M521.07,596.01 A53.65,53.65 0 0 1 521.52,592.81 L527.49,593.84 A47.60,47.60 0 0 0 527.09,596.68 Z" fill="#797bbb" stroke="#797bbb"/>
<path d="M503.64,589.74 A71.80,71.80 0 0 1 504.50,585.50 L510.39,586.89 A65.75,65.75 0 0 0 509.60,590.77 Z" fill="#e72e34" stroke="#e72e34"/>
<path d="M509.60,590.77 A65.75,65.75 0 0 1 510.39,586.89 L516.28,588.27 A59.70,59.70 0 0 0 515.56,591.79 Z" fill="#f4d7d3" stroke="#f4d7d3"/>
<path d="M515.56,591.79 A59.70,59.70 0 0 1 516.28,588.27 L522.17,589.65 A53.65,53.65 0 0 0 521.52,592.81 Z" fill="#ef8b78" stroke="#ef8b78"/>
<path d="M521.52,592.81 A53.65,53.65 0 0 1 522.17,589.65 L528.06,591.03 A47.60,47.60 0 0 0 527.49,593.84 Z" fill="#f5dcda" stroke="#f5dcda"/>
<path d="M504.50,585.50 A71.80,71.80 0 0 1 505.61,581.33 L511.41,583.06 A65.75,65.75 0 0 0 510.39,586.89 Z" fill="#e72830" stroke="#e72830"/>
<path d="M510.39,586.89 A65.75,65.75 0 0 1 511.41,583.06 L517.20,584.79 A59.70,59.70 0 0 0 516.28,588.27 Z" fill="#e5e1ee" stroke="#e5e1ee"/>
<path d="M516.28,588.27 A59.70,59.70 0 0 1 517.20,584.79 L523.00,586.53 A53.65,53.65 0 0 0 522.17,589.65 Z" fill="#ef8876" stroke="#ef8876"/>
<path d="M522.17,589.65 A53.65,53.65 0 0 1 523.00,586.53 L528.80,588.26 A47.60,47.60 0 0 0 528.06,591.03 Z" fill="#f4dad7" stroke="#f4dad7"/>
<path d="M505.61,581.33 A71.80,71.80 0 0 1 506.97,577.23 L512.65,579.30 A65.75,65.75 0 0 0 511.41,583.06 Z" fill="#f09b87" stroke="#f09b87"/>
<path d="M511.41,583.06 A65.75,65.75 0 0 1 512.65,579.30 L518.34,581.38 A59.70,59.70 0 0 0 517.20,584.79 Z" fill="#8a83c0" stroke="#8a83c0"/>
<path d="M517.20,584.79 A59.70,59.70 0 0 1 518.34,581.38 L524.02,583.46 A53.65,53.65 0 0 0 523.00,586.53 Z" fill="#ed7266" stroke="#ed7266"/>
<path d="M523.00,586.53 A53.65,53.65 0 0 1 524.02,583.46 L529.70,585.54 A47.60,47.60 0 0 0 528.80,588.26 Z" fill="#4662af" stroke="#4662af"/>
<path d="M506.97,577.23 A71.80,71.80 0 0 1 508.58,573.21 L514.13,575.63 A65.75,65.75 0 0 0 512.65,579.30 Z" fill="#f5e5e5" stroke="#f5e5e5"/>
<path d="M512.65,579.30 A65.75,65.75 0 0 1 514.13,575.63 L519.67,578.05 A59.70,59.70 0 0 0 518.34,581.38 Z" fill="#d7d2e7" stroke="#d7d2e7"/>
<path d="M518.34,581.38 A59.70,59.70 0 0 1 519.67,578.05 L525.22,580.46 A53.65,53.65 0 0 0 524.02,583.46 Z" fill="#f5e6e6" stroke="#f5e6e6"/>
<path d="M524.02,583.46 A53.65,53.65 0 0 1 525.22,580.46 L530.76,582.88 A47.60,47.60 0 0 0 529.70,585.54 Z" fill="#ed7668" stroke="#ed7668"/>
<path d="M508.58,573.21 A71.80,71.80 0 0 1 510.43,569.30 L515.82,572.05 A65.75,65.75 0 0 0 514.13,575.63 Z" fill="#e8393d" stroke="#e8393d"/>
<path d="M514.13,575.63 A65.75,65.75 0 0 1 515.82,572.05 L521.21,574.80 A59.70,59.70 0 0 0 519.67,578.05 Z" fill="#eae7f1" stroke="#eae7f1"/>
<path d="M519.67,578.05 A59.70,59.70 0 0 1 521.21,574.80 L526.60,577.54 A53.65,53.65 0 0 0 525.22,580.46 Z" fill="#7679bb" stroke="#7679bb"/>
<path d="M525.22,580.46 A53.65,53.65 0 0 1 526.60,577.54 L531.99,580.29 A47.60,47.60 0 0 0 530.76,582.88 Z" fill="#f6edef" stroke="#f6edef"/>
<path d="M510.43,569.30 A71.80,71.80 0 0 1 512.50,565.51 L517.72,568.58 A65.75,65.75 0 0 0 515.82,572.05 Z" fill="#e6242d" stroke="#e6242d"/>
<path d="M515.82,572.05 A65.75,65.75 0 0 1 517.72,568.58 L522.93,571.64 A59.70,59.70 0 0 0 521.21,574.80 Z" fill="#f6f0f3" stroke="#f6f0f3"/>
<path d="M521.21,574.80 A59.70,59.70 0 0 1 522.93,571.64 L528.15,574.71 A53.65,53.65 0 0 0 526.60,577.54 Z" fill="#8a83bf" stroke="#8a83bf"/>
<path d="M526.60,577.54 A53.65,53.65 0 0 1 528.15,574.71 L533.37,577.78 A47.60,47.60 0 0 0 531.99,580.29 Z" fill="#d6d2e7" stroke="#d6d2e7"/>
<path d="M512.50,565.51 A71.80,71.80 0 0 1 514.81,561.85 L519.83,565.23 A65.75,65.75 0 0 0 517.72,568.58 Z" fill="#dfdbeb" stroke="#dfdbeb"/>
<path d="M517.72,568.58 A65.75,65.75 0 0 1 519.83,565.23 L524.85,568.60 A59.70,59.70 0 0 0 522.93,571.64 Z" fill="#f09d89" stroke="#f09d89"/>
<path d="M522.93,571.64 A59.70,59.70 0 0 1 524.85,568.60 L529.87,571.98 A53.65,53.65 0 0 0 528.15,574.71 Z" fill="#e83539" stroke="#e83539"/>
<path d="M528.15,574.71 A53.65,53.65 0 0 1 529.87,571.98 L534.89,575.35 A47.60,47.60 0 0 0 533.37,577.78 Z" fill="#3a5cac" stroke="#3a5cac"/>
<path d="M514.81,561.85 A71.80,71.80 0 0 1 517.32,558.34 L522.13,562.01 A65.75,65.75 0 0 0 519.83,565.23 Z" fill="#938cc4" stroke="#938cc4"/>
<path d="M519.83,565.23 A65.75,65.75 0 0 1 522.13,562.01 L526.94,565.68 A59.70,59.70 0 0 0 524.85,568.60 Z" fill="#f5e3e3" stroke="#f5e3e3"/>
<path d="M524.85,568.60 A59.70,59.70 0 0 1 526.94,565.68 L531.75,569.35 A53.65,53.65 0 0 0 529.87,571.98 Z" fill="#f19f8c" stroke="#f19f8c"/>
<path d="M529.87,571.98 A53.65,53.65 0 0 1 531.75,569.35 L536.56,573.02 A47.60,47.60 0 0 0 534.89,575.35 Z" fill="#e6202a" stroke="#e6202a"/>
<path d="M517.32,558.34 A71.80,71.80 0 0 1 520.05,554.98 L524.63,558.94 A65.75,65.75 0 0 0 522.13,562.01 Z" fill="#787abb" stroke="#787abb"/>
<path d="M522.13,562.01 A65.75,65.75 0 0 1 524.63,558.94 L529.21,562.89 A59.70,59.70 0 0 0 526.94,565.68 Z" fill="#ede9f2" stroke="#ede9f2"/>
<path d="M526.94,565.68 A59.70,59.70 0 0 1 529.21,562.89 L533.79,566.84 A53.65,53.65 0 0 0 531.75,569.35 Z" fill="#f0937e" stroke="#f0937e"/>
<path d="M531.75,569.35 A53.65,53.65 0 0 1 533.79,566.84 L538.37,570.80 A47.60,47.60 0 0 0 536.56,573.02 Z" fill="#e6202a" stroke="#e6202a"/>
<path d="M520.05,554.98 A71.80,71.80 0 0 1 522.97,551.80 L527.30,556.02 A65.75,65.75 0 0 0 524.63,558.94 Z" fill="#f5e9ea" stroke="#f5e9ea"/>
<path d="M524.63,558.94 A65.75,65.75 0 0 1 527.30,556.02 L531.64,560.24 A59.70,59.70 0 0 0 529.21,562.89 Z" fill="#e72830" stroke="#e72830"/>
<path d="M529.21,562.89 A59.70,59.70 0 0 1 531.64,560.24 L535.97,564.46 A53.65,53.65 0 0 0 533.79,566.84 Z" fill="#7378ba" stroke="#7378ba"/>
<path d="M533.79,566.84 A53.65,53.65 0 0 1 535.97,564.46 L540.30,568.69 A47.60,47.60 0 0 0 538.37,570.80 Z" fill="#787abb" stroke="#787abb"/>
<path d="M522.97,551.80 A71.80,71.80 0 0 1 526.08,548.79 L530.15,553.27 A65.75,65.75 0 0 0 527.30,556.02 Z" fill="#3a5cac" stroke="#3a5cac"/>
<path d="M527.30,556.02 A65.75,65.75 0 0 1 530.15,553.27 L534.22,557.74 A59.70,59.70 0 0 0 531.64,560.24 Z" fill="#ef8775" stroke="#ef8775"/>
<path d="M531.64,560.24 A59.70,59.70 0 0 1 534.22,557.74 L538.29,562.22 A53.65,53.65 0 0 0 535.97,564.46 Z" fill="#ee7e6e" stroke="#ee7e6e"/>
<path d="M535.97,564.46 A53.65,53.65 0 0 1 538.29,562.22 L542.36,566.69 A47.60,47.60 0 0 0 540.30,568.69 Z" fill="#7a7bbc" stroke="#7a7bbc"/>
<path d="M526.08,548.79 A71.80,71.80 0 0 1 529.36,545.98 L533.16,550.69 A65.75,65.75 0 0 0 530.15,553.27 Z" fill="#3a5cac" stroke="#3a5cac"/>
<path d="M530.15,553.27 A65.75,65.75 0 0 1 533.16,550.69 L536.95,555.41 A59.70,59.70 0 0 0 534.22,557.74 Z" fill="#f09b86" stroke="#f09b86"/>
<path d="M534.22,557.74 A59.70,59.70 0 0 1 536.95,555.41 L540.75,560.12 A53.65,53.65 0 0 0 538.29,562.22 Z" fill="#f0917d" stroke="#f0917d"/>
<path d="M538.29,562.22 A53.65,53.65 0 0 1 540.75,560.12 L544.54,564.83 A47.60,47.60 0 0 0 542.36,566.69 Z" fill="#8380be" stroke="#8380be"/>
<path d="M529.36,545.98 A71.80,71.80 0 0 1 532.81,543.37 L536.31,548.31 A65.75,65.75 0 0 0 533.16,550.69 Z" fill="#ee7a6c" stroke="#ee7a6c"/>
<path d="M533.16,550.69 A65.75,65.75 0 0 1 536.31,548.31 L539.82,553.24 A59.70,59.70 0 0 0 536.95,555.41 Z" fill="#f0917c" stroke="#f0917c"/>
<path d="M536.95,555.41 A59.70,59.70 0 0 1 539.82,553.24 L543.32,558.17 A53.65,53.65 0 0 0 540.75,560.12 Z" fill="#e6202a" stroke="#e6202a"/>
<path d="M540.75,560.12 A53.65,53.65 0 0 1 543.32,558.17 L546.83,563.10 A47.60,47.60 0 0 0 544.54,564.83 Z" fill="#f5e6e7" stroke="#f5e6e7"/>
<path d="M532.81,543.37 A71.80,71.80 0 0 1 536.40,540.98 L539.61,546.11 A65.75,65.75 0 0 0 536.31,548.31 Z" fill="#7c7cbc" stroke="#7c7cbc"/>
<path d="M536.31,548.31 A65.75,65.75 0 0 1 539.61,546.11 L542.81,551.24 A59.70,59.70 0 0 0 539.82,553.24 Z" fill="#e7272f" stroke="#e7272f"/>
<path d="M539.82,553.24 A59.70,59.70 0 0 1 542.81,551.24 L546.01,556.38 A53.65,53.65 0 0 0 543.32,558.17 Z" fill="#ef8a78" stroke="#ef8a78"/>
<path d="M543.32,558.17 A53.65,53.65 0 0 1 546.01,556.38 L549.21,561.51 A47.60,47.60 0 0 0 546.83,563.10 Z" fill="#4260ae" stroke="#4260ae"/>
<path d="M536.40,540.98 A71.80,71.80 0 0 1 540.14,538.80 L543.03,544.12 A65.75,65.75 0 0 0 539.61,546.11 Z" fill="#7c7cbc" stroke="#7c7cbc"/>
<path d="M539.61,546.11 A65.75,65.75 0 0 1 543.03,544.12 L545.91,549.43 A59.70,59.70 0 0 0 542.81,551.24 Z" fill="#e6202a" stroke="#e6202a"/>
<path d="M542.81,551.24 A59.70,59.70 0 0 1 545.91,549.43 L548.80,554.75 A53.65,53.65 0 0 0 546.01,556.38 Z" fill="#ef8c79" stroke="#ef8c79"/>
<path d="M546.01,556.38 A53.65,53.65 0 0 1 548.80,554.75 L551.69,560.07 A47.60,47.60 0 0 0 549.21,561.51 Z" fill="#3a5cac" stroke="#3a5cac"/>
<path d="M540.14,538.80 A71.80,71.80 0 0 1 544.00,536.85 L546.56,542.33 A65.75,65.75 0 0 0 543.03,544.12 Z" fill="#807ebd" stroke="#807ebd"/>
<path d="M543.03,544.12 A65.75,65.75 0 0 1 546.56,542.33 L549.12,547.82 A59.70,59.70 0 0 0 545.91,549.43 Z" fill="#ee7f6f" stroke="#ee7f6f"/>
<path d="M545.91,549.43 A59.70,59.70 0 0 1 549.12,547.82 L551.68,553.30 A53.65,53.65 0 0 0 548.80,554.75 Z" fill="#f1a08d" stroke="#f1a08d"/>
<path d="M548.80,554.75 A53.65,53.65 0 0 1 551.68,553.30 L554.25,558.78 A47.60,47.60 0 0 0 551.69,560.07 Z" fill="#e6242d" stroke="#e6242d"/>
<path d="M544.00,536.85 A71.80,71.80 0 0 1 547.97,535.14 L550.20,540.77 A65.75,65.75 0 0 0 546.56,542.33 Z" fill="#e6242d" stroke="#e6242d"/>
<path d="M546.56,542.33 A65.75,65.75 0 0 1 550.20,540.77 L552.42,546.39 A59.70,59.70 0 0 0 549.12,547.82 Z" fill="#e6202a" stroke="#e6202a"/>
<path d="M549.12,547.82 A59.70,59.70 0 0 1 552.42,546.39 L554.65,552.02 A53.65,53.65 0 0 0 551.68,553.30 Z" fill="#e6202a" stroke="#e6202a"/>
<path d="M551.68,553.30 A53.65,53.65 0 0 1 554.65,552.02 L556.88,557.64 A47.60,47.60 0 0 0 554.25,558.78 Z" fill="#e7272f" stroke="#e7272f"/>
<path d="M547.97,535.14 A71.80,71.80 0 0 1 552.03,533.67 L553.92,539.42 A65.75,65.75 0 0 0 550.20,540.77 Z" fill="#8f87c2" stroke="#8f87c2"/>
<path d="M550.20,540.77 A65.75,65.75 0 0 1 553.92,539.42 L555.80,545.17 A59.70,59.70 0 0 0 552.42,546.39 Z" fill="#f4dbd9" stroke="#f4dbd9"/>
<path d="M552.42,546.39 A59.70,59.70 0 0 1 555.80,545.17 L557.69,550.92 A53.65,53.65 0 0 0 554.65,552.02 Z" fill="#7679bb" stroke="#7679bb"/>
<path d="M554.65,552.02 A53.65,53.65 0 0 1 557.69,550.92 L559.57,556.67 A47.60,47.60 0 0 0 556.88,557.64 Z" fill="#7d7dbc" stroke="#7d7dbc"/>
<path d="M552.03,533.67 A71.80,71.80 0 0 1 556.18,532.45 L557.72,538.30 A65.75,65.75 0 0 0 553.92,539.42 Z" fill="#7076b9" stroke="#7076b9"/>
<path d="M553.92,539.42 A65.75,65.75 0 0 1 557.72,538.30 L559.25,544.15 A59.70,59.70 0 0 0 555.80,545.17 Z" fill="#f4dad7" stroke="#f4dad7"/>
<path d="M555.80,545.17 A59.70,59.70 0 0 1 559.25,544.15 L560.79,550.01 A53.65,53.65 0 0 0 557.69,550.92 Z" fill="#8581be" stroke="#8581be"/>
<path d="M557.69,550.92 A53.65,53.65 0 0 1 560.79,550.01 L562.32,555.86 A47.60,47.60 0 0 0 559.57,556.67 Z" fill="#8f87c1" stroke="#8f87c1"/>
<path d="M556.18,532.45 A71.80,71.80 0 0 1 560.39,531.48 L561.57,537.41 A65.75,65.75 0 0 0 557.72,538.30 Z" fill="#8a83c0" stroke="#8a83c0"/>
<path d="M557.72,538.30 A65.75,65.75 0 0 1 561.57,537.41 L562.75,543.35 A59.70,59.70 0 0 0 559.25,544.15 Z" fill="#8581be" stroke="#8581be"/>
<path d="M559.25,544.15 A59.70,59.70 0 0 1 562.75,543.35 L563.93,549.28 A53.65,53.65 0 0 0 560.79,550.01 Z" fill="#f5dfde" stroke="#f5dfde"/>
<path d="M560.79,550.01 A53.65,53.65 0 0 1 563.93,549.28 L565.11,555.21 A47.60,47.60 0 0 0 562.32,555.86 Z" fill="#f6f0f3" stroke="#f6f0f3"/>
<path d="M560.39,531.48 A71.80,71.80 0 0 1 564.66,530.76 L565.48,536.76 A65.75,65.75 0 0 0 561.57,537.41 Z" fill="#e2deed" stroke="#e2deed"/>
<path d="M561.57,537.41 A65.75,65.75 0 0 1 565.48,536.76 L566.30,542.75 A59.70,59.70 0 0 0 562.75,543.35 Z" fill="#e6202a" stroke="#e6202a"/>
<path d="M562.75,543.35 A59.70,59.70 0 0 1 566.30,542.75 L567.12,548.75 A53.65,53.65 0 0 0 563.93,549.28 Z" fill="#d7d2e7" stroke="#d7d2e7"/>
<path d="M563.93,549.28 A53.65,53.65 0 0 1 567.12,548.75 L567.94,554.74 A47.60,47.60 0 0 0 565.11,555.21 Z" fill="#e83439" stroke="#e83439"/>
<path d="M564.66,530.76 A71.80,71.80 0 0 1 568.95,530.31 L569.41,536.34 A65.75,65.75 0 0 0 565.48,536.76 Z" fill="#ee7b6c" stroke="#ee7b6c"/>
<path d="M565.48,536.76 A65.75,65.75 0 0 1 569.41,536.34 L569.87,542.37 A59.70,59.70 0 0 0 566.30,542.75 Z" fill="#f1a18e" stroke="#f1a18e"/>
<path d="M566.30,542.75 A59.70,59.70 0 0 1 569.87,542.37 L570.33,548.40 A53.65,53.65 0 0 0 567.12,548.75 Z" fill="#ddd9ea" stroke="#ddd9ea"/>
<path d="M567.12,548.75 A53.65,53.65 0 0 1 570.33,548.40 L570.79,554.44 A47.60,47.60 0 0 0 567.94,554.74 Z" fill="#f19f8b" stroke="#f19f8b"/>
<path d="M568.95,530.31 A71.80,71.80 0 0 1 573.27,530.11 L573.37,536.16 A65.75,65.75 0 0 0 569.41,536.34 Z" fill="#e6202a" stroke="#e6202a"/>
<path d="M569.41,536.34 A65.75,65.75 0 0 1 573.37,536.16 L573.46,542.21 A59.70,59.70 0 0 0 569.87,542.37 Z" fill="#e83237" stroke="#e83237"/>
<path d="M569.87,542.37 A59.70,59.70 0 0 1 573.46,542.21 L573.56,548.26 A53.65,53.65 0 0 0 570.33,548.40 Z" fill="#6c74b8" stroke="#6c74b8"/>
<path d="M570.33,548.40 A53.65,53.65 0 0 1 573.56,548.26 L573.65,554.31 A47.60,47.60 0 0 0 570.79,554.44 Z" fill="#e6202a" stroke="#e6202a"/>
<path d="M573.27,530.11 A71.80,71.80 0 0 1 577.59,530.17 L577.33,536.22 A65.75,65.75 0 0 0 573.37,536.16 Z" fill="#dfdbeb" stroke="#dfdbeb"/>
<path d="M573.37,536.16 A65.75,65.75 0 0 1 577.33,536.22 L577.06,542.26 A59.70,59.70 0 0 0 573.46,542.21 Z" fill="#e6202a" stroke="#e6202a"/>
<path d="M573.46,542.21 A59.70,59.70 0 0 1 577.06,542.26 L576.79,548.30 A53.65,53.65 0 0 0 573.56,548.26 Z" fill="#f5e3e3" stroke="#f5e3e3"/>
<path d="M573.56,548.26 A53.65,53.65 0 0 1 576.79,548.30 L576.52,554.35 A47.60,47.60 0 0 0 573.65,554.31 Z" fill="#e6202a" stroke="#e6202a"/>
<path d="M577.59,530.17 A71.80,71.80 0 0 1 581.91,530.49 L581.27,536.51 A65.75,65.75 0 0 0 577.33,536.22 Z" fill="#f4d1cb" stroke="#f4d1cb"/>
<path d="M577.33,536.22 A65.75,65.75 0 0 1 581.27,536.51 L580.64,542.53 A59.70,59.70 0 0 0 577.06,542.26 Z" fill="#e6202a" stroke="#e6202a"/>
<path d="M577.06,542.26 A59.70,59.70 0 0 1 580.64,542.53 L580.01,548.54 A53.65,53.65 0 0 0 576.79,548.30 Z" fill="#f4dbd8" stroke="#f4dbd8"/>
<path d="M576.79,548.30 A53.65,53.65 0 0 1 580.01,548.54 L579.38,554.56 A47.60,47.60 0 0 0 576.52,554.35 Z" fill="#e83a3d" stroke="#e83a3d"/>
<path d="M581.91,530.49 A71.80,71.80 0 0 1 586.19,531.07 L585.20,537.04 A65.75,65.75 0 0 0 581.27,536.51 Z" fill="#8983bf" stroke="#8983bf"/>
<path d="M581.27,536.51 A65.75,65.75 0 0 1 585.20,537.04 L584.20,543.01 A59.70,59.70 0 0 0 580.64,542.53 Z" fill="#ef8a77" stroke="#ef8a77"/>
<path d="M580.64,542.53 A59.70,59.70 0 0 1 584.20,543.01 L583.21,548.98 A53.65,53.65 0 0 0 580.01,548.54 Z" fill="#f5e0df" stroke="#f5e0df"/>
<path d="M580.01,548.54 A53.65,53.65 0 0 1 583.21,548.98 L582.22,554.95 A47.60,47.60 0 0 0 579.38,554.56 Z" fill="#e8363a" stroke="#e8363a"/>
<path d="M586.19,531.07 A71.80,71.80 0 0 1 590.43,531.91 L589.08,537.81 A65.75,65.75 0 0 0 585.20,537.04 Z" fill="#f5dedc" stroke="#f5dedc"/>
<path d="M585.20,537.04 A65.75,65.75 0 0 1 589.08,537.81 L587.73,543.71 A59.70,59.70 0 0 0 584.20,543.01 Z" fill="#e6202a" stroke="#e6202a"/>
<path d="M584.20,543.01 A59.70,59.70 0 0 1 587.73,543.71 L586.38,549.60 A53.65,53.65 0 0 0 583.21,548.98 Z" fill="#f1a08d" stroke="#f1a08d"/>
<path d="M583.21,548.98 A53.65,53.65 0 0 1 586.38,549.60 L585.03,555.50 A47.60,47.60 0 0 0 582.22,554.95 Z" fill="#eeebf3" stroke="#eeebf3"/>
<path d="M590.43,531.91 A71.80,71.80 0 0 1 594.61,533.00 L592.91,538.81 A65.75,65.75 0 0 0 589.08,537.81 Z" fill="#f5eaec" stroke="#f5eaec"/>
<path d="M589.08,537.81 A65.75,65.75 0 0 1 592.91,538.81 L591.21,544.61 A59.70,59.70 0 0 0 587.73,543.71 Z" fill="#e6202a" stroke="#e6202a"/>
<path d="M587.73,543.71 A59.70,59.70 0 0 1 591.21,544.61 L589.50,550.42 A53.65,53.65 0 0 0 586.38,549.60 Z" fill="#f09883" stroke="#f09883"/>
<path d="M586.38,549.60 A53.65,53.65 0 0 1 589.50,550.42 L587.80,556.22 A47.60,47.60 0 0 0 585.03,555.50 Z" fill="#e4e0ed" stroke="#e4e0ed"/>
<path d="M594.61,533.00 A71.80,71.80 0 0 1 598.72,534.34 L596.67,540.04 A65.75,65.75 0 0 0 592.91,538.81 Z" fill="#f09882" stroke="#f09882"/>
<path d="M592.91,538.81 A65.75,65.75 0 0 1 596.67,540.04 L594.62,545.73 A59.70,59.70 0 0 0 591.21,544.61 Z" fill="#f5e7e7" stroke="#f5e7e7"/>
<path d="M591.21,544.61 A59.70,59.70 0 0 1 594.62,545.73 L592.57,551.42 A53.65,53.65 0 0 0 589.50,550.42 Z" fill="#e6202a" stroke="#e6202a"/>
<path d="M589.50,550.42 A53.65,53.65 0 0 1 592.57,551.42 L590.52,557.11 A47.60,47.60 0 0 0 587.80,556.22 Z" fill="#f0907c" stroke="#f0907c"/>
<path d="M598.72,534.34 A71.80,71.80 0 0 1 602.74,535.93 L600.35,541.49 A65.75,65.75 0 0 0 596.67,540.04 Z" fill="#f1eef5" stroke="#f1eef5"/>
<path d="M596.67,540.04 A65.75,65.75 0 0 1 600.35,541.49 L597.97,547.05 A59.70,59.70 0 0 0 594.62,545.73 Z" fill="#ef907c" stroke="#ef907c"/>
<path d="M594.62,545.73 A59.70,59.70 0 0 1 597.97,547.05 L595.58,552.61 A53.65,53.65 0 0 0 592.57,551.42 Z" fill="#f0937e" stroke="#f0937e"/>
<path d="M592.57,551.42 A53.65,53.65 0 0 1 595.58,552.61 L593.19,558.17 A47.60,47.60 0 0 0 590.52,557.11 Z" fill="#e6252d" stroke="#e6252d"/>
<path d="M602.74,535.93 A71.80,71.80 0 0 1 606.66,537.76 L603.94,543.16 A65.75,65.75 0 0 0 600.35,541.49 Z" fill="#dcd8ea" stroke="#dcd8ea"/>
<path d="M600.35,541.49 A65.75,65.75 0 0 1 603.94,543.16 L601.22,548.57 A59.70,59.70 0 0 0 597.97,547.05 Z" fill="#ef8a77" stroke="#ef8a77"/>
<path d="M597.97,547.05 A59.70,59.70 0 0 1 601.22,548.57 L598.51,553.97 A53.65,53.65 0 0 0 595.58,552.61 Z" fill="#ed6f64" stroke="#ed6f64"/>
<path d="M595.58,552.61 A53.65,53.65 0 0 1 598.51,553.97 L595.79,559.38 A47.60,47.60 0 0 0 593.19,558.17 Z" fill="#e6252e" stroke="#e6252e"/>
<path d="M606.66,537.76 A71.80,71.80 0 0 1 610.46,539.81 L607.42,545.05 A65.75,65.75 0 0 0 603.94,543.16 Z" fill="#8982bf" stroke="#8982bf"/>
<path d="M603.94,543.16 A65.75,65.75 0 0 1 607.42,545.05 L604.39,550.28 A59.70,59.70 0 0 0 601.22,548.57 Z" fill="#e2deed" stroke="#e2deed"/>
<path d="M601.22,548.57 A59.70,59.70 0 0 1 604.39,550.28 L601.35,555.51 A53.65,53.65 0 0 0 598.51,553.97 Z" fill="#ee7f70" stroke="#ee7f70"/>
<path d="M598.51,553.97 A53.65,53.65 0 0 1 601.35,555.51 L598.31,560.74 A47.60,47.60 0 0 0 595.79,559.38 Z" fill="#e6202a" stroke="#e6202a"/>
<path d="M610.46,539.81 A71.80,71.80 0 0 1 614.13,542.10 L610.79,547.14 A65.75,65.75 0 0 0 607.42,545.05 Z" fill="#f5e3e3" stroke="#f5e3e3"/>
<path d="M607.42,545.05 A65.75,65.75 0 0 1 610.79,547.14 L607.44,552.17 A59.70,59.70 0 0 0 604.39,550.28 Z" fill="#ef8977" stroke="#ef8977"/>
<path d="M604.39,550.28 A59.70,59.70 0 0 1 607.44,552.17 L604.09,557.21 A53.65,53.65 0 0 0 601.35,555.51 Z" fill="#ef8b78" stroke="#ef8b78"/>
<path d="M601.35,555.51 A53.65,53.65 0 0 1 604.09,557.21 L600.74,562.25 A47.60,47.60 0 0 0 598.31,560.74 Z" fill="#8580be" stroke="#8580be"/>
<path d="M614.13,542.10 A71.80,71.80 0 0 1 617.66,544.60 L614.02,549.42 A65.75,65.75 0 0 0 610.79,547.14 Z" fill="#e6202a" stroke="#e6202a"/>
<path d="M610.79,547.14 A65.75,65.75 0 0 1 614.02,549.42 L610.37,554.25 A59.70,59.70 0 0 0 607.44,552.17 Z" fill="#e1ddec" stroke="#e1ddec"/>
<path d="M607.44,552.17 A59.70,59.70 0 0 1 610.37,554.25 L606.72,559.08 A53.65,53.65 0 0 0 604.09,557.21 Z" fill="#ddd9ea" stroke="#ddd9ea"/>
<path d="M604.09,557.21 A53.65,53.65 0 0 1 606.72,559.08 L603.08,563.91 A47.60,47.60 0 0 0 600.74,562.25 Z" fill="#e6202a" stroke="#e6202a"/>
<path d="M617.66,544.60 A71.80,71.80 0 0 1 621.03,547.30 L617.10,551.90 A65.75,65.75 0 0 0 614.02,549.42 Z" fill="#e6202a" stroke="#e6202a"/>
<path d="M614.02,549.42 A65.75,65.75 0 0 1 617.10,551.90 L613.17,556.50 A59.70,59.70 0 0 0 610.37,554.25 Z" fill="#f6edf0" stroke="#f6edf0"/>
<path d="M610.37,554.25 A59.70,59.70 0 0 1 613.17,556.50 L609.24,561.10 A53.65,53.65 0 0 0 606.72,559.08 Z" fill="#f6f2f6" stroke="#f6f2f6"/>
<path d="M606.72,559.08 A53.65,53.65 0 0 1 609.24,561.10 L605.31,565.70 A47.60,47.60 0 0 0 603.08,563.91 Z" fill="#e6202a" stroke="#e6202a"/>
<path d="M621.03,547.30 A71.80,71.80 0 0 1 624.23,550.21 L620.03,554.56 A65.75,65.75 0 0 0 617.10,551.90 Z" fill="#f09b86" stroke="#f09b86"/>
<path d="M617.10,551.90 A65.75,65.75 0 0 1 620.03,554.56 L615.83,558.92 A59.70,59.70 0 0 0 613.17,556.50 Z" fill="#f09781" stroke="#f09781"/>
<path d="M613.17,556.50 A59.70,59.70 0 0 1 615.83,558.92 L611.63,563.27 A53.65,53.65 0 0 0 609.24,561.10 Z" fill="#e73136" stroke="#e73136"/>
<path d="M609.24,561.10 A53.65,53.65 0 0 1 611.63,563.27 L607.44,567.63 A47.60,47.60 0 0 0 605.31,565.70 Z" fill="#f5e9ea" stroke="#f5e9ea"/>
<path d="M624.23,550.21 A71.80,71.80 0 0 1 627.25,553.30 L622.80,557.40 A65.75,65.75 0 0 0 620.03,554.56 Z" fill="#eeeaf3" stroke="#eeeaf3"/>
<path d="M620.03,554.56 A65.75,65.75 0 0 1 622.80,557.40 L618.34,561.49 A59.70,59.70 0 0 0 615.83,558.92 Z" fill="#f09983" stroke="#f09983"/>
<path d="M615.83,558.92 A59.70,59.70 0 0 1 618.34,561.49 L613.89,565.59 A53.65,53.65 0 0 0 611.63,563.27 Z" fill="#f5e2e1" stroke="#f5e2e1"/>
<path d="M611.63,563.27 A53.65,53.65 0 0 1 613.89,565.59 L609.44,569.68 A47.60,47.60 0 0 0 607.44,567.63 Z" fill="#ed7165" stroke="#ed7165"/>
<path d="M627.25,553.30 A71.80,71.80 0 0 1 630.08,556.57 L625.39,560.39 A65.75,65.75 0 0 0 622.80,557.40 Z" fill="#ece9f2" stroke="#ece9f2"/>
<path d="M622.80,557.40 A65.75,65.75 0 0 1 625.39,560.39 L620.70,564.21 A59.70,59.70 0 0 0 618.34,561.49 Z" fill="#ee7f6f" stroke="#ee7f6f"/>
<path d="M618.34,561.49 A59.70,59.70 0 0 1 620.70,564.21 L616.01,568.03 A53.65,53.65 0 0 0 613.89,565.59 Z" fill="#f5f2f6" stroke="#f5f2f6"/>
<path d="M613.89,565.59 A53.65,53.65 0 0 1 616.01,568.03 L611.31,571.85 A47.60,47.60 0 0 0 609.44,569.68 Z" fill="#ed7669" stroke="#ed7669"/>
<path d="M630.08,556.57 A71.80,71.80 0 0 1 632.71,560.00 L627.79,563.53 A65.75,65.75 0 0 0 625.39,560.39 Z" fill="#ef8574" stroke="#ef8574"/>
<path d="M625.39,560.39 A65.75,65.75 0 0 1 627.79,563.53 L622.88,567.06 A59.70,59.70 0 0 0 620.70,564.21 Z" fill="#f09781" stroke="#f09781"/>
<path d="M620.70,564.21 A59.70,59.70 0 0 1 622.88,567.06 L617.97,570.59 A53.65,53.65 0 0 0 616.01,568.03 Z" fill="#e73036" stroke="#e73036"/>
<path d="M616.01,568.03 A53.65,53.65 0 0 1 617.97,570.59 L613.06,574.12 A47.60,47.60 0 0 0 611.31,571.85 Z" fill="#d8d3e7" stroke="#d8d3e7"/>
<path d="M632.71,560.00 A71.80,71.80 0 0 1 635.12,563.59 L630.01,566.81 A65.75,65.75 0 0 0 627.79,563.53 Z" fill="#e6212b" stroke="#e6212b"/>
<path d="M627.79,563.53 A65.75,65.75 0 0 1 630.01,566.81 L624.89,570.04 A59.70,59.70 0 0 0 622.88,567.06 Z" fill="#e7272f" stroke="#e7272f"/>
<path d="M622.88,567.06 A59.70,59.70 0 0 1 624.89,570.04 L619.77,573.27 A53.65,53.65 0 0 0 617.97,570.59 Z" fill="#f09b87" stroke="#f09b87"/>
<path d="M617.97,570.59 A53.65,53.65 0 0 1 619.77,573.27 L614.66,576.50 A47.60,47.60 0 0 0 613.06,574.12 Z" fill="#f0927d" stroke="#f0927d"/>
<path d="M635.12,563.59 A71.80,71.80 0 0 1 637.32,567.31 L632.02,570.22 A65.75,65.75 0 0 0 630.01,566.81 Z" fill="#e72a31" stroke="#e72a31"/>
<path d="M630.01,566.81 A65.75,65.75 0 0 1 632.02,570.22 L626.72,573.14 A59.70,59.70 0 0 0 624.89,570.04 Z" fill="#e6202a" stroke="#e6202a"/>
<path d="M624.89,570.04 A59.70,59.70 0 0 1 626.72,573.14 L621.41,576.05 A53.65,53.65 0 0 0 619.77,573.27 Z" fill="#f09d88" stroke="#f09d88"/>
<path d="M619.77,573.27 A53.65,53.65 0 0 1 621.41,576.05 L616.11,578.97 A47.60,47.60 0 0 0 614.66,576.50 Z" fill="#ed6e63" stroke="#ed6e63"/>
<path d="M637.32,567.31 A71.80,71.80 0 0 1 639.29,571.16 L633.82,573.75 A65.75,65.75 0 0 0 632.02,570.22 Z" fill="#e6212b" stroke="#e6212b"/>
<path d="M632.02,570.22 A65.75,65.75 0 0 1 633.82,573.75 L628.35,576.34 A59.70,59.70 0 0 0 626.72,573.14 Z" fill="#ef8573" stroke="#ef8573"/>
<path d="M626.72,573.14 A59.70,59.70 0 0 1 628.35,576.34 L622.88,578.93 A53.65,53.65 0 0 0 621.41,576.05 Z" fill="#e6222b" stroke="#e6222b"/>
<path d="M621.41,576.05 A53.65,53.65 0 0 1 622.88,578.93 L617.42,581.52 A47.60,47.60 0 0 0 616.11,578.97 Z" fill="#e6202a" stroke="#e6202a"/>
<path d="M639.29,571.16 A71.80,71.80 0 0 1 641.02,575.12 L635.41,577.38 A65.75,65.75 0 0 0 633.82,573.75 Z" fill="#e6202a" stroke="#e6202a"/>
<path d="M633.82,573.75 A65.75,65.75 0 0 1 635.41,577.38 L629.79,579.63 A59.70,59.70 0 0 0 628.35,576.34 Z" fill="#e6202a" stroke="#e6202a"/>
<path d="M628.35,576.34 A59.70,59.70 0 0 1 629.79,579.63 L624.18,581.89 A53.65,53.65 0 0 0 622.88,578.93 Z" fill="#ef8b78" stroke="#ef8b78"/>
<path d="M622.88,578.93 A53.65,53.65 0 0 1 624.18,581.89 L618.57,584.15 A47.60,47.60 0 0 0 617.42,581.52 Z" fill="#ee7e6e" stroke="#ee7e6e"/>
<path d="M641.02,575.12 A71.80,71.80 0 0 1 642.51,579.18 L636.77,581.09 A65.75,65.75 0 0 0 635.41,577.38 Z" fill="#e6202a" stroke="#e6202a"/>
<path d="M635.41,577.38 A65.75,65.75 0 0 1 636.77,581.09 L631.03,583.01 A59.70,59.70 0 0 0 629.79,579.63 Z" fill="#e6262e" stroke="#e6262e"/>
<path d="M629.79,579.63 A59.70,59.70 0 0 1 631.03,583.01 L625.29,584.92 A53.65,53.65 0 0 0 624.18,581.89 Z" fill="#ee7d6e" stroke="#ee7d6e"/>
<path d="M624.18,581.89 A53.65,53.65 0 0 1 625.29,584.92 L619.55,586.84 A47.60,47.60 0 0 0 618.57,584.15 Z" fill="#ed7064" stroke="#ed7064"/>
<path d="M642.51,579.18 A71.80,71.80 0 0 1 643.75,583.32 L637.91,584.88 A65.75,65.75 0 0 0 636.77,581.09 Z" fill="#ef8c79" stroke="#ef8c79"/>
<path d="M636.77,581.09 A65.75,65.75 0 0 1 637.91,584.88 L632.07,586.45 A59.70,59.70 0 0 0 631.03,583.01 Z" fill="#f09984" stroke="#f09984"/>
<path d="M631.03,583.01 A59.70,59.70 0 0 1 632.07,586.45 L626.22,588.01 A53.65,53.65 0 0 0 625.29,584.92 Z" fill="#e72f35" stroke="#e72f35"/>
<path d="M625.29,584.92 A53.65,53.65 0 0 1 626.22,588.01 L620.38,589.58 A47.60,47.60 0 0 0 619.55,586.84 Z" fill="#ee7e6e" stroke="#ee7e6e"/>
</g>
<g font-size="5" fill="#111" stroke="#111" stroke-width="0.1">
<text transform="translate(648.27,604.12) rotate(1.73)" dy="1.75">Camk1d_S_370</text>
<text transform="translate(648.00,608.57) rotate(5.18)" dy="1.75">Mapk12_Y_185</text>
<text transform="translate(647.46,612.98) rotate(8.62)" dy="1.75">Ulk1_S_556</text>
<text transform="translate(646.66,617.36) rotate(12.08)" dy="1.75">Prkd1_S_103</text>
<text transform="translate(645.60,621.68) rotate(15.53)" dy="1.75">Pik3c2a_S_974</text>
<text transform="translate(644.28,625.93) rotate(18.98)" dy="1.75">Prkaca_S_89</text>
<text transform="translate(642.71,630.09) rotate(22.43)" dy="1.75">Raf1_S_15</text>
<text transform="translate(640.89,634.15) rotate(25.88)" dy="1.75">Cdk7_S_21</text>
<text transform="translate(638.83,638.09) rotate(29.33)" dy="1.75">Lats1_Y_107</text>
<text transform="translate(636.54,641.91) rotate(32.77)" dy="1.75">Map2k4_T_1599</text>
<text transform="translate(634.02,645.57) rotate(36.23)" dy="1.75">Prkca_S_1681_2</text>
<text transform="translate(631.28,649.08) rotate(39.68)" dy="1.75">Chek1_S_817</text>
<text transform="translate(628.34,652.42) rotate(43.12)" dy="1.75">Mylk_Y_769_2</text>
<text transform="translate(625.20,655.57) rotate(46.58)" dy="1.75">Sik3_Y_1116</text>
<text transform="translate(621.88,658.53) rotate(50.03)" dy="1.75">Fgfr1_Y_794</text>
<text transform="translate(618.38,661.29) rotate(53.48)" dy="1.75">Rps6kb1_Y_1671</text>
<text transform="translate(614.73,663.83) rotate(56.93)" dy="1.75">Aurkb_S_1665</text>
<text transform="translate(610.93,666.14) rotate(60.38)" dy="1.75">Pak2_S_593</text>
<text transform="translate(607.00,668.22) rotate(63.83)" dy="1.75">Mapk3_Y_1556</text>
<text transform="translate(602.95,670.06) rotate(67.28)" dy="1.75">Pdk2_S_59</text>
<text transform="translate(598.79,671.66) rotate(70.73)" dy="1.75">Pdk2_S_627</text>
<text transform="translate(594.55,673.00) rotate(74.17)" dy="1.75">Plk1_T_18</text>
<text transform="translate(590.24,674.08) rotate(77.62)" dy="1.75">Lats1_S_97</text>
<text transform="translate(585.86,674.91) rotate(81.08)" dy="1.75">Gsk3b_T_786</text>
<text transform="translate(581.45,675.46) rotate(84.53)" dy="1.75">Pdpk1_T_657</text>
<text transform="translate(577.01,675.75) rotate(87.98)" dy="1.75">Raf1_S_1822</text>
<text transform="translate(572.56,675.78) rotate(-88.57)" text-anchor="end" dy="1.75">Camk1d_T_1317</text>
<text transform="translate(568.12,675.53) rotate(-85.12)" text-anchor="end" dy="1.75">Pik3c2a_Y_48</text>
<text transform="translate(563.70,675.02) rotate(-81.67)" text-anchor="end" dy="1.75">Rps6kb1_Y_210</text>
<text transform="translate(559.32,674.24) rotate(-78.22)" text-anchor="end" dy="1.75">Chek1_Y_303_2</text>
<text transform="translate(554.99,673.21) rotate(-74.77)" text-anchor="end" dy="1.75">Mast2_Y_214</text>
<text transform="translate(550.74,671.91) rotate(-71.32)" text-anchor="end" dy="1.75">Gsk3a_S_151</text>
<text transform="translate(546.57,670.36) rotate(-67.88)" text-anchor="end" dy="1.75">Ksr1_T_430</text>
<text transform="translate(542.50,668.56) rotate(-64.42)" text-anchor="end" dy="1.75">Prkaca_S_86</text>
<text transform="translate(538.54,666.52) rotate(-60.97)" text-anchor="end" dy="1.75">Sik3_S_982</text>
<text transform="translate(534.72,664.24) rotate(-57.52)" text-anchor="end" dy="1.75">Mapk3_S_179</text>
<text transform="translate(531.04,661.74) rotate(-54.07)" text-anchor="end" dy="1.75">Eef2k_Y_650</text>
<text transform="translate(527.52,659.03) rotate(-50.62)" text-anchor="end" dy="1.75">Pkm_S_1707</text>
<text transform="translate(524.17,656.10) rotate(-47.17)" text-anchor="end" dy="1.75">Cdk5_S_1379</text>
<text transform="translate(521.00,652.98) rotate(-43.72)" text-anchor="end" dy="1.75">Nek9_T_923</text>
<text transform="translate(518.02,649.67) rotate(-40.28)" text-anchor="end" dy="1.75">Pdpk1_T_78</text>
<text transform="translate(515.25,646.19) rotate(-36.82)" text-anchor="end" dy="1.75">Rock2_T_31</text>
<text transform="translate(512.69,642.55) rotate(-33.38)" text-anchor="end" dy="1.75">Plk1_T_1022</text>
<text transform="translate(510.35,638.77) rotate(-29.92)" text-anchor="end" dy="1.75">Prkg1_S_1040</text>
<text transform="translate(508.25,634.85) rotate(-26.47)" text-anchor="end" dy="1.75">Camk2b_S_498</text>
<text transform="translate(506.39,630.80) rotate(-23.03)" text-anchor="end" dy="1.75">Camk2a_S_153</text>
<text transform="translate(504.77,626.66) rotate(-19.57)" text-anchor="end" dy="1.75">Gsk3a_T_355_2</text>
<text transform="translate(503.41,622.42) rotate(-16.12)" text-anchor="end" dy="1.75">Sik3_Y_1058</text>
<text transform="translate(502.30,618.12) rotate(-12.67)" text-anchor="end" dy="1.75">Lats1_T_10_2</text>
<text transform="translate(501.46,613.75) rotate(-9.22)" text-anchor="end" dy="1.75">Mast2_S_293</text>
<text transform="translate(500.88,609.34) rotate(-5.77)" text-anchor="end" dy="1.75">Csnk2a1_T_53</text>
<text transform="translate(500.56,604.90) rotate(-2.32)" text-anchor="end" dy="1.75">Csnk2a1_T_503</text>
<text transform="translate(500.51,600.45) rotate(1.12)" text-anchor="end" dy="1.75">Camk2a_T_1549</text>
<text transform="translate(500.74,596.01) rotate(4.58)" text-anchor="end" dy="1.75">Prkaa1_Y_955</text>
<text transform="translate(501.22,591.58) rotate(8.03)" text-anchor="end" dy="1.75">Prkg1_T_1719</text>
<text transform="translate(501.98,587.20) rotate(11.48)" text-anchor="end" dy="1.75">Camk1d_S_1620</text>
<text transform="translate(502.99,582.87) rotate(14.93)" text-anchor="end" dy="1.75">Wnk1_S_1023_2</text>
<text transform="translate(504.27,578.60) rotate(18.38)" text-anchor="end" dy="1.75">Camk2d_Y_94</text>
<text transform="translate(505.80,574.43) rotate(21.83)" text-anchor="end" dy="1.75">Pkn1_S_989</text>
<text transform="translate(507.57,570.35) rotate(25.28)" text-anchor="end" dy="1.75">Mapk1_S_905</text>
<text transform="translate(509.59,566.38) rotate(28.73)" text-anchor="end" dy="1.75">Camk2a_T_941</text>
<text transform="translate(511.85,562.55) rotate(32.18)" text-anchor="end" dy="1.75">Pdpk1_Y_699</text>
<text transform="translate(514.33,558.85) rotate(35.62)" text-anchor="end" dy="1.75">Cdk1_S_529</text>
<text transform="translate(517.03,555.32) rotate(39.08)" text-anchor="end" dy="1.75">Prkca_S_69</text>
<text transform="translate(519.94,551.95) rotate(42.53)" text-anchor="end" dy="1.75">Camk2a_T_203_2</text>
<text transform="translate(523.04,548.76) rotate(45.98)" text-anchor="end" dy="1.75">Cdk5_T_38</text>
<text transform="translate(526.33,545.77) rotate(49.43)" text-anchor="end" dy="1.75">Csnk2a1_Y_1617</text>
<text transform="translate(529.80,542.98) rotate(52.88)" text-anchor="end" dy="1.75">Mylk_T_66</text>
<text transform="translate(533.42,540.40) rotate(56.33)" text-anchor="end" dy="1.75">Cdk5_S_179</text>
<text transform="translate(537.20,538.05) rotate(59.78)" text-anchor="end" dy="1.75">Oxsr1_T_97</text>
<text transform="translate(541.11,535.92) rotate(63.23)" text-anchor="end" dy="1.75">Cdk1_S_958</text>
<text transform="translate(545.14,534.04) rotate(66.68)" text-anchor="end" dy="1.75">Cdk7_S_430</text>
<text transform="translate(549.28,532.40) rotate(70.12)" text-anchor="end" dy="1.75">Pkn1_Y_1548</text>
<text transform="translate(553.50,531.02) rotate(73.58)" text-anchor="end" dy="1.75">Gsk3b_T_1416</text>
<text transform="translate(557.81,529.89) rotate(77.03)" text-anchor="end" dy="1.75">Wnk1_S_289</text>
<text transform="translate(562.17,529.02) rotate(80.48)" text-anchor="end" dy="1.75">Chek1_S_583</text>
<text transform="translate(566.58,528.42) rotate(83.93)" text-anchor="end" dy="1.75">Mark2_S_859</text>
<text transform="translate(571.02,528.08) rotate(87.38)" text-anchor="end" dy="1.75">Plk1_S_554</text>
<text transform="translate(575.46,528.01) rotate(270.82)" dy="1.75">Prkd1_Y_925</text>
<text transform="translate(579.91,528.21) rotate(274.28)" dy="1.75">Mark2_S_585</text>
<text transform="translate(584.33,528.67) rotate(277.73)" dy="1.75">Stk39_S_574</text>
<text transform="translate(588.72,529.40) rotate(281.18)" dy="1.75">Pkm_Y_41</text>
<text transform="translate(593.06,530.39) rotate(284.62)" dy="1.75">Chek1_S_78</text>
<text transform="translate(597.33,531.65) rotate(288.07)" dy="1.75">Map3k7_T_55</text>
<text transform="translate(601.51,533.15) rotate(291.53)" dy="1.75">Mapk14_S_45</text>
<text transform="translate(605.60,534.91) rotate(294.98)" dy="1.75">Prkd1_S_1253</text>
<text transform="translate(609.58,536.91) rotate(298.43)" dy="1.75">Raf1_S_130</text>
<text transform="translate(613.42,539.14) rotate(301.88)" dy="1.75">Prkd1_T_1776</text>
<text transform="translate(617.13,541.61) rotate(305.32)" dy="1.75">Mapk12_S_236_2</text>
<text transform="translate(620.68,544.29) rotate(308.78)" dy="1.75">Ksr1_Y_1478</text>
<text transform="translate(624.06,547.18) rotate(312.23)" dy="1.75">Camk2g_S_287</text>
<text transform="translate(627.27,550.26) rotate(315.68)" dy="1.75">Aurkb_S_1454</text>
<text transform="translate(630.28,553.54) rotate(319.12)" dy="1.75">Raf1_T_259</text>
<text transform="translate(633.09,556.99) rotate(322.57)" dy="1.75">Wnk1_T_1847</text>
<text transform="translate(635.68,560.60) rotate(326.03)" dy="1.75">Bckdk_S_13</text>
<text transform="translate(638.06,564.37) rotate(329.48)" dy="1.75">Pdk2_Y_44</text>
<text transform="translate(640.20,568.26) rotate(332.93)" dy="1.75">Mast2_T_299</text>
<text transform="translate(642.11,572.28) rotate(336.38)" dy="1.75">Map2k4_T_50</text>
<text transform="translate(643.77,576.41) rotate(339.83)" dy="1.75">Mapkapk2_T_668</text>
<text transform="translate(645.17,580.63) rotate(343.28)" dy="1.75">Prkg1_S_73</text>
</g>
<text transform="translate(644.77,599.60) rotate(-90)" font-size="4.4" fill="#222">SOL</text>
<text transform="translate(638.73,599.60) rotate(-90)" font-size="4.4" fill="#222">TA</text>
<text transform="translate(632.67,599.60) rotate(-90)" font-size="4.4" fill="#222">TRI</text>
<text transform="translate(626.62,599.60) rotate(-90)" font-size="4.4" fill="#222">GAS</text>
<text x="573.30" y="590.00" font-size="3.8" font-weight="bold" fill="#111">log2FC</text>
<defs><linearGradient id="lg3" x1="0" y1="0" x2="0" y2="1">
<stop offset="0.0" stop-color="#e6202a"/>
<stop offset="0.25" stop-color="#f09680"/>
<stop offset="0.5" stop-color="#f6f3f7"/>
<stop offset="0.75" stop-color="#8c84c0"/>
<stop offset="1.0" stop-color="#3a5cac"/>
</linearGradient></defs>
<rect x="573.00" y="592.10" width="5.1" height="24" fill="url(#lg3)"/>
<text x="579.30" y="593.40" font-size="3.8" fill="#222">1</text>
<text x="579.30" y="599.15" font-size="3.8" fill="#222">0.5</text>
<text x="579.30" y="604.90" font-size="3.8" fill="#222">0</text>
<text x="579.30" y="610.65" font-size="3.8" fill="#222">−0.5</text>
<text x="579.30" y="616.40" font-size="3.8" fill="#222">−1</text>
</svg>
</body></html>
